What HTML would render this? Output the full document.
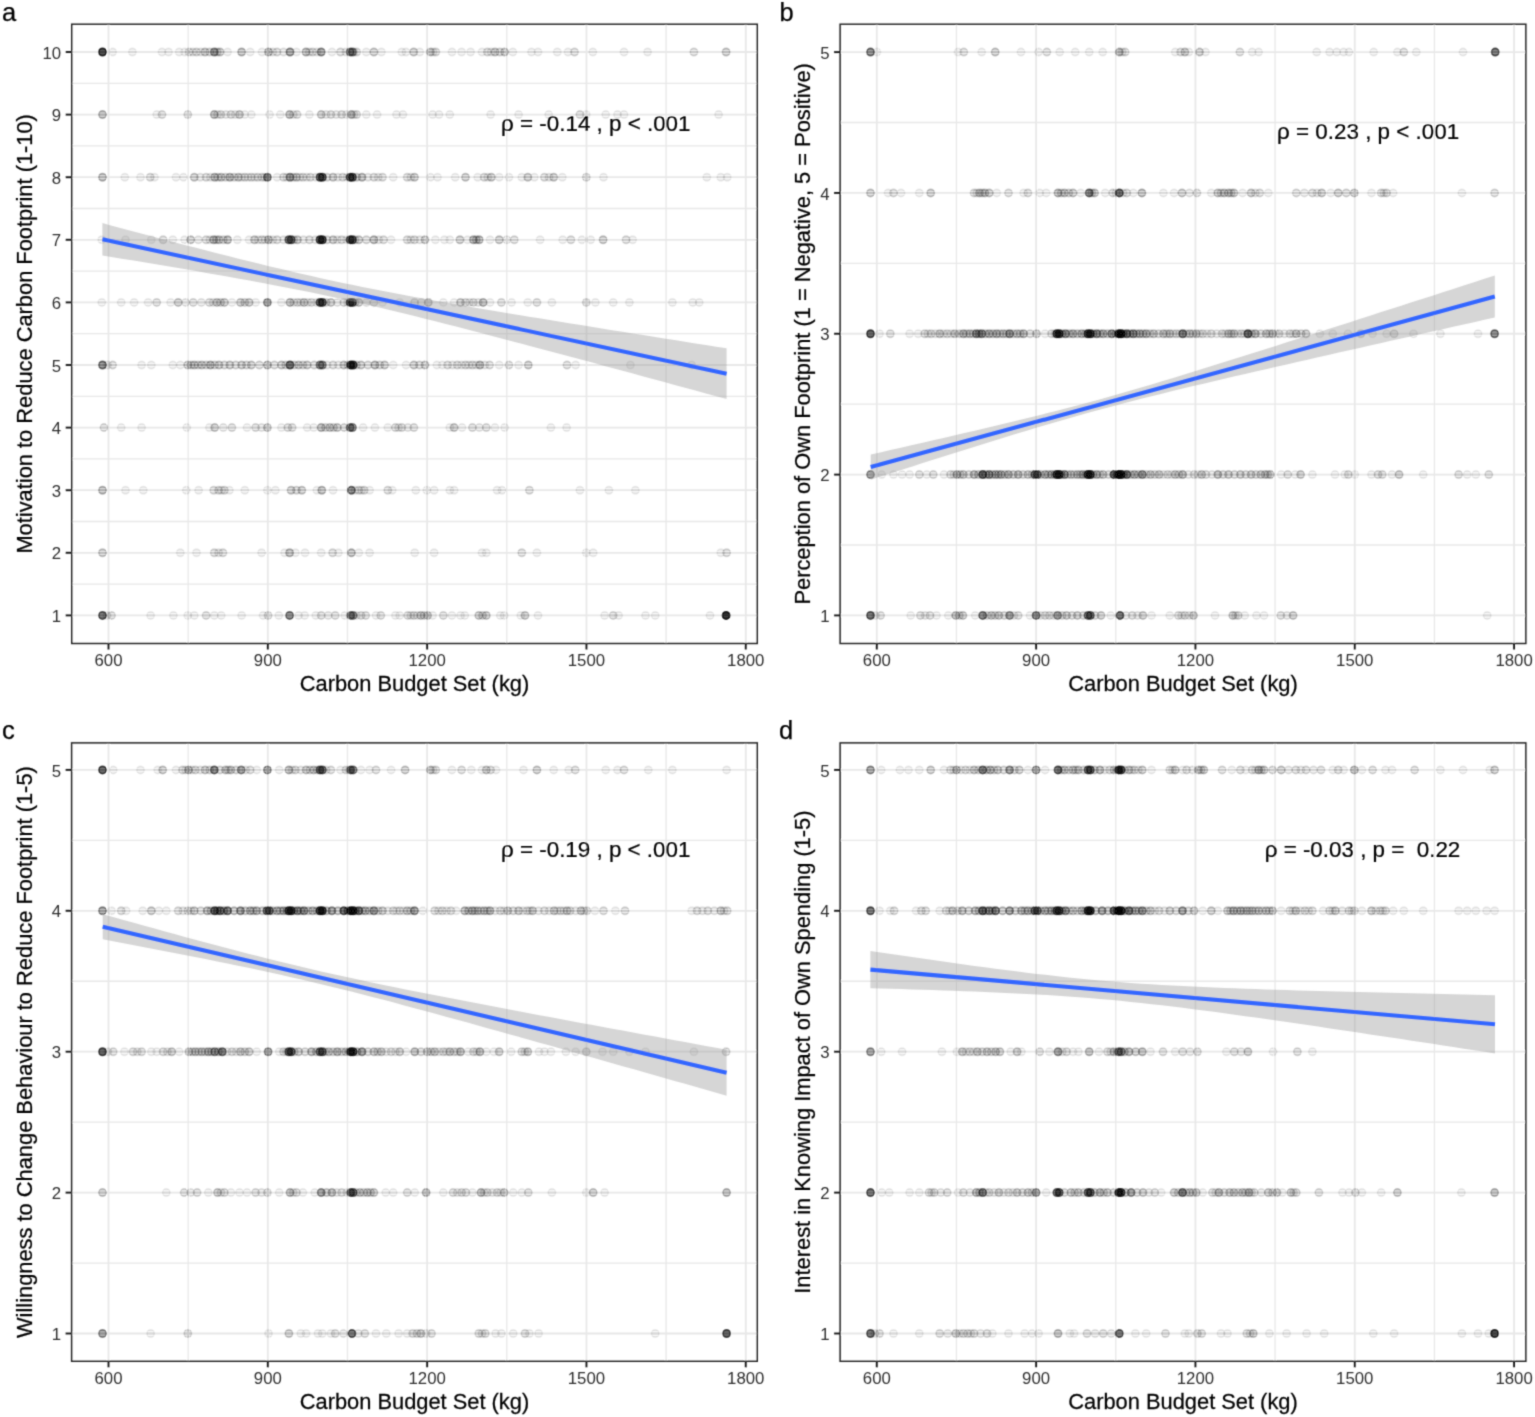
<!DOCTYPE html><html><head><meta charset="utf-8"><style>html,body{margin:0;padding:0;background:#fff;}svg{display:block;}</style></head><body>
<svg width="1535" height="1417" viewBox="0 0 1535 1417" font-family="'Liberation Sans', Arial, Helvetica, sans-serif">
<rect width="1535" height="1417" fill="#fff"/>
<defs><filter id="soft" x="0" y="0" width="100%" height="100%" filterUnits="userSpaceOnUse"><feConvolveMatrix order="3" kernelMatrix="1 4.0 1 4.0 16.0 4.0 1 4.0 1" divisor="36.0" edgeMode="duplicate"/></filter></defs>
<g filter="url(#soft)">
<clipPath id="clipa"><rect x="71.7" y="24.2" width="685.6" height="619.3"/></clipPath>
<g clip-path="url(#clipa)">
<line x1="71.7" x2="757.3" y1="584.1" y2="584.1" stroke="#E8E8E8" stroke-width="1.3"/>
<line x1="71.7" x2="757.3" y1="521.5" y2="521.5" stroke="#E8E8E8" stroke-width="1.3"/>
<line x1="71.7" x2="757.3" y1="458.9" y2="458.9" stroke="#E8E8E8" stroke-width="1.3"/>
<line x1="71.7" x2="757.3" y1="396.3" y2="396.3" stroke="#E8E8E8" stroke-width="1.3"/>
<line x1="71.7" x2="757.3" y1="333.7" y2="333.7" stroke="#E8E8E8" stroke-width="1.3"/>
<line x1="71.7" x2="757.3" y1="271.1" y2="271.1" stroke="#E8E8E8" stroke-width="1.3"/>
<line x1="71.7" x2="757.3" y1="208.5" y2="208.5" stroke="#E8E8E8" stroke-width="1.3"/>
<line x1="71.7" x2="757.3" y1="145.9" y2="145.9" stroke="#E8E8E8" stroke-width="1.3"/>
<line x1="71.7" x2="757.3" y1="83.3" y2="83.3" stroke="#E8E8E8" stroke-width="1.3"/>
<line x1="188.16" x2="188.16" y1="24.2" y2="643.5" stroke="#E8E8E8" stroke-width="1.3"/>
<line x1="347.48" x2="347.48" y1="24.2" y2="643.5" stroke="#E8E8E8" stroke-width="1.3"/>
<line x1="506.79" x2="506.79" y1="24.2" y2="643.5" stroke="#E8E8E8" stroke-width="1.3"/>
<line x1="666.11" x2="666.11" y1="24.2" y2="643.5" stroke="#E8E8E8" stroke-width="1.3"/>
<line x1="71.7" x2="757.3" y1="615.4" y2="615.4" stroke="#E8E8E8" stroke-width="1.8"/>
<line x1="71.7" x2="757.3" y1="552.8" y2="552.8" stroke="#E8E8E8" stroke-width="1.8"/>
<line x1="71.7" x2="757.3" y1="490.2" y2="490.2" stroke="#E8E8E8" stroke-width="1.8"/>
<line x1="71.7" x2="757.3" y1="427.6" y2="427.6" stroke="#E8E8E8" stroke-width="1.8"/>
<line x1="71.7" x2="757.3" y1="365" y2="365" stroke="#E8E8E8" stroke-width="1.8"/>
<line x1="71.7" x2="757.3" y1="302.4" y2="302.4" stroke="#E8E8E8" stroke-width="1.8"/>
<line x1="71.7" x2="757.3" y1="239.8" y2="239.8" stroke="#E8E8E8" stroke-width="1.8"/>
<line x1="71.7" x2="757.3" y1="177.2" y2="177.2" stroke="#E8E8E8" stroke-width="1.8"/>
<line x1="71.7" x2="757.3" y1="114.6" y2="114.6" stroke="#E8E8E8" stroke-width="1.8"/>
<line x1="71.7" x2="757.3" y1="52" y2="52" stroke="#E8E8E8" stroke-width="1.8"/>
<line x1="108.5" x2="108.5" y1="24.2" y2="643.5" stroke="#E8E8E8" stroke-width="1.8"/>
<line x1="267.82" x2="267.82" y1="24.2" y2="643.5" stroke="#E8E8E8" stroke-width="1.8"/>
<line x1="427.14" x2="427.14" y1="24.2" y2="643.5" stroke="#E8E8E8" stroke-width="1.8"/>
<line x1="586.45" x2="586.45" y1="24.2" y2="643.5" stroke="#E8E8E8" stroke-width="1.8"/>
<line x1="745.77" x2="745.77" y1="24.2" y2="643.5" stroke="#E8E8E8" stroke-width="1.8"/>
<g>
<circle cx="102.5" cy="52" r="3.75" fill="#000" fill-opacity="0.735" stroke="#000" stroke-opacity="0.773" stroke-width="1.5"/>
<circle cx="112.6" cy="52" r="3.75" fill="#000" fill-opacity="0.068" stroke="#000" stroke-opacity="0.075" stroke-width="1.5"/>
<circle cx="132.4" cy="52" r="3.75" fill="#000" fill-opacity="0.068" stroke="#000" stroke-opacity="0.075" stroke-width="1.5"/>
<circle cx="162" cy="52" r="3.75" fill="#000" fill-opacity="0.068" stroke="#000" stroke-opacity="0.075" stroke-width="1.5"/>
<circle cx="168.5" cy="52" r="3.75" fill="#000" fill-opacity="0.068" stroke="#000" stroke-opacity="0.075" stroke-width="1.5"/>
<circle cx="179.2" cy="52" r="3.75" fill="#000" fill-opacity="0.068" stroke="#000" stroke-opacity="0.075" stroke-width="1.5"/>
<circle cx="184.6" cy="52" r="3.75" fill="#000" fill-opacity="0.068" stroke="#000" stroke-opacity="0.075" stroke-width="1.5"/>
<circle cx="189" cy="52" r="3.75" fill="#000" fill-opacity="0.130" stroke="#000" stroke-opacity="0.144" stroke-width="1.5"/>
<circle cx="196.5" cy="52" r="3.75" fill="#000" fill-opacity="0.130" stroke="#000" stroke-opacity="0.144" stroke-width="1.5"/>
<circle cx="205" cy="52" r="3.75" fill="#000" fill-opacity="0.189" stroke="#000" stroke-opacity="0.209" stroke-width="1.5"/>
<circle cx="214.3" cy="52" r="3.75" fill="#000" fill-opacity="0.365" stroke="#000" stroke-opacity="0.398" stroke-width="1.5"/>
<circle cx="220" cy="52" r="3.75" fill="#000" fill-opacity="0.189" stroke="#000" stroke-opacity="0.209" stroke-width="1.5"/>
<circle cx="227.6" cy="52" r="3.75" fill="#000" fill-opacity="0.068" stroke="#000" stroke-opacity="0.075" stroke-width="1.5"/>
<circle cx="241.6" cy="52" r="3.75" fill="#000" fill-opacity="0.244" stroke="#000" stroke-opacity="0.268" stroke-width="1.5"/>
<circle cx="250.2" cy="52" r="3.75" fill="#000" fill-opacity="0.068" stroke="#000" stroke-opacity="0.075" stroke-width="1.5"/>
<circle cx="262" cy="52" r="3.75" fill="#000" fill-opacity="0.068" stroke="#000" stroke-opacity="0.075" stroke-width="1.5"/>
<circle cx="268.5" cy="52" r="3.75" fill="#000" fill-opacity="0.244" stroke="#000" stroke-opacity="0.268" stroke-width="1.5"/>
<circle cx="277" cy="52" r="3.75" fill="#000" fill-opacity="0.130" stroke="#000" stroke-opacity="0.144" stroke-width="1.5"/>
<circle cx="290" cy="52" r="3.75" fill="#000" fill-opacity="0.365" stroke="#000" stroke-opacity="0.398" stroke-width="1.5"/>
<circle cx="296.5" cy="52" r="3.75" fill="#000" fill-opacity="0.068" stroke="#000" stroke-opacity="0.075" stroke-width="1.5"/>
<circle cx="306" cy="52" r="3.75" fill="#000" fill-opacity="0.244" stroke="#000" stroke-opacity="0.268" stroke-width="1.5"/>
<circle cx="312.6" cy="52" r="3.75" fill="#000" fill-opacity="0.130" stroke="#000" stroke-opacity="0.144" stroke-width="1.5"/>
<circle cx="321.2" cy="52" r="3.75" fill="#000" fill-opacity="0.365" stroke="#000" stroke-opacity="0.398" stroke-width="1.5"/>
<circle cx="332" cy="52" r="3.75" fill="#000" fill-opacity="0.068" stroke="#000" stroke-opacity="0.075" stroke-width="1.5"/>
<circle cx="340.5" cy="52" r="3.75" fill="#000" fill-opacity="0.130" stroke="#000" stroke-opacity="0.144" stroke-width="1.5"/>
<circle cx="350.1" cy="52" r="3.75" fill="#000" fill-opacity="0.387" stroke="#000" stroke-opacity="0.421" stroke-width="1.5"/>
<circle cx="352.5" cy="52" r="3.75" fill="#000" fill-opacity="0.387" stroke="#000" stroke-opacity="0.421" stroke-width="1.5"/>
<circle cx="356.7" cy="52" r="3.75" fill="#000" fill-opacity="0.130" stroke="#000" stroke-opacity="0.144" stroke-width="1.5"/>
<circle cx="366.3" cy="52" r="3.75" fill="#000" fill-opacity="0.068" stroke="#000" stroke-opacity="0.075" stroke-width="1.5"/>
<circle cx="373.9" cy="52" r="3.75" fill="#000" fill-opacity="0.189" stroke="#000" stroke-opacity="0.209" stroke-width="1.5"/>
<circle cx="381.4" cy="52" r="3.75" fill="#000" fill-opacity="0.068" stroke="#000" stroke-opacity="0.075" stroke-width="1.5"/>
<circle cx="401.8" cy="52" r="3.75" fill="#000" fill-opacity="0.068" stroke="#000" stroke-opacity="0.075" stroke-width="1.5"/>
<circle cx="406" cy="52" r="3.75" fill="#000" fill-opacity="0.068" stroke="#000" stroke-opacity="0.075" stroke-width="1.5"/>
<circle cx="413.7" cy="52" r="3.75" fill="#000" fill-opacity="0.189" stroke="#000" stroke-opacity="0.209" stroke-width="1.5"/>
<circle cx="419.7" cy="52" r="3.75" fill="#000" fill-opacity="0.068" stroke="#000" stroke-opacity="0.075" stroke-width="1.5"/>
<circle cx="430.4" cy="52" r="3.75" fill="#000" fill-opacity="0.189" stroke="#000" stroke-opacity="0.209" stroke-width="1.5"/>
<circle cx="435.8" cy="52" r="3.75" fill="#000" fill-opacity="0.130" stroke="#000" stroke-opacity="0.144" stroke-width="1.5"/>
<circle cx="452" cy="52" r="3.75" fill="#000" fill-opacity="0.068" stroke="#000" stroke-opacity="0.075" stroke-width="1.5"/>
<circle cx="461.6" cy="52" r="3.75" fill="#000" fill-opacity="0.068" stroke="#000" stroke-opacity="0.075" stroke-width="1.5"/>
<circle cx="470.6" cy="52" r="3.75" fill="#000" fill-opacity="0.068" stroke="#000" stroke-opacity="0.075" stroke-width="1.5"/>
<circle cx="482" cy="52" r="3.75" fill="#000" fill-opacity="0.068" stroke="#000" stroke-opacity="0.075" stroke-width="1.5"/>
<circle cx="487.4" cy="52" r="3.75" fill="#000" fill-opacity="0.130" stroke="#000" stroke-opacity="0.144" stroke-width="1.5"/>
<circle cx="495" cy="52" r="3.75" fill="#000" fill-opacity="0.189" stroke="#000" stroke-opacity="0.209" stroke-width="1.5"/>
<circle cx="504.6" cy="52" r="3.75" fill="#000" fill-opacity="0.189" stroke="#000" stroke-opacity="0.209" stroke-width="1.5"/>
<circle cx="512.8" cy="52" r="3.75" fill="#000" fill-opacity="0.068" stroke="#000" stroke-opacity="0.075" stroke-width="1.5"/>
<circle cx="531.5" cy="52" r="3.75" fill="#000" fill-opacity="0.068" stroke="#000" stroke-opacity="0.075" stroke-width="1.5"/>
<circle cx="538" cy="52" r="3.75" fill="#000" fill-opacity="0.068" stroke="#000" stroke-opacity="0.075" stroke-width="1.5"/>
<circle cx="557.3" cy="52" r="3.75" fill="#000" fill-opacity="0.068" stroke="#000" stroke-opacity="0.075" stroke-width="1.5"/>
<circle cx="568" cy="52" r="3.75" fill="#000" fill-opacity="0.068" stroke="#000" stroke-opacity="0.075" stroke-width="1.5"/>
<circle cx="574.5" cy="52" r="3.75" fill="#000" fill-opacity="0.130" stroke="#000" stroke-opacity="0.144" stroke-width="1.5"/>
<circle cx="592.8" cy="52" r="3.75" fill="#000" fill-opacity="0.068" stroke="#000" stroke-opacity="0.075" stroke-width="1.5"/>
<circle cx="624" cy="52" r="3.75" fill="#000" fill-opacity="0.068" stroke="#000" stroke-opacity="0.075" stroke-width="1.5"/>
<circle cx="647.6" cy="52" r="3.75" fill="#000" fill-opacity="0.068" stroke="#000" stroke-opacity="0.075" stroke-width="1.5"/>
<circle cx="693.9" cy="52" r="3.75" fill="#000" fill-opacity="0.130" stroke="#000" stroke-opacity="0.144" stroke-width="1.5"/>
<circle cx="726.1" cy="52" r="3.75" fill="#000" fill-opacity="0.189" stroke="#000" stroke-opacity="0.209" stroke-width="1.5"/>
<circle cx="192.75" cy="52" r="3.75" fill="#000" fill-opacity="0.093" stroke="#000" stroke-opacity="0.103" stroke-width="1.5"/>
<circle cx="200.75" cy="52" r="3.75" fill="#000" fill-opacity="0.093" stroke="#000" stroke-opacity="0.103" stroke-width="1.5"/>
<circle cx="209.65" cy="52" r="3.75" fill="#000" fill-opacity="0.136" stroke="#000" stroke-opacity="0.151" stroke-width="1.5"/>
<circle cx="217.15" cy="52" r="3.75" fill="#000" fill-opacity="0.136" stroke="#000" stroke-opacity="0.151" stroke-width="1.5"/>
<circle cx="272.75" cy="52" r="3.75" fill="#000" fill-opacity="0.093" stroke="#000" stroke-opacity="0.103" stroke-width="1.5"/>
<circle cx="283.5" cy="52" r="3.75" fill="#000" fill-opacity="0.093" stroke="#000" stroke-opacity="0.103" stroke-width="1.5"/>
<circle cx="309.3" cy="52" r="3.75" fill="#000" fill-opacity="0.093" stroke="#000" stroke-opacity="0.103" stroke-width="1.5"/>
<circle cx="316.9" cy="52" r="3.75" fill="#000" fill-opacity="0.093" stroke="#000" stroke-opacity="0.103" stroke-width="1.5"/>
<circle cx="345.9" cy="52" r="3.75" fill="#000" fill-opacity="0.093" stroke="#000" stroke-opacity="0.103" stroke-width="1.5"/>
<circle cx="354" cy="52" r="3.75" fill="#000" fill-opacity="0.093" stroke="#000" stroke-opacity="0.103" stroke-width="1.5"/>
<circle cx="433.1" cy="52" r="3.75" fill="#000" fill-opacity="0.093" stroke="#000" stroke-opacity="0.103" stroke-width="1.5"/>
<circle cx="491.2" cy="52" r="3.75" fill="#000" fill-opacity="0.093" stroke="#000" stroke-opacity="0.103" stroke-width="1.5"/>
<circle cx="499.8" cy="52" r="3.75" fill="#000" fill-opacity="0.136" stroke="#000" stroke-opacity="0.151" stroke-width="1.5"/>
<circle cx="102.5" cy="114.6" r="3.75" fill="#000" fill-opacity="0.244" stroke="#000" stroke-opacity="0.268" stroke-width="1.5"/>
<circle cx="156.7" cy="114.6" r="3.75" fill="#000" fill-opacity="0.068" stroke="#000" stroke-opacity="0.075" stroke-width="1.5"/>
<circle cx="162" cy="114.6" r="3.75" fill="#000" fill-opacity="0.130" stroke="#000" stroke-opacity="0.144" stroke-width="1.5"/>
<circle cx="187.8" cy="114.6" r="3.75" fill="#000" fill-opacity="0.130" stroke="#000" stroke-opacity="0.144" stroke-width="1.5"/>
<circle cx="214.3" cy="114.6" r="3.75" fill="#000" fill-opacity="0.244" stroke="#000" stroke-opacity="0.268" stroke-width="1.5"/>
<circle cx="220.8" cy="114.6" r="3.75" fill="#000" fill-opacity="0.130" stroke="#000" stroke-opacity="0.144" stroke-width="1.5"/>
<circle cx="230.9" cy="114.6" r="3.75" fill="#000" fill-opacity="0.130" stroke="#000" stroke-opacity="0.144" stroke-width="1.5"/>
<circle cx="239.5" cy="114.6" r="3.75" fill="#000" fill-opacity="0.189" stroke="#000" stroke-opacity="0.209" stroke-width="1.5"/>
<circle cx="244.8" cy="114.6" r="3.75" fill="#000" fill-opacity="0.068" stroke="#000" stroke-opacity="0.075" stroke-width="1.5"/>
<circle cx="251.3" cy="114.6" r="3.75" fill="#000" fill-opacity="0.068" stroke="#000" stroke-opacity="0.075" stroke-width="1.5"/>
<circle cx="269.6" cy="114.6" r="3.75" fill="#000" fill-opacity="0.068" stroke="#000" stroke-opacity="0.075" stroke-width="1.5"/>
<circle cx="280.3" cy="114.6" r="3.75" fill="#000" fill-opacity="0.068" stroke="#000" stroke-opacity="0.075" stroke-width="1.5"/>
<circle cx="289.6" cy="114.6" r="3.75" fill="#000" fill-opacity="0.244" stroke="#000" stroke-opacity="0.268" stroke-width="1.5"/>
<circle cx="297.1" cy="114.6" r="3.75" fill="#000" fill-opacity="0.130" stroke="#000" stroke-opacity="0.144" stroke-width="1.5"/>
<circle cx="309.4" cy="114.6" r="3.75" fill="#000" fill-opacity="0.068" stroke="#000" stroke-opacity="0.075" stroke-width="1.5"/>
<circle cx="321.2" cy="114.6" r="3.75" fill="#000" fill-opacity="0.189" stroke="#000" stroke-opacity="0.209" stroke-width="1.5"/>
<circle cx="330.9" cy="114.6" r="3.75" fill="#000" fill-opacity="0.130" stroke="#000" stroke-opacity="0.144" stroke-width="1.5"/>
<circle cx="341.6" cy="114.6" r="3.75" fill="#000" fill-opacity="0.130" stroke="#000" stroke-opacity="0.144" stroke-width="1.5"/>
<circle cx="351.3" cy="114.6" r="3.75" fill="#000" fill-opacity="0.244" stroke="#000" stroke-opacity="0.268" stroke-width="1.5"/>
<circle cx="356.7" cy="114.6" r="3.75" fill="#000" fill-opacity="0.130" stroke="#000" stroke-opacity="0.144" stroke-width="1.5"/>
<circle cx="366.3" cy="114.6" r="3.75" fill="#000" fill-opacity="0.068" stroke="#000" stroke-opacity="0.075" stroke-width="1.5"/>
<circle cx="377.1" cy="114.6" r="3.75" fill="#000" fill-opacity="0.068" stroke="#000" stroke-opacity="0.075" stroke-width="1.5"/>
<circle cx="396.5" cy="114.6" r="3.75" fill="#000" fill-opacity="0.068" stroke="#000" stroke-opacity="0.075" stroke-width="1.5"/>
<circle cx="402.9" cy="114.6" r="3.75" fill="#000" fill-opacity="0.068" stroke="#000" stroke-opacity="0.075" stroke-width="1.5"/>
<circle cx="432.6" cy="114.6" r="3.75" fill="#000" fill-opacity="0.068" stroke="#000" stroke-opacity="0.075" stroke-width="1.5"/>
<circle cx="439" cy="114.6" r="3.75" fill="#000" fill-opacity="0.068" stroke="#000" stroke-opacity="0.075" stroke-width="1.5"/>
<circle cx="449.8" cy="114.6" r="3.75" fill="#000" fill-opacity="0.068" stroke="#000" stroke-opacity="0.075" stroke-width="1.5"/>
<circle cx="490.6" cy="114.6" r="3.75" fill="#000" fill-opacity="0.068" stroke="#000" stroke-opacity="0.075" stroke-width="1.5"/>
<circle cx="518.6" cy="114.6" r="3.75" fill="#000" fill-opacity="0.068" stroke="#000" stroke-opacity="0.075" stroke-width="1.5"/>
<circle cx="548.7" cy="114.6" r="3.75" fill="#000" fill-opacity="0.068" stroke="#000" stroke-opacity="0.075" stroke-width="1.5"/>
<circle cx="579.9" cy="114.6" r="3.75" fill="#000" fill-opacity="0.130" stroke="#000" stroke-opacity="0.144" stroke-width="1.5"/>
<circle cx="586.3" cy="114.6" r="3.75" fill="#000" fill-opacity="0.068" stroke="#000" stroke-opacity="0.075" stroke-width="1.5"/>
<circle cx="605.7" cy="114.6" r="3.75" fill="#000" fill-opacity="0.068" stroke="#000" stroke-opacity="0.075" stroke-width="1.5"/>
<circle cx="617.5" cy="114.6" r="3.75" fill="#000" fill-opacity="0.068" stroke="#000" stroke-opacity="0.075" stroke-width="1.5"/>
<circle cx="624" cy="114.6" r="3.75" fill="#000" fill-opacity="0.068" stroke="#000" stroke-opacity="0.075" stroke-width="1.5"/>
<circle cx="718.6" cy="114.6" r="3.75" fill="#000" fill-opacity="0.068" stroke="#000" stroke-opacity="0.075" stroke-width="1.5"/>
<circle cx="217.55" cy="114.6" r="3.75" fill="#000" fill-opacity="0.093" stroke="#000" stroke-opacity="0.103" stroke-width="1.5"/>
<circle cx="225.85" cy="114.6" r="3.75" fill="#000" fill-opacity="0.093" stroke="#000" stroke-opacity="0.103" stroke-width="1.5"/>
<circle cx="235.2" cy="114.6" r="3.75" fill="#000" fill-opacity="0.093" stroke="#000" stroke-opacity="0.103" stroke-width="1.5"/>
<circle cx="293.35" cy="114.6" r="3.75" fill="#000" fill-opacity="0.093" stroke="#000" stroke-opacity="0.103" stroke-width="1.5"/>
<circle cx="326.05" cy="114.6" r="3.75" fill="#000" fill-opacity="0.093" stroke="#000" stroke-opacity="0.103" stroke-width="1.5"/>
<circle cx="336.25" cy="114.6" r="3.75" fill="#000" fill-opacity="0.093" stroke="#000" stroke-opacity="0.103" stroke-width="1.5"/>
<circle cx="346.45" cy="114.6" r="3.75" fill="#000" fill-opacity="0.093" stroke="#000" stroke-opacity="0.103" stroke-width="1.5"/>
<circle cx="354" cy="114.6" r="3.75" fill="#000" fill-opacity="0.093" stroke="#000" stroke-opacity="0.103" stroke-width="1.5"/>
<circle cx="102.5" cy="177.2" r="3.75" fill="#000" fill-opacity="0.244" stroke="#000" stroke-opacity="0.268" stroke-width="1.5"/>
<circle cx="124.8" cy="177.2" r="3.75" fill="#000" fill-opacity="0.068" stroke="#000" stroke-opacity="0.075" stroke-width="1.5"/>
<circle cx="140.5" cy="177.2" r="3.75" fill="#000" fill-opacity="0.068" stroke="#000" stroke-opacity="0.075" stroke-width="1.5"/>
<circle cx="150.2" cy="177.2" r="3.75" fill="#000" fill-opacity="0.130" stroke="#000" stroke-opacity="0.144" stroke-width="1.5"/>
<circle cx="154.5" cy="177.2" r="3.75" fill="#000" fill-opacity="0.068" stroke="#000" stroke-opacity="0.075" stroke-width="1.5"/>
<circle cx="176" cy="177.2" r="3.75" fill="#000" fill-opacity="0.068" stroke="#000" stroke-opacity="0.075" stroke-width="1.5"/>
<circle cx="183.5" cy="177.2" r="3.75" fill="#000" fill-opacity="0.068" stroke="#000" stroke-opacity="0.075" stroke-width="1.5"/>
<circle cx="194.3" cy="177.2" r="3.75" fill="#000" fill-opacity="0.189" stroke="#000" stroke-opacity="0.209" stroke-width="1.5"/>
<circle cx="206.1" cy="177.2" r="3.75" fill="#000" fill-opacity="0.130" stroke="#000" stroke-opacity="0.144" stroke-width="1.5"/>
<circle cx="214.7" cy="177.2" r="3.75" fill="#000" fill-opacity="0.244" stroke="#000" stroke-opacity="0.268" stroke-width="1.5"/>
<circle cx="221.2" cy="177.2" r="3.75" fill="#000" fill-opacity="0.189" stroke="#000" stroke-opacity="0.209" stroke-width="1.5"/>
<circle cx="229.8" cy="177.2" r="3.75" fill="#000" fill-opacity="0.244" stroke="#000" stroke-opacity="0.268" stroke-width="1.5"/>
<circle cx="238.4" cy="177.2" r="3.75" fill="#000" fill-opacity="0.189" stroke="#000" stroke-opacity="0.209" stroke-width="1.5"/>
<circle cx="244.8" cy="177.2" r="3.75" fill="#000" fill-opacity="0.130" stroke="#000" stroke-opacity="0.144" stroke-width="1.5"/>
<circle cx="251.3" cy="177.2" r="3.75" fill="#000" fill-opacity="0.130" stroke="#000" stroke-opacity="0.144" stroke-width="1.5"/>
<circle cx="257.8" cy="177.2" r="3.75" fill="#000" fill-opacity="0.130" stroke="#000" stroke-opacity="0.144" stroke-width="1.5"/>
<circle cx="262" cy="177.2" r="3.75" fill="#000" fill-opacity="0.130" stroke="#000" stroke-opacity="0.144" stroke-width="1.5"/>
<circle cx="267.4" cy="177.2" r="3.75" fill="#000" fill-opacity="0.467" stroke="#000" stroke-opacity="0.504" stroke-width="1.5"/>
<circle cx="277.1" cy="177.2" r="3.75" fill="#000" fill-opacity="0.068" stroke="#000" stroke-opacity="0.075" stroke-width="1.5"/>
<circle cx="283.5" cy="177.2" r="3.75" fill="#000" fill-opacity="0.130" stroke="#000" stroke-opacity="0.144" stroke-width="1.5"/>
<circle cx="290" cy="177.2" r="3.75" fill="#000" fill-opacity="0.365" stroke="#000" stroke-opacity="0.398" stroke-width="1.5"/>
<circle cx="296.5" cy="177.2" r="3.75" fill="#000" fill-opacity="0.189" stroke="#000" stroke-opacity="0.209" stroke-width="1.5"/>
<circle cx="302.9" cy="177.2" r="3.75" fill="#000" fill-opacity="0.130" stroke="#000" stroke-opacity="0.144" stroke-width="1.5"/>
<circle cx="310.4" cy="177.2" r="3.75" fill="#000" fill-opacity="0.130" stroke="#000" stroke-opacity="0.144" stroke-width="1.5"/>
<circle cx="320" cy="177.2" r="3.75" fill="#000" fill-opacity="0.568" stroke="#000" stroke-opacity="0.608" stroke-width="1.5"/>
<circle cx="322.4" cy="177.2" r="3.75" fill="#000" fill-opacity="0.568" stroke="#000" stroke-opacity="0.608" stroke-width="1.5"/>
<circle cx="333" cy="177.2" r="3.75" fill="#000" fill-opacity="0.189" stroke="#000" stroke-opacity="0.209" stroke-width="1.5"/>
<circle cx="342.7" cy="177.2" r="3.75" fill="#000" fill-opacity="0.130" stroke="#000" stroke-opacity="0.144" stroke-width="1.5"/>
<circle cx="350.1" cy="177.2" r="3.75" fill="#000" fill-opacity="0.568" stroke="#000" stroke-opacity="0.608" stroke-width="1.5"/>
<circle cx="352.5" cy="177.2" r="3.75" fill="#000" fill-opacity="0.568" stroke="#000" stroke-opacity="0.608" stroke-width="1.5"/>
<circle cx="362" cy="177.2" r="3.75" fill="#000" fill-opacity="0.244" stroke="#000" stroke-opacity="0.268" stroke-width="1.5"/>
<circle cx="373.9" cy="177.2" r="3.75" fill="#000" fill-opacity="0.130" stroke="#000" stroke-opacity="0.144" stroke-width="1.5"/>
<circle cx="382.5" cy="177.2" r="3.75" fill="#000" fill-opacity="0.130" stroke="#000" stroke-opacity="0.144" stroke-width="1.5"/>
<circle cx="393.2" cy="177.2" r="3.75" fill="#000" fill-opacity="0.068" stroke="#000" stroke-opacity="0.075" stroke-width="1.5"/>
<circle cx="407.2" cy="177.2" r="3.75" fill="#000" fill-opacity="0.130" stroke="#000" stroke-opacity="0.144" stroke-width="1.5"/>
<circle cx="414.5" cy="177.2" r="3.75" fill="#000" fill-opacity="0.189" stroke="#000" stroke-opacity="0.209" stroke-width="1.5"/>
<circle cx="430.4" cy="177.2" r="3.75" fill="#000" fill-opacity="0.068" stroke="#000" stroke-opacity="0.075" stroke-width="1.5"/>
<circle cx="437.5" cy="177.2" r="3.75" fill="#000" fill-opacity="0.068" stroke="#000" stroke-opacity="0.075" stroke-width="1.5"/>
<circle cx="455.2" cy="177.2" r="3.75" fill="#000" fill-opacity="0.068" stroke="#000" stroke-opacity="0.075" stroke-width="1.5"/>
<circle cx="465.5" cy="177.2" r="3.75" fill="#000" fill-opacity="0.189" stroke="#000" stroke-opacity="0.209" stroke-width="1.5"/>
<circle cx="477.7" cy="177.2" r="3.75" fill="#000" fill-opacity="0.068" stroke="#000" stroke-opacity="0.075" stroke-width="1.5"/>
<circle cx="484.2" cy="177.2" r="3.75" fill="#000" fill-opacity="0.130" stroke="#000" stroke-opacity="0.144" stroke-width="1.5"/>
<circle cx="491.3" cy="177.2" r="3.75" fill="#000" fill-opacity="0.189" stroke="#000" stroke-opacity="0.209" stroke-width="1.5"/>
<circle cx="499.2" cy="177.2" r="3.75" fill="#000" fill-opacity="0.068" stroke="#000" stroke-opacity="0.075" stroke-width="1.5"/>
<circle cx="508.9" cy="177.2" r="3.75" fill="#000" fill-opacity="0.068" stroke="#000" stroke-opacity="0.075" stroke-width="1.5"/>
<circle cx="521.8" cy="177.2" r="3.75" fill="#000" fill-opacity="0.068" stroke="#000" stroke-opacity="0.075" stroke-width="1.5"/>
<circle cx="527.8" cy="177.2" r="3.75" fill="#000" fill-opacity="0.189" stroke="#000" stroke-opacity="0.209" stroke-width="1.5"/>
<circle cx="534.3" cy="177.2" r="3.75" fill="#000" fill-opacity="0.068" stroke="#000" stroke-opacity="0.075" stroke-width="1.5"/>
<circle cx="544.4" cy="177.2" r="3.75" fill="#000" fill-opacity="0.130" stroke="#000" stroke-opacity="0.144" stroke-width="1.5"/>
<circle cx="553.7" cy="177.2" r="3.75" fill="#000" fill-opacity="0.189" stroke="#000" stroke-opacity="0.209" stroke-width="1.5"/>
<circle cx="562.3" cy="177.2" r="3.75" fill="#000" fill-opacity="0.068" stroke="#000" stroke-opacity="0.075" stroke-width="1.5"/>
<circle cx="586.3" cy="177.2" r="3.75" fill="#000" fill-opacity="0.130" stroke="#000" stroke-opacity="0.144" stroke-width="1.5"/>
<circle cx="603.5" cy="177.2" r="3.75" fill="#000" fill-opacity="0.068" stroke="#000" stroke-opacity="0.075" stroke-width="1.5"/>
<circle cx="706.8" cy="177.2" r="3.75" fill="#000" fill-opacity="0.068" stroke="#000" stroke-opacity="0.075" stroke-width="1.5"/>
<circle cx="720.8" cy="177.2" r="3.75" fill="#000" fill-opacity="0.068" stroke="#000" stroke-opacity="0.075" stroke-width="1.5"/>
<circle cx="727.2" cy="177.2" r="3.75" fill="#000" fill-opacity="0.068" stroke="#000" stroke-opacity="0.075" stroke-width="1.5"/>
<circle cx="200.2" cy="177.2" r="3.75" fill="#000" fill-opacity="0.093" stroke="#000" stroke-opacity="0.103" stroke-width="1.5"/>
<circle cx="210.4" cy="177.2" r="3.75" fill="#000" fill-opacity="0.093" stroke="#000" stroke-opacity="0.103" stroke-width="1.5"/>
<circle cx="217.95" cy="177.2" r="3.75" fill="#000" fill-opacity="0.136" stroke="#000" stroke-opacity="0.151" stroke-width="1.5"/>
<circle cx="225.5" cy="177.2" r="3.75" fill="#000" fill-opacity="0.136" stroke="#000" stroke-opacity="0.151" stroke-width="1.5"/>
<circle cx="234.1" cy="177.2" r="3.75" fill="#000" fill-opacity="0.136" stroke="#000" stroke-opacity="0.151" stroke-width="1.5"/>
<circle cx="241.6" cy="177.2" r="3.75" fill="#000" fill-opacity="0.093" stroke="#000" stroke-opacity="0.103" stroke-width="1.5"/>
<circle cx="248.05" cy="177.2" r="3.75" fill="#000" fill-opacity="0.093" stroke="#000" stroke-opacity="0.103" stroke-width="1.5"/>
<circle cx="254.55" cy="177.2" r="3.75" fill="#000" fill-opacity="0.093" stroke="#000" stroke-opacity="0.103" stroke-width="1.5"/>
<circle cx="264.7" cy="177.2" r="3.75" fill="#000" fill-opacity="0.093" stroke="#000" stroke-opacity="0.103" stroke-width="1.5"/>
<circle cx="286.75" cy="177.2" r="3.75" fill="#000" fill-opacity="0.093" stroke="#000" stroke-opacity="0.103" stroke-width="1.5"/>
<circle cx="293.25" cy="177.2" r="3.75" fill="#000" fill-opacity="0.136" stroke="#000" stroke-opacity="0.151" stroke-width="1.5"/>
<circle cx="299.7" cy="177.2" r="3.75" fill="#000" fill-opacity="0.093" stroke="#000" stroke-opacity="0.103" stroke-width="1.5"/>
<circle cx="306.65" cy="177.2" r="3.75" fill="#000" fill-opacity="0.093" stroke="#000" stroke-opacity="0.103" stroke-width="1.5"/>
<circle cx="315.8" cy="177.2" r="3.75" fill="#000" fill-opacity="0.093" stroke="#000" stroke-opacity="0.103" stroke-width="1.5"/>
<circle cx="327.1" cy="177.2" r="3.75" fill="#000" fill-opacity="0.136" stroke="#000" stroke-opacity="0.151" stroke-width="1.5"/>
<circle cx="337.85" cy="177.2" r="3.75" fill="#000" fill-opacity="0.093" stroke="#000" stroke-opacity="0.103" stroke-width="1.5"/>
<circle cx="347" cy="177.2" r="3.75" fill="#000" fill-opacity="0.093" stroke="#000" stroke-opacity="0.103" stroke-width="1.5"/>
<circle cx="356.65" cy="177.2" r="3.75" fill="#000" fill-opacity="0.178" stroke="#000" stroke-opacity="0.196" stroke-width="1.5"/>
<circle cx="367.95" cy="177.2" r="3.75" fill="#000" fill-opacity="0.093" stroke="#000" stroke-opacity="0.103" stroke-width="1.5"/>
<circle cx="378.2" cy="177.2" r="3.75" fill="#000" fill-opacity="0.093" stroke="#000" stroke-opacity="0.103" stroke-width="1.5"/>
<circle cx="410.85" cy="177.2" r="3.75" fill="#000" fill-opacity="0.093" stroke="#000" stroke-opacity="0.103" stroke-width="1.5"/>
<circle cx="487.75" cy="177.2" r="3.75" fill="#000" fill-opacity="0.093" stroke="#000" stroke-opacity="0.103" stroke-width="1.5"/>
<circle cx="549.05" cy="177.2" r="3.75" fill="#000" fill-opacity="0.093" stroke="#000" stroke-opacity="0.103" stroke-width="1.5"/>
<circle cx="101.8" cy="239.8" r="3.75" fill="#000" fill-opacity="0.068" stroke="#000" stroke-opacity="0.075" stroke-width="1.5"/>
<circle cx="125.5" cy="239.8" r="3.75" fill="#000" fill-opacity="0.068" stroke="#000" stroke-opacity="0.075" stroke-width="1.5"/>
<circle cx="151.3" cy="239.8" r="3.75" fill="#000" fill-opacity="0.068" stroke="#000" stroke-opacity="0.075" stroke-width="1.5"/>
<circle cx="163.1" cy="239.8" r="3.75" fill="#000" fill-opacity="0.130" stroke="#000" stroke-opacity="0.144" stroke-width="1.5"/>
<circle cx="172.8" cy="239.8" r="3.75" fill="#000" fill-opacity="0.068" stroke="#000" stroke-opacity="0.075" stroke-width="1.5"/>
<circle cx="184.6" cy="239.8" r="3.75" fill="#000" fill-opacity="0.068" stroke="#000" stroke-opacity="0.075" stroke-width="1.5"/>
<circle cx="190.6" cy="239.8" r="3.75" fill="#000" fill-opacity="0.189" stroke="#000" stroke-opacity="0.209" stroke-width="1.5"/>
<circle cx="206.1" cy="239.8" r="3.75" fill="#000" fill-opacity="0.130" stroke="#000" stroke-opacity="0.144" stroke-width="1.5"/>
<circle cx="213.7" cy="239.8" r="3.75" fill="#000" fill-opacity="0.244" stroke="#000" stroke-opacity="0.268" stroke-width="1.5"/>
<circle cx="219" cy="239.8" r="3.75" fill="#000" fill-opacity="0.189" stroke="#000" stroke-opacity="0.209" stroke-width="1.5"/>
<circle cx="227.6" cy="239.8" r="3.75" fill="#000" fill-opacity="0.244" stroke="#000" stroke-opacity="0.268" stroke-width="1.5"/>
<circle cx="237.3" cy="239.8" r="3.75" fill="#000" fill-opacity="0.068" stroke="#000" stroke-opacity="0.075" stroke-width="1.5"/>
<circle cx="249.1" cy="239.8" r="3.75" fill="#000" fill-opacity="0.068" stroke="#000" stroke-opacity="0.075" stroke-width="1.5"/>
<circle cx="254.5" cy="239.8" r="3.75" fill="#000" fill-opacity="0.189" stroke="#000" stroke-opacity="0.209" stroke-width="1.5"/>
<circle cx="262" cy="239.8" r="3.75" fill="#000" fill-opacity="0.130" stroke="#000" stroke-opacity="0.144" stroke-width="1.5"/>
<circle cx="268.5" cy="239.8" r="3.75" fill="#000" fill-opacity="0.244" stroke="#000" stroke-opacity="0.268" stroke-width="1.5"/>
<circle cx="277.1" cy="239.8" r="3.75" fill="#000" fill-opacity="0.130" stroke="#000" stroke-opacity="0.144" stroke-width="1.5"/>
<circle cx="288.8" cy="239.8" r="3.75" fill="#000" fill-opacity="0.485" stroke="#000" stroke-opacity="0.523" stroke-width="1.5"/>
<circle cx="291.2" cy="239.8" r="3.75" fill="#000" fill-opacity="0.485" stroke="#000" stroke-opacity="0.523" stroke-width="1.5"/>
<circle cx="297.5" cy="239.8" r="3.75" fill="#000" fill-opacity="0.189" stroke="#000" stroke-opacity="0.209" stroke-width="1.5"/>
<circle cx="309.4" cy="239.8" r="3.75" fill="#000" fill-opacity="0.130" stroke="#000" stroke-opacity="0.144" stroke-width="1.5"/>
<circle cx="320" cy="239.8" r="3.75" fill="#000" fill-opacity="0.637" stroke="#000" stroke-opacity="0.677" stroke-width="1.5"/>
<circle cx="322.4" cy="239.8" r="3.75" fill="#000" fill-opacity="0.637" stroke="#000" stroke-opacity="0.677" stroke-width="1.5"/>
<circle cx="333" cy="239.8" r="3.75" fill="#000" fill-opacity="0.189" stroke="#000" stroke-opacity="0.209" stroke-width="1.5"/>
<circle cx="341.6" cy="239.8" r="3.75" fill="#000" fill-opacity="0.130" stroke="#000" stroke-opacity="0.144" stroke-width="1.5"/>
<circle cx="350.1" cy="239.8" r="3.75" fill="#000" fill-opacity="0.568" stroke="#000" stroke-opacity="0.608" stroke-width="1.5"/>
<circle cx="352.5" cy="239.8" r="3.75" fill="#000" fill-opacity="0.568" stroke="#000" stroke-opacity="0.608" stroke-width="1.5"/>
<circle cx="358.8" cy="239.8" r="3.75" fill="#000" fill-opacity="0.189" stroke="#000" stroke-opacity="0.209" stroke-width="1.5"/>
<circle cx="373.9" cy="239.8" r="3.75" fill="#000" fill-opacity="0.244" stroke="#000" stroke-opacity="0.268" stroke-width="1.5"/>
<circle cx="383.5" cy="239.8" r="3.75" fill="#000" fill-opacity="0.130" stroke="#000" stroke-opacity="0.144" stroke-width="1.5"/>
<circle cx="391" cy="239.8" r="3.75" fill="#000" fill-opacity="0.068" stroke="#000" stroke-opacity="0.075" stroke-width="1.5"/>
<circle cx="407.2" cy="239.8" r="3.75" fill="#000" fill-opacity="0.130" stroke="#000" stroke-opacity="0.144" stroke-width="1.5"/>
<circle cx="414.5" cy="239.8" r="3.75" fill="#000" fill-opacity="0.130" stroke="#000" stroke-opacity="0.144" stroke-width="1.5"/>
<circle cx="425" cy="239.8" r="3.75" fill="#000" fill-opacity="0.189" stroke="#000" stroke-opacity="0.209" stroke-width="1.5"/>
<circle cx="435.4" cy="239.8" r="3.75" fill="#000" fill-opacity="0.068" stroke="#000" stroke-opacity="0.075" stroke-width="1.5"/>
<circle cx="444.4" cy="239.8" r="3.75" fill="#000" fill-opacity="0.068" stroke="#000" stroke-opacity="0.075" stroke-width="1.5"/>
<circle cx="449.8" cy="239.8" r="3.75" fill="#000" fill-opacity="0.068" stroke="#000" stroke-opacity="0.075" stroke-width="1.5"/>
<circle cx="459.9" cy="239.8" r="3.75" fill="#000" fill-opacity="0.189" stroke="#000" stroke-opacity="0.209" stroke-width="1.5"/>
<circle cx="467.6" cy="239.8" r="3.75" fill="#000" fill-opacity="0.068" stroke="#000" stroke-opacity="0.075" stroke-width="1.5"/>
<circle cx="473.4" cy="239.8" r="3.75" fill="#000" fill-opacity="0.244" stroke="#000" stroke-opacity="0.268" stroke-width="1.5"/>
<circle cx="479.2" cy="239.8" r="3.75" fill="#000" fill-opacity="0.244" stroke="#000" stroke-opacity="0.268" stroke-width="1.5"/>
<circle cx="490" cy="239.8" r="3.75" fill="#000" fill-opacity="0.068" stroke="#000" stroke-opacity="0.075" stroke-width="1.5"/>
<circle cx="499.2" cy="239.8" r="3.75" fill="#000" fill-opacity="0.189" stroke="#000" stroke-opacity="0.209" stroke-width="1.5"/>
<circle cx="514.3" cy="239.8" r="3.75" fill="#000" fill-opacity="0.130" stroke="#000" stroke-opacity="0.144" stroke-width="1.5"/>
<circle cx="540.1" cy="239.8" r="3.75" fill="#000" fill-opacity="0.068" stroke="#000" stroke-opacity="0.075" stroke-width="1.5"/>
<circle cx="562.7" cy="239.8" r="3.75" fill="#000" fill-opacity="0.068" stroke="#000" stroke-opacity="0.075" stroke-width="1.5"/>
<circle cx="570.9" cy="239.8" r="3.75" fill="#000" fill-opacity="0.130" stroke="#000" stroke-opacity="0.144" stroke-width="1.5"/>
<circle cx="582" cy="239.8" r="3.75" fill="#000" fill-opacity="0.068" stroke="#000" stroke-opacity="0.075" stroke-width="1.5"/>
<circle cx="590.6" cy="239.8" r="3.75" fill="#000" fill-opacity="0.068" stroke="#000" stroke-opacity="0.075" stroke-width="1.5"/>
<circle cx="603.1" cy="239.8" r="3.75" fill="#000" fill-opacity="0.189" stroke="#000" stroke-opacity="0.209" stroke-width="1.5"/>
<circle cx="626.1" cy="239.8" r="3.75" fill="#000" fill-opacity="0.130" stroke="#000" stroke-opacity="0.144" stroke-width="1.5"/>
<circle cx="632.6" cy="239.8" r="3.75" fill="#000" fill-opacity="0.068" stroke="#000" stroke-opacity="0.075" stroke-width="1.5"/>
<circle cx="198.35" cy="239.8" r="3.75" fill="#000" fill-opacity="0.093" stroke="#000" stroke-opacity="0.103" stroke-width="1.5"/>
<circle cx="209.9" cy="239.8" r="3.75" fill="#000" fill-opacity="0.093" stroke="#000" stroke-opacity="0.103" stroke-width="1.5"/>
<circle cx="216.35" cy="239.8" r="3.75" fill="#000" fill-opacity="0.136" stroke="#000" stroke-opacity="0.151" stroke-width="1.5"/>
<circle cx="223.3" cy="239.8" r="3.75" fill="#000" fill-opacity="0.136" stroke="#000" stroke-opacity="0.151" stroke-width="1.5"/>
<circle cx="258.25" cy="239.8" r="3.75" fill="#000" fill-opacity="0.093" stroke="#000" stroke-opacity="0.103" stroke-width="1.5"/>
<circle cx="265.25" cy="239.8" r="3.75" fill="#000" fill-opacity="0.093" stroke="#000" stroke-opacity="0.103" stroke-width="1.5"/>
<circle cx="272.8" cy="239.8" r="3.75" fill="#000" fill-opacity="0.093" stroke="#000" stroke-opacity="0.103" stroke-width="1.5"/>
<circle cx="283.55" cy="239.8" r="3.75" fill="#000" fill-opacity="0.093" stroke="#000" stroke-opacity="0.103" stroke-width="1.5"/>
<circle cx="293.75" cy="239.8" r="3.75" fill="#000" fill-opacity="0.136" stroke="#000" stroke-opacity="0.151" stroke-width="1.5"/>
<circle cx="303.45" cy="239.8" r="3.75" fill="#000" fill-opacity="0.093" stroke="#000" stroke-opacity="0.103" stroke-width="1.5"/>
<circle cx="315.3" cy="239.8" r="3.75" fill="#000" fill-opacity="0.093" stroke="#000" stroke-opacity="0.103" stroke-width="1.5"/>
<circle cx="327.1" cy="239.8" r="3.75" fill="#000" fill-opacity="0.136" stroke="#000" stroke-opacity="0.151" stroke-width="1.5"/>
<circle cx="337.3" cy="239.8" r="3.75" fill="#000" fill-opacity="0.093" stroke="#000" stroke-opacity="0.103" stroke-width="1.5"/>
<circle cx="346.45" cy="239.8" r="3.75" fill="#000" fill-opacity="0.093" stroke="#000" stroke-opacity="0.103" stroke-width="1.5"/>
<circle cx="355.05" cy="239.8" r="3.75" fill="#000" fill-opacity="0.136" stroke="#000" stroke-opacity="0.151" stroke-width="1.5"/>
<circle cx="366.35" cy="239.8" r="3.75" fill="#000" fill-opacity="0.136" stroke="#000" stroke-opacity="0.151" stroke-width="1.5"/>
<circle cx="378.7" cy="239.8" r="3.75" fill="#000" fill-opacity="0.093" stroke="#000" stroke-opacity="0.103" stroke-width="1.5"/>
<circle cx="410.85" cy="239.8" r="3.75" fill="#000" fill-opacity="0.093" stroke="#000" stroke-opacity="0.103" stroke-width="1.5"/>
<circle cx="419.75" cy="239.8" r="3.75" fill="#000" fill-opacity="0.093" stroke="#000" stroke-opacity="0.103" stroke-width="1.5"/>
<circle cx="476.3" cy="239.8" r="3.75" fill="#000" fill-opacity="0.178" stroke="#000" stroke-opacity="0.196" stroke-width="1.5"/>
<circle cx="506.75" cy="239.8" r="3.75" fill="#000" fill-opacity="0.093" stroke="#000" stroke-opacity="0.103" stroke-width="1.5"/>
<circle cx="101.8" cy="302.4" r="3.75" fill="#000" fill-opacity="0.068" stroke="#000" stroke-opacity="0.075" stroke-width="1.5"/>
<circle cx="121.2" cy="302.4" r="3.75" fill="#000" fill-opacity="0.068" stroke="#000" stroke-opacity="0.075" stroke-width="1.5"/>
<circle cx="134.1" cy="302.4" r="3.75" fill="#000" fill-opacity="0.068" stroke="#000" stroke-opacity="0.075" stroke-width="1.5"/>
<circle cx="148.1" cy="302.4" r="3.75" fill="#000" fill-opacity="0.068" stroke="#000" stroke-opacity="0.075" stroke-width="1.5"/>
<circle cx="156.7" cy="302.4" r="3.75" fill="#000" fill-opacity="0.130" stroke="#000" stroke-opacity="0.144" stroke-width="1.5"/>
<circle cx="170.6" cy="302.4" r="3.75" fill="#000" fill-opacity="0.068" stroke="#000" stroke-opacity="0.075" stroke-width="1.5"/>
<circle cx="178.2" cy="302.4" r="3.75" fill="#000" fill-opacity="0.189" stroke="#000" stroke-opacity="0.209" stroke-width="1.5"/>
<circle cx="193.2" cy="302.4" r="3.75" fill="#000" fill-opacity="0.130" stroke="#000" stroke-opacity="0.144" stroke-width="1.5"/>
<circle cx="209.4" cy="302.4" r="3.75" fill="#000" fill-opacity="0.130" stroke="#000" stroke-opacity="0.144" stroke-width="1.5"/>
<circle cx="216.9" cy="302.4" r="3.75" fill="#000" fill-opacity="0.189" stroke="#000" stroke-opacity="0.209" stroke-width="1.5"/>
<circle cx="224.4" cy="302.4" r="3.75" fill="#000" fill-opacity="0.189" stroke="#000" stroke-opacity="0.209" stroke-width="1.5"/>
<circle cx="231.9" cy="302.4" r="3.75" fill="#000" fill-opacity="0.068" stroke="#000" stroke-opacity="0.075" stroke-width="1.5"/>
<circle cx="240.5" cy="302.4" r="3.75" fill="#000" fill-opacity="0.189" stroke="#000" stroke-opacity="0.209" stroke-width="1.5"/>
<circle cx="249.1" cy="302.4" r="3.75" fill="#000" fill-opacity="0.189" stroke="#000" stroke-opacity="0.209" stroke-width="1.5"/>
<circle cx="255.6" cy="302.4" r="3.75" fill="#000" fill-opacity="0.068" stroke="#000" stroke-opacity="0.075" stroke-width="1.5"/>
<circle cx="267.4" cy="302.4" r="3.75" fill="#000" fill-opacity="0.365" stroke="#000" stroke-opacity="0.398" stroke-width="1.5"/>
<circle cx="281.4" cy="302.4" r="3.75" fill="#000" fill-opacity="0.068" stroke="#000" stroke-opacity="0.075" stroke-width="1.5"/>
<circle cx="290" cy="302.4" r="3.75" fill="#000" fill-opacity="0.244" stroke="#000" stroke-opacity="0.268" stroke-width="1.5"/>
<circle cx="297.5" cy="302.4" r="3.75" fill="#000" fill-opacity="0.130" stroke="#000" stroke-opacity="0.144" stroke-width="1.5"/>
<circle cx="304" cy="302.4" r="3.75" fill="#000" fill-opacity="0.189" stroke="#000" stroke-opacity="0.209" stroke-width="1.5"/>
<circle cx="311.5" cy="302.4" r="3.75" fill="#000" fill-opacity="0.130" stroke="#000" stroke-opacity="0.144" stroke-width="1.5"/>
<circle cx="320" cy="302.4" r="3.75" fill="#000" fill-opacity="0.568" stroke="#000" stroke-opacity="0.608" stroke-width="1.5"/>
<circle cx="322.4" cy="302.4" r="3.75" fill="#000" fill-opacity="0.568" stroke="#000" stroke-opacity="0.608" stroke-width="1.5"/>
<circle cx="330.9" cy="302.4" r="3.75" fill="#000" fill-opacity="0.189" stroke="#000" stroke-opacity="0.209" stroke-width="1.5"/>
<circle cx="343.8" cy="302.4" r="3.75" fill="#000" fill-opacity="0.130" stroke="#000" stroke-opacity="0.144" stroke-width="1.5"/>
<circle cx="350.1" cy="302.4" r="3.75" fill="#000" fill-opacity="0.568" stroke="#000" stroke-opacity="0.608" stroke-width="1.5"/>
<circle cx="352.5" cy="302.4" r="3.75" fill="#000" fill-opacity="0.568" stroke="#000" stroke-opacity="0.608" stroke-width="1.5"/>
<circle cx="358.8" cy="302.4" r="3.75" fill="#000" fill-opacity="0.189" stroke="#000" stroke-opacity="0.209" stroke-width="1.5"/>
<circle cx="373.9" cy="302.4" r="3.75" fill="#000" fill-opacity="0.130" stroke="#000" stroke-opacity="0.144" stroke-width="1.5"/>
<circle cx="382.5" cy="302.4" r="3.75" fill="#000" fill-opacity="0.068" stroke="#000" stroke-opacity="0.075" stroke-width="1.5"/>
<circle cx="399.7" cy="302.4" r="3.75" fill="#000" fill-opacity="0.068" stroke="#000" stroke-opacity="0.075" stroke-width="1.5"/>
<circle cx="414.5" cy="302.4" r="3.75" fill="#000" fill-opacity="0.130" stroke="#000" stroke-opacity="0.144" stroke-width="1.5"/>
<circle cx="428.3" cy="302.4" r="3.75" fill="#000" fill-opacity="0.189" stroke="#000" stroke-opacity="0.209" stroke-width="1.5"/>
<circle cx="443.3" cy="302.4" r="3.75" fill="#000" fill-opacity="0.068" stroke="#000" stroke-opacity="0.075" stroke-width="1.5"/>
<circle cx="454.1" cy="302.4" r="3.75" fill="#000" fill-opacity="0.068" stroke="#000" stroke-opacity="0.075" stroke-width="1.5"/>
<circle cx="460.5" cy="302.4" r="3.75" fill="#000" fill-opacity="0.189" stroke="#000" stroke-opacity="0.209" stroke-width="1.5"/>
<circle cx="465.5" cy="302.4" r="3.75" fill="#000" fill-opacity="0.130" stroke="#000" stroke-opacity="0.144" stroke-width="1.5"/>
<circle cx="473.4" cy="302.4" r="3.75" fill="#000" fill-opacity="0.130" stroke="#000" stroke-opacity="0.144" stroke-width="1.5"/>
<circle cx="483.1" cy="302.4" r="3.75" fill="#000" fill-opacity="0.244" stroke="#000" stroke-opacity="0.268" stroke-width="1.5"/>
<circle cx="490" cy="302.4" r="3.75" fill="#000" fill-opacity="0.068" stroke="#000" stroke-opacity="0.075" stroke-width="1.5"/>
<circle cx="501.4" cy="302.4" r="3.75" fill="#000" fill-opacity="0.130" stroke="#000" stroke-opacity="0.144" stroke-width="1.5"/>
<circle cx="511.5" cy="302.4" r="3.75" fill="#000" fill-opacity="0.068" stroke="#000" stroke-opacity="0.075" stroke-width="1.5"/>
<circle cx="527.8" cy="302.4" r="3.75" fill="#000" fill-opacity="0.068" stroke="#000" stroke-opacity="0.075" stroke-width="1.5"/>
<circle cx="536.9" cy="302.4" r="3.75" fill="#000" fill-opacity="0.130" stroke="#000" stroke-opacity="0.144" stroke-width="1.5"/>
<circle cx="551.9" cy="302.4" r="3.75" fill="#000" fill-opacity="0.068" stroke="#000" stroke-opacity="0.075" stroke-width="1.5"/>
<circle cx="586.3" cy="302.4" r="3.75" fill="#000" fill-opacity="0.130" stroke="#000" stroke-opacity="0.144" stroke-width="1.5"/>
<circle cx="595.4" cy="302.4" r="3.75" fill="#000" fill-opacity="0.068" stroke="#000" stroke-opacity="0.075" stroke-width="1.5"/>
<circle cx="613.2" cy="302.4" r="3.75" fill="#000" fill-opacity="0.068" stroke="#000" stroke-opacity="0.075" stroke-width="1.5"/>
<circle cx="629.4" cy="302.4" r="3.75" fill="#000" fill-opacity="0.068" stroke="#000" stroke-opacity="0.075" stroke-width="1.5"/>
<circle cx="672.4" cy="302.4" r="3.75" fill="#000" fill-opacity="0.068" stroke="#000" stroke-opacity="0.075" stroke-width="1.5"/>
<circle cx="692.8" cy="302.4" r="3.75" fill="#000" fill-opacity="0.068" stroke="#000" stroke-opacity="0.075" stroke-width="1.5"/>
<circle cx="699.2" cy="302.4" r="3.75" fill="#000" fill-opacity="0.068" stroke="#000" stroke-opacity="0.075" stroke-width="1.5"/>
<circle cx="185.7" cy="302.4" r="3.75" fill="#000" fill-opacity="0.093" stroke="#000" stroke-opacity="0.103" stroke-width="1.5"/>
<circle cx="201.3" cy="302.4" r="3.75" fill="#000" fill-opacity="0.093" stroke="#000" stroke-opacity="0.103" stroke-width="1.5"/>
<circle cx="213.15" cy="302.4" r="3.75" fill="#000" fill-opacity="0.093" stroke="#000" stroke-opacity="0.103" stroke-width="1.5"/>
<circle cx="220.65" cy="302.4" r="3.75" fill="#000" fill-opacity="0.136" stroke="#000" stroke-opacity="0.151" stroke-width="1.5"/>
<circle cx="244.8" cy="302.4" r="3.75" fill="#000" fill-opacity="0.136" stroke="#000" stroke-opacity="0.151" stroke-width="1.5"/>
<circle cx="293.75" cy="302.4" r="3.75" fill="#000" fill-opacity="0.093" stroke="#000" stroke-opacity="0.103" stroke-width="1.5"/>
<circle cx="300.75" cy="302.4" r="3.75" fill="#000" fill-opacity="0.093" stroke="#000" stroke-opacity="0.103" stroke-width="1.5"/>
<circle cx="307.75" cy="302.4" r="3.75" fill="#000" fill-opacity="0.093" stroke="#000" stroke-opacity="0.103" stroke-width="1.5"/>
<circle cx="316.35" cy="302.4" r="3.75" fill="#000" fill-opacity="0.093" stroke="#000" stroke-opacity="0.103" stroke-width="1.5"/>
<circle cx="326.05" cy="302.4" r="3.75" fill="#000" fill-opacity="0.136" stroke="#000" stroke-opacity="0.151" stroke-width="1.5"/>
<circle cx="337.35" cy="302.4" r="3.75" fill="#000" fill-opacity="0.093" stroke="#000" stroke-opacity="0.103" stroke-width="1.5"/>
<circle cx="347.55" cy="302.4" r="3.75" fill="#000" fill-opacity="0.093" stroke="#000" stroke-opacity="0.103" stroke-width="1.5"/>
<circle cx="355.05" cy="302.4" r="3.75" fill="#000" fill-opacity="0.136" stroke="#000" stroke-opacity="0.151" stroke-width="1.5"/>
<circle cx="366.35" cy="302.4" r="3.75" fill="#000" fill-opacity="0.093" stroke="#000" stroke-opacity="0.103" stroke-width="1.5"/>
<circle cx="421.4" cy="302.4" r="3.75" fill="#000" fill-opacity="0.093" stroke="#000" stroke-opacity="0.103" stroke-width="1.5"/>
<circle cx="469.45" cy="302.4" r="3.75" fill="#000" fill-opacity="0.093" stroke="#000" stroke-opacity="0.103" stroke-width="1.5"/>
<circle cx="478.25" cy="302.4" r="3.75" fill="#000" fill-opacity="0.093" stroke="#000" stroke-opacity="0.103" stroke-width="1.5"/>
<circle cx="102.5" cy="365" r="3.75" fill="#000" fill-opacity="0.467" stroke="#000" stroke-opacity="0.504" stroke-width="1.5"/>
<circle cx="112.6" cy="365" r="3.75" fill="#000" fill-opacity="0.130" stroke="#000" stroke-opacity="0.144" stroke-width="1.5"/>
<circle cx="141.6" cy="365" r="3.75" fill="#000" fill-opacity="0.068" stroke="#000" stroke-opacity="0.075" stroke-width="1.5"/>
<circle cx="151.3" cy="365" r="3.75" fill="#000" fill-opacity="0.068" stroke="#000" stroke-opacity="0.075" stroke-width="1.5"/>
<circle cx="172.8" cy="365" r="3.75" fill="#000" fill-opacity="0.068" stroke="#000" stroke-opacity="0.075" stroke-width="1.5"/>
<circle cx="180.3" cy="365" r="3.75" fill="#000" fill-opacity="0.068" stroke="#000" stroke-opacity="0.075" stroke-width="1.5"/>
<circle cx="187.8" cy="365" r="3.75" fill="#000" fill-opacity="0.189" stroke="#000" stroke-opacity="0.209" stroke-width="1.5"/>
<circle cx="194.3" cy="365" r="3.75" fill="#000" fill-opacity="0.189" stroke="#000" stroke-opacity="0.209" stroke-width="1.5"/>
<circle cx="201.8" cy="365" r="3.75" fill="#000" fill-opacity="0.189" stroke="#000" stroke-opacity="0.209" stroke-width="1.5"/>
<circle cx="210.4" cy="365" r="3.75" fill="#000" fill-opacity="0.244" stroke="#000" stroke-opacity="0.268" stroke-width="1.5"/>
<circle cx="219" cy="365" r="3.75" fill="#000" fill-opacity="0.189" stroke="#000" stroke-opacity="0.209" stroke-width="1.5"/>
<circle cx="229.8" cy="365" r="3.75" fill="#000" fill-opacity="0.189" stroke="#000" stroke-opacity="0.209" stroke-width="1.5"/>
<circle cx="241.6" cy="365" r="3.75" fill="#000" fill-opacity="0.189" stroke="#000" stroke-opacity="0.209" stroke-width="1.5"/>
<circle cx="251.3" cy="365" r="3.75" fill="#000" fill-opacity="0.189" stroke="#000" stroke-opacity="0.209" stroke-width="1.5"/>
<circle cx="267.4" cy="365" r="3.75" fill="#000" fill-opacity="0.244" stroke="#000" stroke-opacity="0.268" stroke-width="1.5"/>
<circle cx="281.4" cy="365" r="3.75" fill="#000" fill-opacity="0.189" stroke="#000" stroke-opacity="0.209" stroke-width="1.5"/>
<circle cx="290" cy="365" r="3.75" fill="#000" fill-opacity="0.552" stroke="#000" stroke-opacity="0.592" stroke-width="1.5"/>
<circle cx="298.6" cy="365" r="3.75" fill="#000" fill-opacity="0.189" stroke="#000" stroke-opacity="0.209" stroke-width="1.5"/>
<circle cx="307.2" cy="365" r="3.75" fill="#000" fill-opacity="0.189" stroke="#000" stroke-opacity="0.209" stroke-width="1.5"/>
<circle cx="320" cy="365" r="3.75" fill="#000" fill-opacity="0.387" stroke="#000" stroke-opacity="0.421" stroke-width="1.5"/>
<circle cx="322.4" cy="365" r="3.75" fill="#000" fill-opacity="0.387" stroke="#000" stroke-opacity="0.421" stroke-width="1.5"/>
<circle cx="333" cy="365" r="3.75" fill="#000" fill-opacity="0.130" stroke="#000" stroke-opacity="0.144" stroke-width="1.5"/>
<circle cx="343.8" cy="365" r="3.75" fill="#000" fill-opacity="0.189" stroke="#000" stroke-opacity="0.209" stroke-width="1.5"/>
<circle cx="350.7" cy="365" r="3.75" fill="#000" fill-opacity="0.667" stroke="#000" stroke-opacity="0.707" stroke-width="1.5"/>
<circle cx="353.1" cy="365" r="3.75" fill="#000" fill-opacity="0.667" stroke="#000" stroke-opacity="0.707" stroke-width="1.5"/>
<circle cx="361" cy="365" r="3.75" fill="#000" fill-opacity="0.189" stroke="#000" stroke-opacity="0.209" stroke-width="1.5"/>
<circle cx="374.9" cy="365" r="3.75" fill="#000" fill-opacity="0.244" stroke="#000" stroke-opacity="0.268" stroke-width="1.5"/>
<circle cx="384.6" cy="365" r="3.75" fill="#000" fill-opacity="0.189" stroke="#000" stroke-opacity="0.209" stroke-width="1.5"/>
<circle cx="393.2" cy="365" r="3.75" fill="#000" fill-opacity="0.068" stroke="#000" stroke-opacity="0.075" stroke-width="1.5"/>
<circle cx="406.1" cy="365" r="3.75" fill="#000" fill-opacity="0.068" stroke="#000" stroke-opacity="0.075" stroke-width="1.5"/>
<circle cx="413.9" cy="365" r="3.75" fill="#000" fill-opacity="0.189" stroke="#000" stroke-opacity="0.209" stroke-width="1.5"/>
<circle cx="425" cy="365" r="3.75" fill="#000" fill-opacity="0.189" stroke="#000" stroke-opacity="0.209" stroke-width="1.5"/>
<circle cx="436.9" cy="365" r="3.75" fill="#000" fill-opacity="0.068" stroke="#000" stroke-opacity="0.075" stroke-width="1.5"/>
<circle cx="442.3" cy="365" r="3.75" fill="#000" fill-opacity="0.068" stroke="#000" stroke-opacity="0.075" stroke-width="1.5"/>
<circle cx="447.6" cy="365" r="3.75" fill="#000" fill-opacity="0.130" stroke="#000" stroke-opacity="0.144" stroke-width="1.5"/>
<circle cx="457.3" cy="365" r="3.75" fill="#000" fill-opacity="0.130" stroke="#000" stroke-opacity="0.144" stroke-width="1.5"/>
<circle cx="465.5" cy="365" r="3.75" fill="#000" fill-opacity="0.130" stroke="#000" stroke-opacity="0.144" stroke-width="1.5"/>
<circle cx="472.4" cy="365" r="3.75" fill="#000" fill-opacity="0.130" stroke="#000" stroke-opacity="0.144" stroke-width="1.5"/>
<circle cx="479.9" cy="365" r="3.75" fill="#000" fill-opacity="0.244" stroke="#000" stroke-opacity="0.268" stroke-width="1.5"/>
<circle cx="489.6" cy="365" r="3.75" fill="#000" fill-opacity="0.130" stroke="#000" stroke-opacity="0.144" stroke-width="1.5"/>
<circle cx="499.2" cy="365" r="3.75" fill="#000" fill-opacity="0.068" stroke="#000" stroke-opacity="0.075" stroke-width="1.5"/>
<circle cx="508.9" cy="365" r="3.75" fill="#000" fill-opacity="0.130" stroke="#000" stroke-opacity="0.144" stroke-width="1.5"/>
<circle cx="518.6" cy="365" r="3.75" fill="#000" fill-opacity="0.068" stroke="#000" stroke-opacity="0.075" stroke-width="1.5"/>
<circle cx="528.3" cy="365" r="3.75" fill="#000" fill-opacity="0.189" stroke="#000" stroke-opacity="0.209" stroke-width="1.5"/>
<circle cx="567" cy="365" r="3.75" fill="#000" fill-opacity="0.130" stroke="#000" stroke-opacity="0.144" stroke-width="1.5"/>
<circle cx="575.6" cy="365" r="3.75" fill="#000" fill-opacity="0.068" stroke="#000" stroke-opacity="0.075" stroke-width="1.5"/>
<circle cx="630.4" cy="365" r="3.75" fill="#000" fill-opacity="0.068" stroke="#000" stroke-opacity="0.075" stroke-width="1.5"/>
<circle cx="691.7" cy="365" r="3.75" fill="#000" fill-opacity="0.068" stroke="#000" stroke-opacity="0.075" stroke-width="1.5"/>
<circle cx="107.55" cy="365" r="3.75" fill="#000" fill-opacity="0.093" stroke="#000" stroke-opacity="0.103" stroke-width="1.5"/>
<circle cx="191.05" cy="365" r="3.75" fill="#000" fill-opacity="0.136" stroke="#000" stroke-opacity="0.151" stroke-width="1.5"/>
<circle cx="198.05" cy="365" r="3.75" fill="#000" fill-opacity="0.136" stroke="#000" stroke-opacity="0.151" stroke-width="1.5"/>
<circle cx="206.1" cy="365" r="3.75" fill="#000" fill-opacity="0.136" stroke="#000" stroke-opacity="0.151" stroke-width="1.5"/>
<circle cx="214.7" cy="365" r="3.75" fill="#000" fill-opacity="0.136" stroke="#000" stroke-opacity="0.151" stroke-width="1.5"/>
<circle cx="224.4" cy="365" r="3.75" fill="#000" fill-opacity="0.136" stroke="#000" stroke-opacity="0.151" stroke-width="1.5"/>
<circle cx="235.7" cy="365" r="3.75" fill="#000" fill-opacity="0.136" stroke="#000" stroke-opacity="0.151" stroke-width="1.5"/>
<circle cx="246.45" cy="365" r="3.75" fill="#000" fill-opacity="0.136" stroke="#000" stroke-opacity="0.151" stroke-width="1.5"/>
<circle cx="259.35" cy="365" r="3.75" fill="#000" fill-opacity="0.136" stroke="#000" stroke-opacity="0.151" stroke-width="1.5"/>
<circle cx="274.4" cy="365" r="3.75" fill="#000" fill-opacity="0.136" stroke="#000" stroke-opacity="0.151" stroke-width="1.5"/>
<circle cx="285.7" cy="365" r="3.75" fill="#000" fill-opacity="0.136" stroke="#000" stroke-opacity="0.151" stroke-width="1.5"/>
<circle cx="294.3" cy="365" r="3.75" fill="#000" fill-opacity="0.136" stroke="#000" stroke-opacity="0.151" stroke-width="1.5"/>
<circle cx="302.9" cy="365" r="3.75" fill="#000" fill-opacity="0.136" stroke="#000" stroke-opacity="0.151" stroke-width="1.5"/>
<circle cx="314.2" cy="365" r="3.75" fill="#000" fill-opacity="0.136" stroke="#000" stroke-opacity="0.151" stroke-width="1.5"/>
<circle cx="327.1" cy="365" r="3.75" fill="#000" fill-opacity="0.093" stroke="#000" stroke-opacity="0.103" stroke-width="1.5"/>
<circle cx="338.4" cy="365" r="3.75" fill="#000" fill-opacity="0.093" stroke="#000" stroke-opacity="0.103" stroke-width="1.5"/>
<circle cx="347.85" cy="365" r="3.75" fill="#000" fill-opacity="0.136" stroke="#000" stroke-opacity="0.151" stroke-width="1.5"/>
<circle cx="356.45" cy="365" r="3.75" fill="#000" fill-opacity="0.136" stroke="#000" stroke-opacity="0.151" stroke-width="1.5"/>
<circle cx="367.95" cy="365" r="3.75" fill="#000" fill-opacity="0.136" stroke="#000" stroke-opacity="0.151" stroke-width="1.5"/>
<circle cx="379.75" cy="365" r="3.75" fill="#000" fill-opacity="0.136" stroke="#000" stroke-opacity="0.151" stroke-width="1.5"/>
<circle cx="419.45" cy="365" r="3.75" fill="#000" fill-opacity="0.136" stroke="#000" stroke-opacity="0.151" stroke-width="1.5"/>
<circle cx="452.45" cy="365" r="3.75" fill="#000" fill-opacity="0.093" stroke="#000" stroke-opacity="0.103" stroke-width="1.5"/>
<circle cx="461.4" cy="365" r="3.75" fill="#000" fill-opacity="0.093" stroke="#000" stroke-opacity="0.103" stroke-width="1.5"/>
<circle cx="468.95" cy="365" r="3.75" fill="#000" fill-opacity="0.093" stroke="#000" stroke-opacity="0.103" stroke-width="1.5"/>
<circle cx="476.15" cy="365" r="3.75" fill="#000" fill-opacity="0.093" stroke="#000" stroke-opacity="0.103" stroke-width="1.5"/>
<circle cx="484.75" cy="365" r="3.75" fill="#000" fill-opacity="0.093" stroke="#000" stroke-opacity="0.103" stroke-width="1.5"/>
<circle cx="104" cy="427.6" r="3.75" fill="#000" fill-opacity="0.130" stroke="#000" stroke-opacity="0.144" stroke-width="1.5"/>
<circle cx="121.2" cy="427.6" r="3.75" fill="#000" fill-opacity="0.068" stroke="#000" stroke-opacity="0.075" stroke-width="1.5"/>
<circle cx="141.6" cy="427.6" r="3.75" fill="#000" fill-opacity="0.068" stroke="#000" stroke-opacity="0.075" stroke-width="1.5"/>
<circle cx="186.8" cy="427.6" r="3.75" fill="#000" fill-opacity="0.068" stroke="#000" stroke-opacity="0.075" stroke-width="1.5"/>
<circle cx="209.4" cy="427.6" r="3.75" fill="#000" fill-opacity="0.068" stroke="#000" stroke-opacity="0.075" stroke-width="1.5"/>
<circle cx="214.7" cy="427.6" r="3.75" fill="#000" fill-opacity="0.189" stroke="#000" stroke-opacity="0.209" stroke-width="1.5"/>
<circle cx="231.9" cy="427.6" r="3.75" fill="#000" fill-opacity="0.130" stroke="#000" stroke-opacity="0.144" stroke-width="1.5"/>
<circle cx="247" cy="427.6" r="3.75" fill="#000" fill-opacity="0.068" stroke="#000" stroke-opacity="0.075" stroke-width="1.5"/>
<circle cx="255.6" cy="427.6" r="3.75" fill="#000" fill-opacity="0.130" stroke="#000" stroke-opacity="0.144" stroke-width="1.5"/>
<circle cx="267.4" cy="427.6" r="3.75" fill="#000" fill-opacity="0.189" stroke="#000" stroke-opacity="0.209" stroke-width="1.5"/>
<circle cx="281.4" cy="427.6" r="3.75" fill="#000" fill-opacity="0.068" stroke="#000" stroke-opacity="0.075" stroke-width="1.5"/>
<circle cx="287.8" cy="427.6" r="3.75" fill="#000" fill-opacity="0.130" stroke="#000" stroke-opacity="0.144" stroke-width="1.5"/>
<circle cx="292.2" cy="427.6" r="3.75" fill="#000" fill-opacity="0.130" stroke="#000" stroke-opacity="0.144" stroke-width="1.5"/>
<circle cx="307.2" cy="427.6" r="3.75" fill="#000" fill-opacity="0.068" stroke="#000" stroke-opacity="0.075" stroke-width="1.5"/>
<circle cx="313.7" cy="427.6" r="3.75" fill="#000" fill-opacity="0.068" stroke="#000" stroke-opacity="0.075" stroke-width="1.5"/>
<circle cx="321.2" cy="427.6" r="3.75" fill="#000" fill-opacity="0.244" stroke="#000" stroke-opacity="0.268" stroke-width="1.5"/>
<circle cx="329.8" cy="427.6" r="3.75" fill="#000" fill-opacity="0.189" stroke="#000" stroke-opacity="0.209" stroke-width="1.5"/>
<circle cx="337.3" cy="427.6" r="3.75" fill="#000" fill-opacity="0.189" stroke="#000" stroke-opacity="0.209" stroke-width="1.5"/>
<circle cx="350.1" cy="427.6" r="3.75" fill="#000" fill-opacity="0.387" stroke="#000" stroke-opacity="0.421" stroke-width="1.5"/>
<circle cx="352.5" cy="427.6" r="3.75" fill="#000" fill-opacity="0.387" stroke="#000" stroke-opacity="0.421" stroke-width="1.5"/>
<circle cx="363.1" cy="427.6" r="3.75" fill="#000" fill-opacity="0.068" stroke="#000" stroke-opacity="0.075" stroke-width="1.5"/>
<circle cx="374.9" cy="427.6" r="3.75" fill="#000" fill-opacity="0.068" stroke="#000" stroke-opacity="0.075" stroke-width="1.5"/>
<circle cx="387.8" cy="427.6" r="3.75" fill="#000" fill-opacity="0.068" stroke="#000" stroke-opacity="0.075" stroke-width="1.5"/>
<circle cx="395.4" cy="427.6" r="3.75" fill="#000" fill-opacity="0.130" stroke="#000" stroke-opacity="0.144" stroke-width="1.5"/>
<circle cx="401.8" cy="427.6" r="3.75" fill="#000" fill-opacity="0.130" stroke="#000" stroke-opacity="0.144" stroke-width="1.5"/>
<circle cx="413.9" cy="427.6" r="3.75" fill="#000" fill-opacity="0.130" stroke="#000" stroke-opacity="0.144" stroke-width="1.5"/>
<circle cx="449.8" cy="427.6" r="3.75" fill="#000" fill-opacity="0.068" stroke="#000" stroke-opacity="0.075" stroke-width="1.5"/>
<circle cx="454.1" cy="427.6" r="3.75" fill="#000" fill-opacity="0.189" stroke="#000" stroke-opacity="0.209" stroke-width="1.5"/>
<circle cx="462" cy="427.6" r="3.75" fill="#000" fill-opacity="0.068" stroke="#000" stroke-opacity="0.075" stroke-width="1.5"/>
<circle cx="472.4" cy="427.6" r="3.75" fill="#000" fill-opacity="0.130" stroke="#000" stroke-opacity="0.144" stroke-width="1.5"/>
<circle cx="486.3" cy="427.6" r="3.75" fill="#000" fill-opacity="0.130" stroke="#000" stroke-opacity="0.144" stroke-width="1.5"/>
<circle cx="494.9" cy="427.6" r="3.75" fill="#000" fill-opacity="0.068" stroke="#000" stroke-opacity="0.075" stroke-width="1.5"/>
<circle cx="504.6" cy="427.6" r="3.75" fill="#000" fill-opacity="0.068" stroke="#000" stroke-opacity="0.075" stroke-width="1.5"/>
<circle cx="550.9" cy="427.6" r="3.75" fill="#000" fill-opacity="0.068" stroke="#000" stroke-opacity="0.075" stroke-width="1.5"/>
<circle cx="566.6" cy="427.6" r="3.75" fill="#000" fill-opacity="0.068" stroke="#000" stroke-opacity="0.075" stroke-width="1.5"/>
<circle cx="223.3" cy="427.6" r="3.75" fill="#000" fill-opacity="0.093" stroke="#000" stroke-opacity="0.103" stroke-width="1.5"/>
<circle cx="261.5" cy="427.6" r="3.75" fill="#000" fill-opacity="0.093" stroke="#000" stroke-opacity="0.103" stroke-width="1.5"/>
<circle cx="325.5" cy="427.6" r="3.75" fill="#000" fill-opacity="0.136" stroke="#000" stroke-opacity="0.151" stroke-width="1.5"/>
<circle cx="333.55" cy="427.6" r="3.75" fill="#000" fill-opacity="0.136" stroke="#000" stroke-opacity="0.151" stroke-width="1.5"/>
<circle cx="344.3" cy="427.6" r="3.75" fill="#000" fill-opacity="0.136" stroke="#000" stroke-opacity="0.151" stroke-width="1.5"/>
<circle cx="398.6" cy="427.6" r="3.75" fill="#000" fill-opacity="0.093" stroke="#000" stroke-opacity="0.103" stroke-width="1.5"/>
<circle cx="407.85" cy="427.6" r="3.75" fill="#000" fill-opacity="0.093" stroke="#000" stroke-opacity="0.103" stroke-width="1.5"/>
<circle cx="479.35" cy="427.6" r="3.75" fill="#000" fill-opacity="0.093" stroke="#000" stroke-opacity="0.103" stroke-width="1.5"/>
<circle cx="102.5" cy="490.2" r="3.75" fill="#000" fill-opacity="0.244" stroke="#000" stroke-opacity="0.268" stroke-width="1.5"/>
<circle cx="125.5" cy="490.2" r="3.75" fill="#000" fill-opacity="0.068" stroke="#000" stroke-opacity="0.075" stroke-width="1.5"/>
<circle cx="143.3" cy="490.2" r="3.75" fill="#000" fill-opacity="0.068" stroke="#000" stroke-opacity="0.075" stroke-width="1.5"/>
<circle cx="186.3" cy="490.2" r="3.75" fill="#000" fill-opacity="0.068" stroke="#000" stroke-opacity="0.075" stroke-width="1.5"/>
<circle cx="198.6" cy="490.2" r="3.75" fill="#000" fill-opacity="0.068" stroke="#000" stroke-opacity="0.075" stroke-width="1.5"/>
<circle cx="213.7" cy="490.2" r="3.75" fill="#000" fill-opacity="0.130" stroke="#000" stroke-opacity="0.144" stroke-width="1.5"/>
<circle cx="218.6" cy="490.2" r="3.75" fill="#000" fill-opacity="0.130" stroke="#000" stroke-opacity="0.144" stroke-width="1.5"/>
<circle cx="224.4" cy="490.2" r="3.75" fill="#000" fill-opacity="0.130" stroke="#000" stroke-opacity="0.144" stroke-width="1.5"/>
<circle cx="229.4" cy="490.2" r="3.75" fill="#000" fill-opacity="0.068" stroke="#000" stroke-opacity="0.075" stroke-width="1.5"/>
<circle cx="244.8" cy="490.2" r="3.75" fill="#000" fill-opacity="0.068" stroke="#000" stroke-opacity="0.075" stroke-width="1.5"/>
<circle cx="267.4" cy="490.2" r="3.75" fill="#000" fill-opacity="0.068" stroke="#000" stroke-opacity="0.075" stroke-width="1.5"/>
<circle cx="275.4" cy="490.2" r="3.75" fill="#000" fill-opacity="0.068" stroke="#000" stroke-opacity="0.075" stroke-width="1.5"/>
<circle cx="291.1" cy="490.2" r="3.75" fill="#000" fill-opacity="0.189" stroke="#000" stroke-opacity="0.209" stroke-width="1.5"/>
<circle cx="301.8" cy="490.2" r="3.75" fill="#000" fill-opacity="0.189" stroke="#000" stroke-opacity="0.209" stroke-width="1.5"/>
<circle cx="316.9" cy="490.2" r="3.75" fill="#000" fill-opacity="0.068" stroke="#000" stroke-opacity="0.075" stroke-width="1.5"/>
<circle cx="321.8" cy="490.2" r="3.75" fill="#000" fill-opacity="0.244" stroke="#000" stroke-opacity="0.268" stroke-width="1.5"/>
<circle cx="333" cy="490.2" r="3.75" fill="#000" fill-opacity="0.068" stroke="#000" stroke-opacity="0.075" stroke-width="1.5"/>
<circle cx="351.3" cy="490.2" r="3.75" fill="#000" fill-opacity="0.467" stroke="#000" stroke-opacity="0.504" stroke-width="1.5"/>
<circle cx="358.8" cy="490.2" r="3.75" fill="#000" fill-opacity="0.130" stroke="#000" stroke-opacity="0.144" stroke-width="1.5"/>
<circle cx="364.2" cy="490.2" r="3.75" fill="#000" fill-opacity="0.130" stroke="#000" stroke-opacity="0.144" stroke-width="1.5"/>
<circle cx="369.6" cy="490.2" r="3.75" fill="#000" fill-opacity="0.068" stroke="#000" stroke-opacity="0.075" stroke-width="1.5"/>
<circle cx="387.8" cy="490.2" r="3.75" fill="#000" fill-opacity="0.130" stroke="#000" stroke-opacity="0.144" stroke-width="1.5"/>
<circle cx="392.2" cy="490.2" r="3.75" fill="#000" fill-opacity="0.068" stroke="#000" stroke-opacity="0.075" stroke-width="1.5"/>
<circle cx="415.8" cy="490.2" r="3.75" fill="#000" fill-opacity="0.068" stroke="#000" stroke-opacity="0.075" stroke-width="1.5"/>
<circle cx="426.8" cy="490.2" r="3.75" fill="#000" fill-opacity="0.068" stroke="#000" stroke-opacity="0.075" stroke-width="1.5"/>
<circle cx="434.1" cy="490.2" r="3.75" fill="#000" fill-opacity="0.068" stroke="#000" stroke-opacity="0.075" stroke-width="1.5"/>
<circle cx="449.8" cy="490.2" r="3.75" fill="#000" fill-opacity="0.068" stroke="#000" stroke-opacity="0.075" stroke-width="1.5"/>
<circle cx="454.1" cy="490.2" r="3.75" fill="#000" fill-opacity="0.068" stroke="#000" stroke-opacity="0.075" stroke-width="1.5"/>
<circle cx="497.1" cy="490.2" r="3.75" fill="#000" fill-opacity="0.068" stroke="#000" stroke-opacity="0.075" stroke-width="1.5"/>
<circle cx="502" cy="490.2" r="3.75" fill="#000" fill-opacity="0.068" stroke="#000" stroke-opacity="0.075" stroke-width="1.5"/>
<circle cx="529.4" cy="490.2" r="3.75" fill="#000" fill-opacity="0.130" stroke="#000" stroke-opacity="0.144" stroke-width="1.5"/>
<circle cx="579.9" cy="490.2" r="3.75" fill="#000" fill-opacity="0.068" stroke="#000" stroke-opacity="0.075" stroke-width="1.5"/>
<circle cx="608.9" cy="490.2" r="3.75" fill="#000" fill-opacity="0.068" stroke="#000" stroke-opacity="0.075" stroke-width="1.5"/>
<circle cx="635.4" cy="490.2" r="3.75" fill="#000" fill-opacity="0.068" stroke="#000" stroke-opacity="0.075" stroke-width="1.5"/>
<circle cx="221.5" cy="490.2" r="3.75" fill="#000" fill-opacity="0.093" stroke="#000" stroke-opacity="0.103" stroke-width="1.5"/>
<circle cx="296.45" cy="490.2" r="3.75" fill="#000" fill-opacity="0.136" stroke="#000" stroke-opacity="0.151" stroke-width="1.5"/>
<circle cx="355.05" cy="490.2" r="3.75" fill="#000" fill-opacity="0.093" stroke="#000" stroke-opacity="0.103" stroke-width="1.5"/>
<circle cx="361.5" cy="490.2" r="3.75" fill="#000" fill-opacity="0.093" stroke="#000" stroke-opacity="0.103" stroke-width="1.5"/>
<circle cx="102.5" cy="552.8" r="3.75" fill="#000" fill-opacity="0.189" stroke="#000" stroke-opacity="0.209" stroke-width="1.5"/>
<circle cx="180.3" cy="552.8" r="3.75" fill="#000" fill-opacity="0.068" stroke="#000" stroke-opacity="0.075" stroke-width="1.5"/>
<circle cx="196.5" cy="552.8" r="3.75" fill="#000" fill-opacity="0.068" stroke="#000" stroke-opacity="0.075" stroke-width="1.5"/>
<circle cx="214.3" cy="552.8" r="3.75" fill="#000" fill-opacity="0.130" stroke="#000" stroke-opacity="0.144" stroke-width="1.5"/>
<circle cx="222.9" cy="552.8" r="3.75" fill="#000" fill-opacity="0.130" stroke="#000" stroke-opacity="0.144" stroke-width="1.5"/>
<circle cx="261.6" cy="552.8" r="3.75" fill="#000" fill-opacity="0.068" stroke="#000" stroke-opacity="0.075" stroke-width="1.5"/>
<circle cx="284.6" cy="552.8" r="3.75" fill="#000" fill-opacity="0.068" stroke="#000" stroke-opacity="0.075" stroke-width="1.5"/>
<circle cx="289.6" cy="552.8" r="3.75" fill="#000" fill-opacity="0.244" stroke="#000" stroke-opacity="0.268" stroke-width="1.5"/>
<circle cx="295.4" cy="552.8" r="3.75" fill="#000" fill-opacity="0.068" stroke="#000" stroke-opacity="0.075" stroke-width="1.5"/>
<circle cx="305" cy="552.8" r="3.75" fill="#000" fill-opacity="0.068" stroke="#000" stroke-opacity="0.075" stroke-width="1.5"/>
<circle cx="321.2" cy="552.8" r="3.75" fill="#000" fill-opacity="0.068" stroke="#000" stroke-opacity="0.075" stroke-width="1.5"/>
<circle cx="332.6" cy="552.8" r="3.75" fill="#000" fill-opacity="0.130" stroke="#000" stroke-opacity="0.144" stroke-width="1.5"/>
<circle cx="338.4" cy="552.8" r="3.75" fill="#000" fill-opacity="0.068" stroke="#000" stroke-opacity="0.075" stroke-width="1.5"/>
<circle cx="351.3" cy="552.8" r="3.75" fill="#000" fill-opacity="0.244" stroke="#000" stroke-opacity="0.268" stroke-width="1.5"/>
<circle cx="358.8" cy="552.8" r="3.75" fill="#000" fill-opacity="0.068" stroke="#000" stroke-opacity="0.075" stroke-width="1.5"/>
<circle cx="369.6" cy="552.8" r="3.75" fill="#000" fill-opacity="0.068" stroke="#000" stroke-opacity="0.075" stroke-width="1.5"/>
<circle cx="414.7" cy="552.8" r="3.75" fill="#000" fill-opacity="0.068" stroke="#000" stroke-opacity="0.075" stroke-width="1.5"/>
<circle cx="434.1" cy="552.8" r="3.75" fill="#000" fill-opacity="0.068" stroke="#000" stroke-opacity="0.075" stroke-width="1.5"/>
<circle cx="482" cy="552.8" r="3.75" fill="#000" fill-opacity="0.068" stroke="#000" stroke-opacity="0.075" stroke-width="1.5"/>
<circle cx="486.3" cy="552.8" r="3.75" fill="#000" fill-opacity="0.068" stroke="#000" stroke-opacity="0.075" stroke-width="1.5"/>
<circle cx="521.8" cy="552.8" r="3.75" fill="#000" fill-opacity="0.130" stroke="#000" stroke-opacity="0.144" stroke-width="1.5"/>
<circle cx="536.9" cy="552.8" r="3.75" fill="#000" fill-opacity="0.068" stroke="#000" stroke-opacity="0.075" stroke-width="1.5"/>
<circle cx="586.3" cy="552.8" r="3.75" fill="#000" fill-opacity="0.068" stroke="#000" stroke-opacity="0.075" stroke-width="1.5"/>
<circle cx="593.2" cy="552.8" r="3.75" fill="#000" fill-opacity="0.068" stroke="#000" stroke-opacity="0.075" stroke-width="1.5"/>
<circle cx="720.8" cy="552.8" r="3.75" fill="#000" fill-opacity="0.068" stroke="#000" stroke-opacity="0.075" stroke-width="1.5"/>
<circle cx="726.6" cy="552.8" r="3.75" fill="#000" fill-opacity="0.130" stroke="#000" stroke-opacity="0.144" stroke-width="1.5"/>
<circle cx="218.6" cy="552.8" r="3.75" fill="#000" fill-opacity="0.093" stroke="#000" stroke-opacity="0.103" stroke-width="1.5"/>
<circle cx="102.5" cy="615.4" r="3.75" fill="#000" fill-opacity="0.552" stroke="#000" stroke-opacity="0.592" stroke-width="1.5"/>
<circle cx="111.5" cy="615.4" r="3.75" fill="#000" fill-opacity="0.130" stroke="#000" stroke-opacity="0.144" stroke-width="1.5"/>
<circle cx="150.6" cy="615.4" r="3.75" fill="#000" fill-opacity="0.068" stroke="#000" stroke-opacity="0.075" stroke-width="1.5"/>
<circle cx="173.4" cy="615.4" r="3.75" fill="#000" fill-opacity="0.068" stroke="#000" stroke-opacity="0.075" stroke-width="1.5"/>
<circle cx="187.8" cy="615.4" r="3.75" fill="#000" fill-opacity="0.068" stroke="#000" stroke-opacity="0.075" stroke-width="1.5"/>
<circle cx="194.3" cy="615.4" r="3.75" fill="#000" fill-opacity="0.068" stroke="#000" stroke-opacity="0.075" stroke-width="1.5"/>
<circle cx="206.1" cy="615.4" r="3.75" fill="#000" fill-opacity="0.130" stroke="#000" stroke-opacity="0.144" stroke-width="1.5"/>
<circle cx="214.3" cy="615.4" r="3.75" fill="#000" fill-opacity="0.068" stroke="#000" stroke-opacity="0.075" stroke-width="1.5"/>
<circle cx="221.2" cy="615.4" r="3.75" fill="#000" fill-opacity="0.068" stroke="#000" stroke-opacity="0.075" stroke-width="1.5"/>
<circle cx="241.6" cy="615.4" r="3.75" fill="#000" fill-opacity="0.068" stroke="#000" stroke-opacity="0.075" stroke-width="1.5"/>
<circle cx="263.1" cy="615.4" r="3.75" fill="#000" fill-opacity="0.068" stroke="#000" stroke-opacity="0.075" stroke-width="1.5"/>
<circle cx="268.1" cy="615.4" r="3.75" fill="#000" fill-opacity="0.130" stroke="#000" stroke-opacity="0.144" stroke-width="1.5"/>
<circle cx="278.8" cy="615.4" r="3.75" fill="#000" fill-opacity="0.068" stroke="#000" stroke-opacity="0.075" stroke-width="1.5"/>
<circle cx="289.6" cy="615.4" r="3.75" fill="#000" fill-opacity="0.467" stroke="#000" stroke-opacity="0.504" stroke-width="1.5"/>
<circle cx="298.6" cy="615.4" r="3.75" fill="#000" fill-opacity="0.068" stroke="#000" stroke-opacity="0.075" stroke-width="1.5"/>
<circle cx="304.6" cy="615.4" r="3.75" fill="#000" fill-opacity="0.068" stroke="#000" stroke-opacity="0.075" stroke-width="1.5"/>
<circle cx="315.8" cy="615.4" r="3.75" fill="#000" fill-opacity="0.068" stroke="#000" stroke-opacity="0.075" stroke-width="1.5"/>
<circle cx="321.2" cy="615.4" r="3.75" fill="#000" fill-opacity="0.130" stroke="#000" stroke-opacity="0.144" stroke-width="1.5"/>
<circle cx="335.2" cy="615.4" r="3.75" fill="#000" fill-opacity="0.130" stroke="#000" stroke-opacity="0.144" stroke-width="1.5"/>
<circle cx="344.8" cy="615.4" r="3.75" fill="#000" fill-opacity="0.068" stroke="#000" stroke-opacity="0.075" stroke-width="1.5"/>
<circle cx="350.7" cy="615.4" r="3.75" fill="#000" fill-opacity="0.387" stroke="#000" stroke-opacity="0.421" stroke-width="1.5"/>
<circle cx="353.1" cy="615.4" r="3.75" fill="#000" fill-opacity="0.387" stroke="#000" stroke-opacity="0.421" stroke-width="1.5"/>
<circle cx="361" cy="615.4" r="3.75" fill="#000" fill-opacity="0.130" stroke="#000" stroke-opacity="0.144" stroke-width="1.5"/>
<circle cx="365.7" cy="615.4" r="3.75" fill="#000" fill-opacity="0.130" stroke="#000" stroke-opacity="0.144" stroke-width="1.5"/>
<circle cx="376" cy="615.4" r="3.75" fill="#000" fill-opacity="0.068" stroke="#000" stroke-opacity="0.075" stroke-width="1.5"/>
<circle cx="380.8" cy="615.4" r="3.75" fill="#000" fill-opacity="0.130" stroke="#000" stroke-opacity="0.144" stroke-width="1.5"/>
<circle cx="395.4" cy="615.4" r="3.75" fill="#000" fill-opacity="0.068" stroke="#000" stroke-opacity="0.075" stroke-width="1.5"/>
<circle cx="399.7" cy="615.4" r="3.75" fill="#000" fill-opacity="0.068" stroke="#000" stroke-opacity="0.075" stroke-width="1.5"/>
<circle cx="407.8" cy="615.4" r="3.75" fill="#000" fill-opacity="0.130" stroke="#000" stroke-opacity="0.144" stroke-width="1.5"/>
<circle cx="413.8" cy="615.4" r="3.75" fill="#000" fill-opacity="0.130" stroke="#000" stroke-opacity="0.144" stroke-width="1.5"/>
<circle cx="420.8" cy="615.4" r="3.75" fill="#000" fill-opacity="0.189" stroke="#000" stroke-opacity="0.209" stroke-width="1.5"/>
<circle cx="427.6" cy="615.4" r="3.75" fill="#000" fill-opacity="0.189" stroke="#000" stroke-opacity="0.209" stroke-width="1.5"/>
<circle cx="432.6" cy="615.4" r="3.75" fill="#000" fill-opacity="0.068" stroke="#000" stroke-opacity="0.075" stroke-width="1.5"/>
<circle cx="443.3" cy="615.4" r="3.75" fill="#000" fill-opacity="0.130" stroke="#000" stroke-opacity="0.144" stroke-width="1.5"/>
<circle cx="451.9" cy="615.4" r="3.75" fill="#000" fill-opacity="0.068" stroke="#000" stroke-opacity="0.075" stroke-width="1.5"/>
<circle cx="460.5" cy="615.4" r="3.75" fill="#000" fill-opacity="0.068" stroke="#000" stroke-opacity="0.075" stroke-width="1.5"/>
<circle cx="464.8" cy="615.4" r="3.75" fill="#000" fill-opacity="0.068" stroke="#000" stroke-opacity="0.075" stroke-width="1.5"/>
<circle cx="478.8" cy="615.4" r="3.75" fill="#000" fill-opacity="0.189" stroke="#000" stroke-opacity="0.209" stroke-width="1.5"/>
<circle cx="486.3" cy="615.4" r="3.75" fill="#000" fill-opacity="0.189" stroke="#000" stroke-opacity="0.209" stroke-width="1.5"/>
<circle cx="500.3" cy="615.4" r="3.75" fill="#000" fill-opacity="0.068" stroke="#000" stroke-opacity="0.075" stroke-width="1.5"/>
<circle cx="504.2" cy="615.4" r="3.75" fill="#000" fill-opacity="0.068" stroke="#000" stroke-opacity="0.075" stroke-width="1.5"/>
<circle cx="520.8" cy="615.4" r="3.75" fill="#000" fill-opacity="0.068" stroke="#000" stroke-opacity="0.075" stroke-width="1.5"/>
<circle cx="525" cy="615.4" r="3.75" fill="#000" fill-opacity="0.189" stroke="#000" stroke-opacity="0.209" stroke-width="1.5"/>
<circle cx="538" cy="615.4" r="3.75" fill="#000" fill-opacity="0.068" stroke="#000" stroke-opacity="0.075" stroke-width="1.5"/>
<circle cx="604.6" cy="615.4" r="3.75" fill="#000" fill-opacity="0.068" stroke="#000" stroke-opacity="0.075" stroke-width="1.5"/>
<circle cx="613.2" cy="615.4" r="3.75" fill="#000" fill-opacity="0.130" stroke="#000" stroke-opacity="0.144" stroke-width="1.5"/>
<circle cx="618.6" cy="615.4" r="3.75" fill="#000" fill-opacity="0.068" stroke="#000" stroke-opacity="0.075" stroke-width="1.5"/>
<circle cx="645.5" cy="615.4" r="3.75" fill="#000" fill-opacity="0.068" stroke="#000" stroke-opacity="0.075" stroke-width="1.5"/>
<circle cx="655.2" cy="615.4" r="3.75" fill="#000" fill-opacity="0.068" stroke="#000" stroke-opacity="0.075" stroke-width="1.5"/>
<circle cx="710" cy="615.4" r="3.75" fill="#000" fill-opacity="0.068" stroke="#000" stroke-opacity="0.075" stroke-width="1.5"/>
<circle cx="726.1" cy="615.4" r="3.75" fill="#000" fill-opacity="0.813" stroke="#000" stroke-opacity="0.846" stroke-width="1.5"/>
<circle cx="107" cy="615.4" r="3.75" fill="#000" fill-opacity="0.093" stroke="#000" stroke-opacity="0.103" stroke-width="1.5"/>
<circle cx="328.2" cy="615.4" r="3.75" fill="#000" fill-opacity="0.093" stroke="#000" stroke-opacity="0.103" stroke-width="1.5"/>
<circle cx="356.45" cy="615.4" r="3.75" fill="#000" fill-opacity="0.093" stroke="#000" stroke-opacity="0.103" stroke-width="1.5"/>
<circle cx="410.8" cy="615.4" r="3.75" fill="#000" fill-opacity="0.093" stroke="#000" stroke-opacity="0.103" stroke-width="1.5"/>
<circle cx="417.3" cy="615.4" r="3.75" fill="#000" fill-opacity="0.093" stroke="#000" stroke-opacity="0.103" stroke-width="1.5"/>
<circle cx="424.2" cy="615.4" r="3.75" fill="#000" fill-opacity="0.136" stroke="#000" stroke-opacity="0.151" stroke-width="1.5"/>
<circle cx="482.55" cy="615.4" r="3.75" fill="#000" fill-opacity="0.136" stroke="#000" stroke-opacity="0.151" stroke-width="1.5"/>
</g>
<path d="M102.4,223.1 L112.8,225.89 L123.21,228.66 L133.61,231.43 L144.01,234.2 L154.42,236.95 L164.82,239.69 L175.22,242.42 L185.63,245.14 L196.03,247.84 L206.43,250.52 L216.84,253.18 L227.24,255.83 L237.64,258.45 L248.05,261.04 L258.45,263.6 L268.85,266.13 L279.26,268.62 L289.66,271.08 L300.06,273.49 L310.47,275.85 L320.87,278.17 L331.27,280.44 L341.68,282.65 L352.08,284.82 L362.48,286.95 L372.89,289.02 L383.29,291.06 L393.69,293.05 L404.1,295.01 L414.5,296.93 L424.9,298.82 L435.31,300.69 L445.71,302.53 L456.11,304.34 L466.52,306.14 L476.92,307.92 L487.32,309.69 L497.73,311.44 L508.13,313.18 L518.53,314.91 L528.94,316.63 L539.34,318.34 L549.74,320.05 L560.15,321.74 L570.55,323.43 L580.95,325.12 L591.36,326.79 L601.76,328.47 L612.16,330.14 L622.57,331.8 L632.97,333.47 L643.37,335.12 L653.78,336.78 L664.18,338.43 L674.58,340.08 L684.99,341.73 L695.39,343.38 L705.79,345.02 L716.2,346.66 L726.6,348.3 L726.6,399.1 L716.2,396.26 L705.79,393.42 L695.39,390.58 L684.99,387.75 L674.58,384.92 L664.18,382.09 L653.78,379.26 L643.37,376.44 L632.97,373.61 L622.57,370.8 L612.16,367.98 L601.76,365.17 L591.36,362.37 L580.95,359.56 L570.55,356.77 L560.15,353.98 L549.74,351.19 L539.34,348.42 L528.94,345.65 L518.53,342.89 L508.13,340.14 L497.73,337.4 L487.32,334.67 L476.92,331.96 L466.52,329.26 L456.11,326.58 L445.71,323.91 L435.31,321.27 L424.9,318.66 L414.5,316.07 L404.1,313.51 L393.69,310.99 L383.29,308.5 L372.89,306.06 L362.48,303.65 L352.08,301.3 L341.68,298.99 L331.27,296.72 L320.87,294.51 L310.47,292.35 L300.06,290.23 L289.66,288.16 L279.26,286.14 L268.85,284.15 L258.45,282.2 L248.05,280.28 L237.64,278.39 L227.24,276.53 L216.84,274.7 L206.43,272.88 L196.03,271.08 L185.63,269.3 L175.22,267.54 L164.82,265.79 L154.42,264.05 L144.01,262.32 L133.61,260.61 L123.21,258.9 L112.8,257.19 L102.4,255.5Z" fill="#999999" fill-opacity="0.4"/>
<line x1="102.4" y1="239.3" x2="726.6" y2="373.7" stroke="#3366FF" stroke-width="4.1"/>
<text transform="translate(595.8,130.7) scale(1,0.97)" font-size="22.4" text-anchor="middle" fill="#000" stroke="#000" stroke-width="0.25">ρ = -0.14 , p &lt; .001</text>
</g>
<rect x="71.7" y="24.2" width="685.6" height="619.3" fill="none" stroke="#222222" stroke-width="1.45"/>
<line x1="65.7" x2="71.7" y1="615.4" y2="615.4" stroke="#1a1a1a" stroke-width="1.9"/>
<text transform="translate(61.1,622)" font-size="16.8" text-anchor="end" fill="#2e2e2e">1</text>
<line x1="65.7" x2="71.7" y1="552.8" y2="552.8" stroke="#1a1a1a" stroke-width="1.9"/>
<text transform="translate(61.1,559.4)" font-size="16.8" text-anchor="end" fill="#2e2e2e">2</text>
<line x1="65.7" x2="71.7" y1="490.2" y2="490.2" stroke="#1a1a1a" stroke-width="1.9"/>
<text transform="translate(61.1,496.8)" font-size="16.8" text-anchor="end" fill="#2e2e2e">3</text>
<line x1="65.7" x2="71.7" y1="427.6" y2="427.6" stroke="#1a1a1a" stroke-width="1.9"/>
<text transform="translate(61.1,434.2)" font-size="16.8" text-anchor="end" fill="#2e2e2e">4</text>
<line x1="65.7" x2="71.7" y1="365" y2="365" stroke="#1a1a1a" stroke-width="1.9"/>
<text transform="translate(61.1,371.6)" font-size="16.8" text-anchor="end" fill="#2e2e2e">5</text>
<line x1="65.7" x2="71.7" y1="302.4" y2="302.4" stroke="#1a1a1a" stroke-width="1.9"/>
<text transform="translate(61.1,309)" font-size="16.8" text-anchor="end" fill="#2e2e2e">6</text>
<line x1="65.7" x2="71.7" y1="239.8" y2="239.8" stroke="#1a1a1a" stroke-width="1.9"/>
<text transform="translate(61.1,246.4)" font-size="16.8" text-anchor="end" fill="#2e2e2e">7</text>
<line x1="65.7" x2="71.7" y1="177.2" y2="177.2" stroke="#1a1a1a" stroke-width="1.9"/>
<text transform="translate(61.1,183.8)" font-size="16.8" text-anchor="end" fill="#2e2e2e">8</text>
<line x1="65.7" x2="71.7" y1="114.6" y2="114.6" stroke="#1a1a1a" stroke-width="1.9"/>
<text transform="translate(61.1,121.2)" font-size="16.8" text-anchor="end" fill="#2e2e2e">9</text>
<line x1="65.7" x2="71.7" y1="52" y2="52" stroke="#1a1a1a" stroke-width="1.9"/>
<text transform="translate(61.1,58.6)" font-size="16.8" text-anchor="end" fill="#2e2e2e">10</text>
<line x1="108.5" x2="108.5" y1="643.5" y2="649.5" stroke="#1a1a1a" stroke-width="1.9"/>
<text transform="translate(108.5,666.1)" font-size="16.8" text-anchor="middle" fill="#2e2e2e">600</text>
<line x1="267.82" x2="267.82" y1="643.5" y2="649.5" stroke="#1a1a1a" stroke-width="1.9"/>
<text transform="translate(267.82,666.1)" font-size="16.8" text-anchor="middle" fill="#2e2e2e">900</text>
<line x1="427.14" x2="427.14" y1="643.5" y2="649.5" stroke="#1a1a1a" stroke-width="1.9"/>
<text transform="translate(427.14,666.1)" font-size="16.8" text-anchor="middle" fill="#2e2e2e">1200</text>
<line x1="586.45" x2="586.45" y1="643.5" y2="649.5" stroke="#1a1a1a" stroke-width="1.9"/>
<text transform="translate(586.45,666.1)" font-size="16.8" text-anchor="middle" fill="#2e2e2e">1500</text>
<line x1="745.77" x2="745.77" y1="643.5" y2="649.5" stroke="#1a1a1a" stroke-width="1.9"/>
<text transform="translate(745.77,666.1)" font-size="16.8" text-anchor="middle" fill="#2e2e2e">1800</text>
<text transform="translate(414.5,691.1) scale(1,1.03)" font-size="21.85" text-anchor="middle" fill="#000" stroke="#000" stroke-width="0.25">Carbon Budget Set (kg)</text>
<text transform="translate(31.8,333.85) rotate(-90) scale(1,1.03)" font-size="21.85" text-anchor="middle" fill="#000" stroke="#000" stroke-width="0.25">Motivation to Reduce Carbon Footprint (1-10)</text>
<text transform="translate(2,21.2)" font-size="25.5" fill="#000" stroke="#000" stroke-width="0.25">a</text>
<clipPath id="clipb"><rect x="840.1" y="24.2" width="685.8" height="619.3"/></clipPath>
<g clip-path="url(#clipb)">
<line x1="840.1" x2="1525.9" y1="545" y2="545" stroke="#E8E8E8" stroke-width="1.3"/>
<line x1="840.1" x2="1525.9" y1="404.18" y2="404.18" stroke="#E8E8E8" stroke-width="1.3"/>
<line x1="840.1" x2="1525.9" y1="263.35" y2="263.35" stroke="#E8E8E8" stroke-width="1.3"/>
<line x1="840.1" x2="1525.9" y1="122.52" y2="122.52" stroke="#E8E8E8" stroke-width="1.3"/>
<line x1="956.46" x2="956.46" y1="24.2" y2="643.5" stroke="#E8E8E8" stroke-width="1.3"/>
<line x1="1115.78" x2="1115.78" y1="24.2" y2="643.5" stroke="#E8E8E8" stroke-width="1.3"/>
<line x1="1275.09" x2="1275.09" y1="24.2" y2="643.5" stroke="#E8E8E8" stroke-width="1.3"/>
<line x1="1434.41" x2="1434.41" y1="24.2" y2="643.5" stroke="#E8E8E8" stroke-width="1.3"/>
<line x1="840.1" x2="1525.9" y1="615.42" y2="615.42" stroke="#E8E8E8" stroke-width="1.8"/>
<line x1="840.1" x2="1525.9" y1="474.59" y2="474.59" stroke="#E8E8E8" stroke-width="1.8"/>
<line x1="840.1" x2="1525.9" y1="333.76" y2="333.76" stroke="#E8E8E8" stroke-width="1.8"/>
<line x1="840.1" x2="1525.9" y1="192.93" y2="192.93" stroke="#E8E8E8" stroke-width="1.8"/>
<line x1="840.1" x2="1525.9" y1="52.1" y2="52.1" stroke="#E8E8E8" stroke-width="1.8"/>
<line x1="876.8" x2="876.8" y1="24.2" y2="643.5" stroke="#E8E8E8" stroke-width="1.8"/>
<line x1="1036.12" x2="1036.12" y1="24.2" y2="643.5" stroke="#E8E8E8" stroke-width="1.8"/>
<line x1="1195.44" x2="1195.44" y1="24.2" y2="643.5" stroke="#E8E8E8" stroke-width="1.8"/>
<line x1="1354.75" x2="1354.75" y1="24.2" y2="643.5" stroke="#E8E8E8" stroke-width="1.8"/>
<line x1="1514.07" x2="1514.07" y1="24.2" y2="643.5" stroke="#E8E8E8" stroke-width="1.8"/>
<g>
<circle cx="870.5" cy="52.1" r="3.75" fill="#000" fill-opacity="0.467" stroke="#000" stroke-opacity="0.504" stroke-width="1.5"/>
<circle cx="876.9" cy="52.1" r="3.75" fill="#000" fill-opacity="0.068" stroke="#000" stroke-opacity="0.075" stroke-width="1.5"/>
<circle cx="958" cy="52.1" r="3.75" fill="#000" fill-opacity="0.068" stroke="#000" stroke-opacity="0.075" stroke-width="1.5"/>
<circle cx="963.8" cy="52.1" r="3.75" fill="#000" fill-opacity="0.130" stroke="#000" stroke-opacity="0.144" stroke-width="1.5"/>
<circle cx="981.7" cy="52.1" r="3.75" fill="#000" fill-opacity="0.068" stroke="#000" stroke-opacity="0.075" stroke-width="1.5"/>
<circle cx="995.2" cy="52.1" r="3.75" fill="#000" fill-opacity="0.189" stroke="#000" stroke-opacity="0.209" stroke-width="1.5"/>
<circle cx="1021" cy="52.1" r="3.75" fill="#000" fill-opacity="0.068" stroke="#000" stroke-opacity="0.075" stroke-width="1.5"/>
<circle cx="1038.6" cy="52.1" r="3.75" fill="#000" fill-opacity="0.068" stroke="#000" stroke-opacity="0.075" stroke-width="1.5"/>
<circle cx="1046.8" cy="52.1" r="3.75" fill="#000" fill-opacity="0.130" stroke="#000" stroke-opacity="0.144" stroke-width="1.5"/>
<circle cx="1059.7" cy="52.1" r="3.75" fill="#000" fill-opacity="0.068" stroke="#000" stroke-opacity="0.075" stroke-width="1.5"/>
<circle cx="1075.2" cy="52.1" r="3.75" fill="#000" fill-opacity="0.068" stroke="#000" stroke-opacity="0.075" stroke-width="1.5"/>
<circle cx="1089.2" cy="52.1" r="3.75" fill="#000" fill-opacity="0.068" stroke="#000" stroke-opacity="0.075" stroke-width="1.5"/>
<circle cx="1102.7" cy="52.1" r="3.75" fill="#000" fill-opacity="0.068" stroke="#000" stroke-opacity="0.075" stroke-width="1.5"/>
<circle cx="1119.3" cy="52.1" r="3.75" fill="#000" fill-opacity="0.244" stroke="#000" stroke-opacity="0.268" stroke-width="1.5"/>
<circle cx="1125.1" cy="52.1" r="3.75" fill="#000" fill-opacity="0.130" stroke="#000" stroke-opacity="0.144" stroke-width="1.5"/>
<circle cx="1175.2" cy="52.1" r="3.75" fill="#000" fill-opacity="0.068" stroke="#000" stroke-opacity="0.075" stroke-width="1.5"/>
<circle cx="1180.6" cy="52.1" r="3.75" fill="#000" fill-opacity="0.130" stroke="#000" stroke-opacity="0.144" stroke-width="1.5"/>
<circle cx="1184.9" cy="52.1" r="3.75" fill="#000" fill-opacity="0.189" stroke="#000" stroke-opacity="0.209" stroke-width="1.5"/>
<circle cx="1188.8" cy="52.1" r="3.75" fill="#000" fill-opacity="0.068" stroke="#000" stroke-opacity="0.075" stroke-width="1.5"/>
<circle cx="1199.5" cy="52.1" r="3.75" fill="#000" fill-opacity="0.189" stroke="#000" stroke-opacity="0.209" stroke-width="1.5"/>
<circle cx="1205.5" cy="52.1" r="3.75" fill="#000" fill-opacity="0.068" stroke="#000" stroke-opacity="0.075" stroke-width="1.5"/>
<circle cx="1239.9" cy="52.1" r="3.75" fill="#000" fill-opacity="0.130" stroke="#000" stroke-opacity="0.144" stroke-width="1.5"/>
<circle cx="1252.2" cy="52.1" r="3.75" fill="#000" fill-opacity="0.068" stroke="#000" stroke-opacity="0.075" stroke-width="1.5"/>
<circle cx="1258.6" cy="52.1" r="3.75" fill="#000" fill-opacity="0.068" stroke="#000" stroke-opacity="0.075" stroke-width="1.5"/>
<circle cx="1316.7" cy="52.1" r="3.75" fill="#000" fill-opacity="0.068" stroke="#000" stroke-opacity="0.075" stroke-width="1.5"/>
<circle cx="1329.6" cy="52.1" r="3.75" fill="#000" fill-opacity="0.068" stroke="#000" stroke-opacity="0.075" stroke-width="1.5"/>
<circle cx="1336.7" cy="52.1" r="3.75" fill="#000" fill-opacity="0.068" stroke="#000" stroke-opacity="0.075" stroke-width="1.5"/>
<circle cx="1343.6" cy="52.1" r="3.75" fill="#000" fill-opacity="0.068" stroke="#000" stroke-opacity="0.075" stroke-width="1.5"/>
<circle cx="1349" cy="52.1" r="3.75" fill="#000" fill-opacity="0.068" stroke="#000" stroke-opacity="0.075" stroke-width="1.5"/>
<circle cx="1373.7" cy="52.1" r="3.75" fill="#000" fill-opacity="0.068" stroke="#000" stroke-opacity="0.075" stroke-width="1.5"/>
<circle cx="1397.4" cy="52.1" r="3.75" fill="#000" fill-opacity="0.068" stroke="#000" stroke-opacity="0.075" stroke-width="1.5"/>
<circle cx="1403.8" cy="52.1" r="3.75" fill="#000" fill-opacity="0.130" stroke="#000" stroke-opacity="0.144" stroke-width="1.5"/>
<circle cx="1416.3" cy="52.1" r="3.75" fill="#000" fill-opacity="0.068" stroke="#000" stroke-opacity="0.075" stroke-width="1.5"/>
<circle cx="1463" cy="52.1" r="3.75" fill="#000" fill-opacity="0.068" stroke="#000" stroke-opacity="0.075" stroke-width="1.5"/>
<circle cx="1495.2" cy="52.1" r="3.75" fill="#000" fill-opacity="0.552" stroke="#000" stroke-opacity="0.592" stroke-width="1.5"/>
<circle cx="1122.2" cy="52.1" r="3.75" fill="#000" fill-opacity="0.093" stroke="#000" stroke-opacity="0.103" stroke-width="1.5"/>
<circle cx="870.5" cy="192.93" r="3.75" fill="#000" fill-opacity="0.189" stroke="#000" stroke-opacity="0.209" stroke-width="1.5"/>
<circle cx="888.1" cy="192.93" r="3.75" fill="#000" fill-opacity="0.068" stroke="#000" stroke-opacity="0.075" stroke-width="1.5"/>
<circle cx="893.5" cy="192.93" r="3.75" fill="#000" fill-opacity="0.130" stroke="#000" stroke-opacity="0.144" stroke-width="1.5"/>
<circle cx="901" cy="192.93" r="3.75" fill="#000" fill-opacity="0.068" stroke="#000" stroke-opacity="0.075" stroke-width="1.5"/>
<circle cx="919.3" cy="192.93" r="3.75" fill="#000" fill-opacity="0.068" stroke="#000" stroke-opacity="0.075" stroke-width="1.5"/>
<circle cx="930.7" cy="192.93" r="3.75" fill="#000" fill-opacity="0.189" stroke="#000" stroke-opacity="0.209" stroke-width="1.5"/>
<circle cx="974.1" cy="192.93" r="3.75" fill="#000" fill-opacity="0.130" stroke="#000" stroke-opacity="0.144" stroke-width="1.5"/>
<circle cx="979.5" cy="192.93" r="3.75" fill="#000" fill-opacity="0.189" stroke="#000" stroke-opacity="0.209" stroke-width="1.5"/>
<circle cx="984.9" cy="192.93" r="3.75" fill="#000" fill-opacity="0.189" stroke="#000" stroke-opacity="0.209" stroke-width="1.5"/>
<circle cx="989.2" cy="192.93" r="3.75" fill="#000" fill-opacity="0.189" stroke="#000" stroke-opacity="0.209" stroke-width="1.5"/>
<circle cx="996.7" cy="192.93" r="3.75" fill="#000" fill-opacity="0.068" stroke="#000" stroke-opacity="0.075" stroke-width="1.5"/>
<circle cx="1008.5" cy="192.93" r="3.75" fill="#000" fill-opacity="0.130" stroke="#000" stroke-opacity="0.144" stroke-width="1.5"/>
<circle cx="1023.6" cy="192.93" r="3.75" fill="#000" fill-opacity="0.068" stroke="#000" stroke-opacity="0.075" stroke-width="1.5"/>
<circle cx="1027.9" cy="192.93" r="3.75" fill="#000" fill-opacity="0.130" stroke="#000" stroke-opacity="0.144" stroke-width="1.5"/>
<circle cx="1039.7" cy="192.93" r="3.75" fill="#000" fill-opacity="0.068" stroke="#000" stroke-opacity="0.075" stroke-width="1.5"/>
<circle cx="1046.2" cy="192.93" r="3.75" fill="#000" fill-opacity="0.068" stroke="#000" stroke-opacity="0.075" stroke-width="1.5"/>
<circle cx="1058" cy="192.93" r="3.75" fill="#000" fill-opacity="0.244" stroke="#000" stroke-opacity="0.268" stroke-width="1.5"/>
<circle cx="1064.5" cy="192.93" r="3.75" fill="#000" fill-opacity="0.189" stroke="#000" stroke-opacity="0.209" stroke-width="1.5"/>
<circle cx="1073" cy="192.93" r="3.75" fill="#000" fill-opacity="0.189" stroke="#000" stroke-opacity="0.209" stroke-width="1.5"/>
<circle cx="1080.6" cy="192.93" r="3.75" fill="#000" fill-opacity="0.068" stroke="#000" stroke-opacity="0.075" stroke-width="1.5"/>
<circle cx="1089.2" cy="192.93" r="3.75" fill="#000" fill-opacity="0.467" stroke="#000" stroke-opacity="0.504" stroke-width="1.5"/>
<circle cx="1094.6" cy="192.93" r="3.75" fill="#000" fill-opacity="0.189" stroke="#000" stroke-opacity="0.209" stroke-width="1.5"/>
<circle cx="1105.3" cy="192.93" r="3.75" fill="#000" fill-opacity="0.068" stroke="#000" stroke-opacity="0.075" stroke-width="1.5"/>
<circle cx="1112.8" cy="192.93" r="3.75" fill="#000" fill-opacity="0.130" stroke="#000" stroke-opacity="0.144" stroke-width="1.5"/>
<circle cx="1119.3" cy="192.93" r="3.75" fill="#000" fill-opacity="0.552" stroke="#000" stroke-opacity="0.592" stroke-width="1.5"/>
<circle cx="1126.8" cy="192.93" r="3.75" fill="#000" fill-opacity="0.130" stroke="#000" stroke-opacity="0.144" stroke-width="1.5"/>
<circle cx="1133.3" cy="192.93" r="3.75" fill="#000" fill-opacity="0.068" stroke="#000" stroke-opacity="0.075" stroke-width="1.5"/>
<circle cx="1141.9" cy="192.93" r="3.75" fill="#000" fill-opacity="0.244" stroke="#000" stroke-opacity="0.268" stroke-width="1.5"/>
<circle cx="1163.4" cy="192.93" r="3.75" fill="#000" fill-opacity="0.068" stroke="#000" stroke-opacity="0.075" stroke-width="1.5"/>
<circle cx="1174.1" cy="192.93" r="3.75" fill="#000" fill-opacity="0.068" stroke="#000" stroke-opacity="0.075" stroke-width="1.5"/>
<circle cx="1182" cy="192.93" r="3.75" fill="#000" fill-opacity="0.189" stroke="#000" stroke-opacity="0.209" stroke-width="1.5"/>
<circle cx="1196.9" cy="192.93" r="3.75" fill="#000" fill-opacity="0.130" stroke="#000" stroke-opacity="0.144" stroke-width="1.5"/>
<circle cx="1211.3" cy="192.93" r="3.75" fill="#000" fill-opacity="0.068" stroke="#000" stroke-opacity="0.075" stroke-width="1.5"/>
<circle cx="1217.8" cy="192.93" r="3.75" fill="#000" fill-opacity="0.189" stroke="#000" stroke-opacity="0.209" stroke-width="1.5"/>
<circle cx="1224.2" cy="192.93" r="3.75" fill="#000" fill-opacity="0.189" stroke="#000" stroke-opacity="0.209" stroke-width="1.5"/>
<circle cx="1228.5" cy="192.93" r="3.75" fill="#000" fill-opacity="0.189" stroke="#000" stroke-opacity="0.209" stroke-width="1.5"/>
<circle cx="1233.9" cy="192.93" r="3.75" fill="#000" fill-opacity="0.189" stroke="#000" stroke-opacity="0.209" stroke-width="1.5"/>
<circle cx="1242.5" cy="192.93" r="3.75" fill="#000" fill-opacity="0.068" stroke="#000" stroke-opacity="0.075" stroke-width="1.5"/>
<circle cx="1251.1" cy="192.93" r="3.75" fill="#000" fill-opacity="0.189" stroke="#000" stroke-opacity="0.209" stroke-width="1.5"/>
<circle cx="1259.7" cy="192.93" r="3.75" fill="#000" fill-opacity="0.130" stroke="#000" stroke-opacity="0.144" stroke-width="1.5"/>
<circle cx="1268.3" cy="192.93" r="3.75" fill="#000" fill-opacity="0.068" stroke="#000" stroke-opacity="0.075" stroke-width="1.5"/>
<circle cx="1296.3" cy="192.93" r="3.75" fill="#000" fill-opacity="0.130" stroke="#000" stroke-opacity="0.144" stroke-width="1.5"/>
<circle cx="1312.4" cy="192.93" r="3.75" fill="#000" fill-opacity="0.130" stroke="#000" stroke-opacity="0.144" stroke-width="1.5"/>
<circle cx="1321.7" cy="192.93" r="3.75" fill="#000" fill-opacity="0.189" stroke="#000" stroke-opacity="0.209" stroke-width="1.5"/>
<circle cx="1330.7" cy="192.93" r="3.75" fill="#000" fill-opacity="0.068" stroke="#000" stroke-opacity="0.075" stroke-width="1.5"/>
<circle cx="1338.2" cy="192.93" r="3.75" fill="#000" fill-opacity="0.189" stroke="#000" stroke-opacity="0.209" stroke-width="1.5"/>
<circle cx="1354.3" cy="192.93" r="3.75" fill="#000" fill-opacity="0.189" stroke="#000" stroke-opacity="0.209" stroke-width="1.5"/>
<circle cx="1371.5" cy="192.93" r="3.75" fill="#000" fill-opacity="0.068" stroke="#000" stroke-opacity="0.075" stroke-width="1.5"/>
<circle cx="1381.2" cy="192.93" r="3.75" fill="#000" fill-opacity="0.130" stroke="#000" stroke-opacity="0.144" stroke-width="1.5"/>
<circle cx="1386.6" cy="192.93" r="3.75" fill="#000" fill-opacity="0.130" stroke="#000" stroke-opacity="0.144" stroke-width="1.5"/>
<circle cx="1393.1" cy="192.93" r="3.75" fill="#000" fill-opacity="0.068" stroke="#000" stroke-opacity="0.075" stroke-width="1.5"/>
<circle cx="1461.9" cy="192.93" r="3.75" fill="#000" fill-opacity="0.068" stroke="#000" stroke-opacity="0.075" stroke-width="1.5"/>
<circle cx="1494.6" cy="192.93" r="3.75" fill="#000" fill-opacity="0.130" stroke="#000" stroke-opacity="0.144" stroke-width="1.5"/>
<circle cx="976.8" cy="192.93" r="3.75" fill="#000" fill-opacity="0.093" stroke="#000" stroke-opacity="0.103" stroke-width="1.5"/>
<circle cx="982.2" cy="192.93" r="3.75" fill="#000" fill-opacity="0.136" stroke="#000" stroke-opacity="0.151" stroke-width="1.5"/>
<circle cx="1061.25" cy="192.93" r="3.75" fill="#000" fill-opacity="0.136" stroke="#000" stroke-opacity="0.151" stroke-width="1.5"/>
<circle cx="1068.75" cy="192.93" r="3.75" fill="#000" fill-opacity="0.136" stroke="#000" stroke-opacity="0.151" stroke-width="1.5"/>
<circle cx="1091.9" cy="192.93" r="3.75" fill="#000" fill-opacity="0.136" stroke="#000" stroke-opacity="0.151" stroke-width="1.5"/>
<circle cx="1116.05" cy="192.93" r="3.75" fill="#000" fill-opacity="0.093" stroke="#000" stroke-opacity="0.103" stroke-width="1.5"/>
<circle cx="1123.05" cy="192.93" r="3.75" fill="#000" fill-opacity="0.093" stroke="#000" stroke-opacity="0.103" stroke-width="1.5"/>
<circle cx="1189.45" cy="192.93" r="3.75" fill="#000" fill-opacity="0.093" stroke="#000" stroke-opacity="0.103" stroke-width="1.5"/>
<circle cx="1221" cy="192.93" r="3.75" fill="#000" fill-opacity="0.136" stroke="#000" stroke-opacity="0.151" stroke-width="1.5"/>
<circle cx="1231.2" cy="192.93" r="3.75" fill="#000" fill-opacity="0.136" stroke="#000" stroke-opacity="0.151" stroke-width="1.5"/>
<circle cx="1255.4" cy="192.93" r="3.75" fill="#000" fill-opacity="0.093" stroke="#000" stroke-opacity="0.103" stroke-width="1.5"/>
<circle cx="1304.35" cy="192.93" r="3.75" fill="#000" fill-opacity="0.093" stroke="#000" stroke-opacity="0.103" stroke-width="1.5"/>
<circle cx="1317.05" cy="192.93" r="3.75" fill="#000" fill-opacity="0.093" stroke="#000" stroke-opacity="0.103" stroke-width="1.5"/>
<circle cx="1346.25" cy="192.93" r="3.75" fill="#000" fill-opacity="0.136" stroke="#000" stroke-opacity="0.151" stroke-width="1.5"/>
<circle cx="1383.9" cy="192.93" r="3.75" fill="#000" fill-opacity="0.093" stroke="#000" stroke-opacity="0.103" stroke-width="1.5"/>
<circle cx="870.5" cy="333.76" r="3.75" fill="#000" fill-opacity="0.624" stroke="#000" stroke-opacity="0.664" stroke-width="1.5"/>
<circle cx="879.5" cy="333.76" r="3.75" fill="#000" fill-opacity="0.068" stroke="#000" stroke-opacity="0.075" stroke-width="1.5"/>
<circle cx="890.3" cy="333.76" r="3.75" fill="#000" fill-opacity="0.130" stroke="#000" stroke-opacity="0.144" stroke-width="1.5"/>
<circle cx="909.6" cy="333.76" r="3.75" fill="#000" fill-opacity="0.068" stroke="#000" stroke-opacity="0.075" stroke-width="1.5"/>
<circle cx="918.2" cy="333.76" r="3.75" fill="#000" fill-opacity="0.068" stroke="#000" stroke-opacity="0.075" stroke-width="1.5"/>
<circle cx="924.7" cy="333.76" r="3.75" fill="#000" fill-opacity="0.130" stroke="#000" stroke-opacity="0.144" stroke-width="1.5"/>
<circle cx="931.1" cy="333.76" r="3.75" fill="#000" fill-opacity="0.130" stroke="#000" stroke-opacity="0.144" stroke-width="1.5"/>
<circle cx="939.7" cy="333.76" r="3.75" fill="#000" fill-opacity="0.189" stroke="#000" stroke-opacity="0.209" stroke-width="1.5"/>
<circle cx="947.2" cy="333.76" r="3.75" fill="#000" fill-opacity="0.130" stroke="#000" stroke-opacity="0.144" stroke-width="1.5"/>
<circle cx="954.8" cy="333.76" r="3.75" fill="#000" fill-opacity="0.189" stroke="#000" stroke-opacity="0.209" stroke-width="1.5"/>
<circle cx="963.4" cy="333.76" r="3.75" fill="#000" fill-opacity="0.244" stroke="#000" stroke-opacity="0.268" stroke-width="1.5"/>
<circle cx="969.8" cy="333.76" r="3.75" fill="#000" fill-opacity="0.189" stroke="#000" stroke-opacity="0.209" stroke-width="1.5"/>
<circle cx="976.3" cy="333.76" r="3.75" fill="#000" fill-opacity="0.365" stroke="#000" stroke-opacity="0.398" stroke-width="1.5"/>
<circle cx="981.7" cy="333.76" r="3.75" fill="#000" fill-opacity="0.365" stroke="#000" stroke-opacity="0.398" stroke-width="1.5"/>
<circle cx="989.2" cy="333.76" r="3.75" fill="#000" fill-opacity="0.244" stroke="#000" stroke-opacity="0.268" stroke-width="1.5"/>
<circle cx="996.7" cy="333.76" r="3.75" fill="#000" fill-opacity="0.244" stroke="#000" stroke-opacity="0.268" stroke-width="1.5"/>
<circle cx="1003.2" cy="333.76" r="3.75" fill="#000" fill-opacity="0.189" stroke="#000" stroke-opacity="0.209" stroke-width="1.5"/>
<circle cx="1009.6" cy="333.76" r="3.75" fill="#000" fill-opacity="0.365" stroke="#000" stroke-opacity="0.398" stroke-width="1.5"/>
<circle cx="1017.1" cy="333.76" r="3.75" fill="#000" fill-opacity="0.189" stroke="#000" stroke-opacity="0.209" stroke-width="1.5"/>
<circle cx="1023.6" cy="333.76" r="3.75" fill="#000" fill-opacity="0.244" stroke="#000" stroke-opacity="0.268" stroke-width="1.5"/>
<circle cx="1036.5" cy="333.76" r="3.75" fill="#000" fill-opacity="0.189" stroke="#000" stroke-opacity="0.209" stroke-width="1.5"/>
<circle cx="1045.1" cy="333.76" r="3.75" fill="#000" fill-opacity="0.068" stroke="#000" stroke-opacity="0.075" stroke-width="1.5"/>
<circle cx="1051.5" cy="333.76" r="3.75" fill="#000" fill-opacity="0.130" stroke="#000" stroke-opacity="0.144" stroke-width="1.5"/>
<circle cx="1056.8" cy="333.76" r="3.75" fill="#000" fill-opacity="0.637" stroke="#000" stroke-opacity="0.677" stroke-width="1.5"/>
<circle cx="1059.2" cy="333.76" r="3.75" fill="#000" fill-opacity="0.637" stroke="#000" stroke-opacity="0.677" stroke-width="1.5"/>
<circle cx="1065.5" cy="333.76" r="3.75" fill="#000" fill-opacity="0.365" stroke="#000" stroke-opacity="0.398" stroke-width="1.5"/>
<circle cx="1073" cy="333.76" r="3.75" fill="#000" fill-opacity="0.244" stroke="#000" stroke-opacity="0.268" stroke-width="1.5"/>
<circle cx="1081.7" cy="333.76" r="3.75" fill="#000" fill-opacity="0.244" stroke="#000" stroke-opacity="0.268" stroke-width="1.5"/>
<circle cx="1088" cy="333.76" r="3.75" fill="#000" fill-opacity="0.637" stroke="#000" stroke-opacity="0.677" stroke-width="1.5"/>
<circle cx="1090.4" cy="333.76" r="3.75" fill="#000" fill-opacity="0.637" stroke="#000" stroke-opacity="0.677" stroke-width="1.5"/>
<circle cx="1096.7" cy="333.76" r="3.75" fill="#000" fill-opacity="0.365" stroke="#000" stroke-opacity="0.398" stroke-width="1.5"/>
<circle cx="1103.2" cy="333.76" r="3.75" fill="#000" fill-opacity="0.244" stroke="#000" stroke-opacity="0.268" stroke-width="1.5"/>
<circle cx="1111.8" cy="333.76" r="3.75" fill="#000" fill-opacity="0.365" stroke="#000" stroke-opacity="0.398" stroke-width="1.5"/>
<circle cx="1118.7" cy="333.76" r="3.75" fill="#000" fill-opacity="0.744" stroke="#000" stroke-opacity="0.781" stroke-width="1.5"/>
<circle cx="1121.1" cy="333.76" r="3.75" fill="#000" fill-opacity="0.744" stroke="#000" stroke-opacity="0.781" stroke-width="1.5"/>
<circle cx="1126.8" cy="333.76" r="3.75" fill="#000" fill-opacity="0.467" stroke="#000" stroke-opacity="0.504" stroke-width="1.5"/>
<circle cx="1133.3" cy="333.76" r="3.75" fill="#000" fill-opacity="0.365" stroke="#000" stroke-opacity="0.398" stroke-width="1.5"/>
<circle cx="1139.7" cy="333.76" r="3.75" fill="#000" fill-opacity="0.244" stroke="#000" stroke-opacity="0.268" stroke-width="1.5"/>
<circle cx="1146.2" cy="333.76" r="3.75" fill="#000" fill-opacity="0.244" stroke="#000" stroke-opacity="0.268" stroke-width="1.5"/>
<circle cx="1153.7" cy="333.76" r="3.75" fill="#000" fill-opacity="0.189" stroke="#000" stroke-opacity="0.209" stroke-width="1.5"/>
<circle cx="1163.4" cy="333.76" r="3.75" fill="#000" fill-opacity="0.189" stroke="#000" stroke-opacity="0.209" stroke-width="1.5"/>
<circle cx="1169.8" cy="333.76" r="3.75" fill="#000" fill-opacity="0.189" stroke="#000" stroke-opacity="0.209" stroke-width="1.5"/>
<circle cx="1176.3" cy="333.76" r="3.75" fill="#000" fill-opacity="0.130" stroke="#000" stroke-opacity="0.144" stroke-width="1.5"/>
<circle cx="1182.7" cy="333.76" r="3.75" fill="#000" fill-opacity="0.467" stroke="#000" stroke-opacity="0.504" stroke-width="1.5"/>
<circle cx="1189.8" cy="333.76" r="3.75" fill="#000" fill-opacity="0.189" stroke="#000" stroke-opacity="0.209" stroke-width="1.5"/>
<circle cx="1196.3" cy="333.76" r="3.75" fill="#000" fill-opacity="0.189" stroke="#000" stroke-opacity="0.209" stroke-width="1.5"/>
<circle cx="1202.7" cy="333.76" r="3.75" fill="#000" fill-opacity="0.130" stroke="#000" stroke-opacity="0.144" stroke-width="1.5"/>
<circle cx="1211.3" cy="333.76" r="3.75" fill="#000" fill-opacity="0.130" stroke="#000" stroke-opacity="0.144" stroke-width="1.5"/>
<circle cx="1222.1" cy="333.76" r="3.75" fill="#000" fill-opacity="0.130" stroke="#000" stroke-opacity="0.144" stroke-width="1.5"/>
<circle cx="1228.5" cy="333.76" r="3.75" fill="#000" fill-opacity="0.189" stroke="#000" stroke-opacity="0.209" stroke-width="1.5"/>
<circle cx="1233.9" cy="333.76" r="3.75" fill="#000" fill-opacity="0.189" stroke="#000" stroke-opacity="0.209" stroke-width="1.5"/>
<circle cx="1241.4" cy="333.76" r="3.75" fill="#000" fill-opacity="0.130" stroke="#000" stroke-opacity="0.144" stroke-width="1.5"/>
<circle cx="1247.9" cy="333.76" r="3.75" fill="#000" fill-opacity="0.552" stroke="#000" stroke-opacity="0.592" stroke-width="1.5"/>
<circle cx="1255.4" cy="333.76" r="3.75" fill="#000" fill-opacity="0.244" stroke="#000" stroke-opacity="0.268" stroke-width="1.5"/>
<circle cx="1266.2" cy="333.76" r="3.75" fill="#000" fill-opacity="0.189" stroke="#000" stroke-opacity="0.209" stroke-width="1.5"/>
<circle cx="1272.6" cy="333.76" r="3.75" fill="#000" fill-opacity="0.189" stroke="#000" stroke-opacity="0.209" stroke-width="1.5"/>
<circle cx="1279.1" cy="333.76" r="3.75" fill="#000" fill-opacity="0.130" stroke="#000" stroke-opacity="0.144" stroke-width="1.5"/>
<circle cx="1289.8" cy="333.76" r="3.75" fill="#000" fill-opacity="0.130" stroke="#000" stroke-opacity="0.144" stroke-width="1.5"/>
<circle cx="1296.3" cy="333.76" r="3.75" fill="#000" fill-opacity="0.189" stroke="#000" stroke-opacity="0.209" stroke-width="1.5"/>
<circle cx="1306" cy="333.76" r="3.75" fill="#000" fill-opacity="0.189" stroke="#000" stroke-opacity="0.209" stroke-width="1.5"/>
<circle cx="1319.9" cy="333.76" r="3.75" fill="#000" fill-opacity="0.068" stroke="#000" stroke-opacity="0.075" stroke-width="1.5"/>
<circle cx="1332.8" cy="333.76" r="3.75" fill="#000" fill-opacity="0.068" stroke="#000" stroke-opacity="0.075" stroke-width="1.5"/>
<circle cx="1347.9" cy="333.76" r="3.75" fill="#000" fill-opacity="0.068" stroke="#000" stroke-opacity="0.075" stroke-width="1.5"/>
<circle cx="1360.8" cy="333.76" r="3.75" fill="#000" fill-opacity="0.130" stroke="#000" stroke-opacity="0.144" stroke-width="1.5"/>
<circle cx="1372.6" cy="333.76" r="3.75" fill="#000" fill-opacity="0.068" stroke="#000" stroke-opacity="0.075" stroke-width="1.5"/>
<circle cx="1386.6" cy="333.76" r="3.75" fill="#000" fill-opacity="0.068" stroke="#000" stroke-opacity="0.075" stroke-width="1.5"/>
<circle cx="1394.1" cy="333.76" r="3.75" fill="#000" fill-opacity="0.130" stroke="#000" stroke-opacity="0.144" stroke-width="1.5"/>
<circle cx="1413.5" cy="333.76" r="3.75" fill="#000" fill-opacity="0.068" stroke="#000" stroke-opacity="0.075" stroke-width="1.5"/>
<circle cx="1440.4" cy="333.76" r="3.75" fill="#000" fill-opacity="0.068" stroke="#000" stroke-opacity="0.075" stroke-width="1.5"/>
<circle cx="1478" cy="333.76" r="3.75" fill="#000" fill-opacity="0.068" stroke="#000" stroke-opacity="0.075" stroke-width="1.5"/>
<circle cx="1494.6" cy="333.76" r="3.75" fill="#000" fill-opacity="0.467" stroke="#000" stroke-opacity="0.504" stroke-width="1.5"/>
<circle cx="927.9" cy="333.76" r="3.75" fill="#000" fill-opacity="0.093" stroke="#000" stroke-opacity="0.103" stroke-width="1.5"/>
<circle cx="935.4" cy="333.76" r="3.75" fill="#000" fill-opacity="0.093" stroke="#000" stroke-opacity="0.103" stroke-width="1.5"/>
<circle cx="943.45" cy="333.76" r="3.75" fill="#000" fill-opacity="0.093" stroke="#000" stroke-opacity="0.103" stroke-width="1.5"/>
<circle cx="951" cy="333.76" r="3.75" fill="#000" fill-opacity="0.093" stroke="#000" stroke-opacity="0.103" stroke-width="1.5"/>
<circle cx="959.1" cy="333.76" r="3.75" fill="#000" fill-opacity="0.136" stroke="#000" stroke-opacity="0.151" stroke-width="1.5"/>
<circle cx="966.6" cy="333.76" r="3.75" fill="#000" fill-opacity="0.136" stroke="#000" stroke-opacity="0.151" stroke-width="1.5"/>
<circle cx="973.05" cy="333.76" r="3.75" fill="#000" fill-opacity="0.136" stroke="#000" stroke-opacity="0.151" stroke-width="1.5"/>
<circle cx="979" cy="333.76" r="3.75" fill="#000" fill-opacity="0.217" stroke="#000" stroke-opacity="0.239" stroke-width="1.5"/>
<circle cx="985.45" cy="333.76" r="3.75" fill="#000" fill-opacity="0.178" stroke="#000" stroke-opacity="0.196" stroke-width="1.5"/>
<circle cx="992.95" cy="333.76" r="3.75" fill="#000" fill-opacity="0.178" stroke="#000" stroke-opacity="0.196" stroke-width="1.5"/>
<circle cx="999.95" cy="333.76" r="3.75" fill="#000" fill-opacity="0.136" stroke="#000" stroke-opacity="0.151" stroke-width="1.5"/>
<circle cx="1006.4" cy="333.76" r="3.75" fill="#000" fill-opacity="0.136" stroke="#000" stroke-opacity="0.151" stroke-width="1.5"/>
<circle cx="1013.35" cy="333.76" r="3.75" fill="#000" fill-opacity="0.136" stroke="#000" stroke-opacity="0.151" stroke-width="1.5"/>
<circle cx="1020.35" cy="333.76" r="3.75" fill="#000" fill-opacity="0.136" stroke="#000" stroke-opacity="0.151" stroke-width="1.5"/>
<circle cx="1030.05" cy="333.76" r="3.75" fill="#000" fill-opacity="0.136" stroke="#000" stroke-opacity="0.151" stroke-width="1.5"/>
<circle cx="1054.75" cy="333.76" r="3.75" fill="#000" fill-opacity="0.093" stroke="#000" stroke-opacity="0.103" stroke-width="1.5"/>
<circle cx="1061.75" cy="333.76" r="3.75" fill="#000" fill-opacity="0.217" stroke="#000" stroke-opacity="0.239" stroke-width="1.5"/>
<circle cx="1069.25" cy="333.76" r="3.75" fill="#000" fill-opacity="0.178" stroke="#000" stroke-opacity="0.196" stroke-width="1.5"/>
<circle cx="1077.35" cy="333.76" r="3.75" fill="#000" fill-opacity="0.178" stroke="#000" stroke-opacity="0.196" stroke-width="1.5"/>
<circle cx="1085.45" cy="333.76" r="3.75" fill="#000" fill-opacity="0.178" stroke="#000" stroke-opacity="0.196" stroke-width="1.5"/>
<circle cx="1092.95" cy="333.76" r="3.75" fill="#000" fill-opacity="0.217" stroke="#000" stroke-opacity="0.239" stroke-width="1.5"/>
<circle cx="1099.95" cy="333.76" r="3.75" fill="#000" fill-opacity="0.178" stroke="#000" stroke-opacity="0.196" stroke-width="1.5"/>
<circle cx="1107.5" cy="333.76" r="3.75" fill="#000" fill-opacity="0.178" stroke="#000" stroke-opacity="0.196" stroke-width="1.5"/>
<circle cx="1115.85" cy="333.76" r="3.75" fill="#000" fill-opacity="0.217" stroke="#000" stroke-opacity="0.239" stroke-width="1.5"/>
<circle cx="1123.35" cy="333.76" r="3.75" fill="#000" fill-opacity="0.270" stroke="#000" stroke-opacity="0.296" stroke-width="1.5"/>
<circle cx="1130.05" cy="333.76" r="3.75" fill="#000" fill-opacity="0.217" stroke="#000" stroke-opacity="0.239" stroke-width="1.5"/>
<circle cx="1136.5" cy="333.76" r="3.75" fill="#000" fill-opacity="0.178" stroke="#000" stroke-opacity="0.196" stroke-width="1.5"/>
<circle cx="1142.95" cy="333.76" r="3.75" fill="#000" fill-opacity="0.178" stroke="#000" stroke-opacity="0.196" stroke-width="1.5"/>
<circle cx="1149.95" cy="333.76" r="3.75" fill="#000" fill-opacity="0.136" stroke="#000" stroke-opacity="0.151" stroke-width="1.5"/>
<circle cx="1158.55" cy="333.76" r="3.75" fill="#000" fill-opacity="0.136" stroke="#000" stroke-opacity="0.151" stroke-width="1.5"/>
<circle cx="1166.6" cy="333.76" r="3.75" fill="#000" fill-opacity="0.136" stroke="#000" stroke-opacity="0.151" stroke-width="1.5"/>
<circle cx="1173.05" cy="333.76" r="3.75" fill="#000" fill-opacity="0.093" stroke="#000" stroke-opacity="0.103" stroke-width="1.5"/>
<circle cx="1179.5" cy="333.76" r="3.75" fill="#000" fill-opacity="0.093" stroke="#000" stroke-opacity="0.103" stroke-width="1.5"/>
<circle cx="1186.25" cy="333.76" r="3.75" fill="#000" fill-opacity="0.136" stroke="#000" stroke-opacity="0.151" stroke-width="1.5"/>
<circle cx="1193.05" cy="333.76" r="3.75" fill="#000" fill-opacity="0.136" stroke="#000" stroke-opacity="0.151" stroke-width="1.5"/>
<circle cx="1199.5" cy="333.76" r="3.75" fill="#000" fill-opacity="0.093" stroke="#000" stroke-opacity="0.103" stroke-width="1.5"/>
<circle cx="1207" cy="333.76" r="3.75" fill="#000" fill-opacity="0.093" stroke="#000" stroke-opacity="0.103" stroke-width="1.5"/>
<circle cx="1216.7" cy="333.76" r="3.75" fill="#000" fill-opacity="0.093" stroke="#000" stroke-opacity="0.103" stroke-width="1.5"/>
<circle cx="1225.3" cy="333.76" r="3.75" fill="#000" fill-opacity="0.093" stroke="#000" stroke-opacity="0.103" stroke-width="1.5"/>
<circle cx="1231.2" cy="333.76" r="3.75" fill="#000" fill-opacity="0.136" stroke="#000" stroke-opacity="0.151" stroke-width="1.5"/>
<circle cx="1237.65" cy="333.76" r="3.75" fill="#000" fill-opacity="0.093" stroke="#000" stroke-opacity="0.103" stroke-width="1.5"/>
<circle cx="1244.65" cy="333.76" r="3.75" fill="#000" fill-opacity="0.093" stroke="#000" stroke-opacity="0.103" stroke-width="1.5"/>
<circle cx="1251.65" cy="333.76" r="3.75" fill="#000" fill-opacity="0.178" stroke="#000" stroke-opacity="0.196" stroke-width="1.5"/>
<circle cx="1260.8" cy="333.76" r="3.75" fill="#000" fill-opacity="0.136" stroke="#000" stroke-opacity="0.151" stroke-width="1.5"/>
<circle cx="1269.4" cy="333.76" r="3.75" fill="#000" fill-opacity="0.136" stroke="#000" stroke-opacity="0.151" stroke-width="1.5"/>
<circle cx="1275.85" cy="333.76" r="3.75" fill="#000" fill-opacity="0.093" stroke="#000" stroke-opacity="0.103" stroke-width="1.5"/>
<circle cx="1284.45" cy="333.76" r="3.75" fill="#000" fill-opacity="0.093" stroke="#000" stroke-opacity="0.103" stroke-width="1.5"/>
<circle cx="1293.05" cy="333.76" r="3.75" fill="#000" fill-opacity="0.093" stroke="#000" stroke-opacity="0.103" stroke-width="1.5"/>
<circle cx="1301.15" cy="333.76" r="3.75" fill="#000" fill-opacity="0.136" stroke="#000" stroke-opacity="0.151" stroke-width="1.5"/>
<circle cx="870.5" cy="474.59" r="3.75" fill="#000" fill-opacity="0.365" stroke="#000" stroke-opacity="0.398" stroke-width="1.5"/>
<circle cx="881.7" cy="474.59" r="3.75" fill="#000" fill-opacity="0.068" stroke="#000" stroke-opacity="0.075" stroke-width="1.5"/>
<circle cx="893.5" cy="474.59" r="3.75" fill="#000" fill-opacity="0.068" stroke="#000" stroke-opacity="0.075" stroke-width="1.5"/>
<circle cx="902.1" cy="474.59" r="3.75" fill="#000" fill-opacity="0.068" stroke="#000" stroke-opacity="0.075" stroke-width="1.5"/>
<circle cx="909.6" cy="474.59" r="3.75" fill="#000" fill-opacity="0.068" stroke="#000" stroke-opacity="0.075" stroke-width="1.5"/>
<circle cx="919.3" cy="474.59" r="3.75" fill="#000" fill-opacity="0.130" stroke="#000" stroke-opacity="0.144" stroke-width="1.5"/>
<circle cx="926.8" cy="474.59" r="3.75" fill="#000" fill-opacity="0.068" stroke="#000" stroke-opacity="0.075" stroke-width="1.5"/>
<circle cx="933.3" cy="474.59" r="3.75" fill="#000" fill-opacity="0.130" stroke="#000" stroke-opacity="0.144" stroke-width="1.5"/>
<circle cx="944" cy="474.59" r="3.75" fill="#000" fill-opacity="0.068" stroke="#000" stroke-opacity="0.075" stroke-width="1.5"/>
<circle cx="950.5" cy="474.59" r="3.75" fill="#000" fill-opacity="0.130" stroke="#000" stroke-opacity="0.144" stroke-width="1.5"/>
<circle cx="956.9" cy="474.59" r="3.75" fill="#000" fill-opacity="0.244" stroke="#000" stroke-opacity="0.268" stroke-width="1.5"/>
<circle cx="963.4" cy="474.59" r="3.75" fill="#000" fill-opacity="0.189" stroke="#000" stroke-opacity="0.209" stroke-width="1.5"/>
<circle cx="974.1" cy="474.59" r="3.75" fill="#000" fill-opacity="0.244" stroke="#000" stroke-opacity="0.268" stroke-width="1.5"/>
<circle cx="982.7" cy="474.59" r="3.75" fill="#000" fill-opacity="0.552" stroke="#000" stroke-opacity="0.592" stroke-width="1.5"/>
<circle cx="989.2" cy="474.59" r="3.75" fill="#000" fill-opacity="0.365" stroke="#000" stroke-opacity="0.398" stroke-width="1.5"/>
<circle cx="995.6" cy="474.59" r="3.75" fill="#000" fill-opacity="0.244" stroke="#000" stroke-opacity="0.268" stroke-width="1.5"/>
<circle cx="1001" cy="474.59" r="3.75" fill="#000" fill-opacity="0.244" stroke="#000" stroke-opacity="0.268" stroke-width="1.5"/>
<circle cx="1008.5" cy="474.59" r="3.75" fill="#000" fill-opacity="0.244" stroke="#000" stroke-opacity="0.268" stroke-width="1.5"/>
<circle cx="1018.2" cy="474.59" r="3.75" fill="#000" fill-opacity="0.244" stroke="#000" stroke-opacity="0.268" stroke-width="1.5"/>
<circle cx="1027.9" cy="474.59" r="3.75" fill="#000" fill-opacity="0.189" stroke="#000" stroke-opacity="0.209" stroke-width="1.5"/>
<circle cx="1034.9" cy="474.59" r="3.75" fill="#000" fill-opacity="0.485" stroke="#000" stroke-opacity="0.523" stroke-width="1.5"/>
<circle cx="1037.3" cy="474.59" r="3.75" fill="#000" fill-opacity="0.485" stroke="#000" stroke-opacity="0.523" stroke-width="1.5"/>
<circle cx="1045.1" cy="474.59" r="3.75" fill="#000" fill-opacity="0.244" stroke="#000" stroke-opacity="0.268" stroke-width="1.5"/>
<circle cx="1051.5" cy="474.59" r="3.75" fill="#000" fill-opacity="0.244" stroke="#000" stroke-opacity="0.268" stroke-width="1.5"/>
<circle cx="1056.8" cy="474.59" r="3.75" fill="#000" fill-opacity="0.637" stroke="#000" stroke-opacity="0.677" stroke-width="1.5"/>
<circle cx="1059.2" cy="474.59" r="3.75" fill="#000" fill-opacity="0.637" stroke="#000" stroke-opacity="0.677" stroke-width="1.5"/>
<circle cx="1064.5" cy="474.59" r="3.75" fill="#000" fill-opacity="0.365" stroke="#000" stroke-opacity="0.398" stroke-width="1.5"/>
<circle cx="1070.9" cy="474.59" r="3.75" fill="#000" fill-opacity="0.189" stroke="#000" stroke-opacity="0.209" stroke-width="1.5"/>
<circle cx="1077.4" cy="474.59" r="3.75" fill="#000" fill-opacity="0.189" stroke="#000" stroke-opacity="0.209" stroke-width="1.5"/>
<circle cx="1082.7" cy="474.59" r="3.75" fill="#000" fill-opacity="0.244" stroke="#000" stroke-opacity="0.268" stroke-width="1.5"/>
<circle cx="1088" cy="474.59" r="3.75" fill="#000" fill-opacity="0.667" stroke="#000" stroke-opacity="0.707" stroke-width="1.5"/>
<circle cx="1090.4" cy="474.59" r="3.75" fill="#000" fill-opacity="0.667" stroke="#000" stroke-opacity="0.707" stroke-width="1.5"/>
<circle cx="1096.7" cy="474.59" r="3.75" fill="#000" fill-opacity="0.244" stroke="#000" stroke-opacity="0.268" stroke-width="1.5"/>
<circle cx="1103.2" cy="474.59" r="3.75" fill="#000" fill-opacity="0.189" stroke="#000" stroke-opacity="0.209" stroke-width="1.5"/>
<circle cx="1113.9" cy="474.59" r="3.75" fill="#000" fill-opacity="0.552" stroke="#000" stroke-opacity="0.592" stroke-width="1.5"/>
<circle cx="1118.7" cy="474.59" r="3.75" fill="#000" fill-opacity="0.695" stroke="#000" stroke-opacity="0.734" stroke-width="1.5"/>
<circle cx="1121.1" cy="474.59" r="3.75" fill="#000" fill-opacity="0.695" stroke="#000" stroke-opacity="0.734" stroke-width="1.5"/>
<circle cx="1126.8" cy="474.59" r="3.75" fill="#000" fill-opacity="0.467" stroke="#000" stroke-opacity="0.504" stroke-width="1.5"/>
<circle cx="1134.4" cy="474.59" r="3.75" fill="#000" fill-opacity="0.244" stroke="#000" stroke-opacity="0.268" stroke-width="1.5"/>
<circle cx="1142.3" cy="474.59" r="3.75" fill="#000" fill-opacity="0.365" stroke="#000" stroke-opacity="0.398" stroke-width="1.5"/>
<circle cx="1150.5" cy="474.59" r="3.75" fill="#000" fill-opacity="0.189" stroke="#000" stroke-opacity="0.209" stroke-width="1.5"/>
<circle cx="1159.1" cy="474.59" r="3.75" fill="#000" fill-opacity="0.189" stroke="#000" stroke-opacity="0.209" stroke-width="1.5"/>
<circle cx="1167.7" cy="474.59" r="3.75" fill="#000" fill-opacity="0.130" stroke="#000" stroke-opacity="0.144" stroke-width="1.5"/>
<circle cx="1175.2" cy="474.59" r="3.75" fill="#000" fill-opacity="0.189" stroke="#000" stroke-opacity="0.209" stroke-width="1.5"/>
<circle cx="1182.7" cy="474.59" r="3.75" fill="#000" fill-opacity="0.244" stroke="#000" stroke-opacity="0.268" stroke-width="1.5"/>
<circle cx="1194.1" cy="474.59" r="3.75" fill="#000" fill-opacity="0.130" stroke="#000" stroke-opacity="0.144" stroke-width="1.5"/>
<circle cx="1201.7" cy="474.59" r="3.75" fill="#000" fill-opacity="0.189" stroke="#000" stroke-opacity="0.209" stroke-width="1.5"/>
<circle cx="1206" cy="474.59" r="3.75" fill="#000" fill-opacity="0.130" stroke="#000" stroke-opacity="0.144" stroke-width="1.5"/>
<circle cx="1217.8" cy="474.59" r="3.75" fill="#000" fill-opacity="0.244" stroke="#000" stroke-opacity="0.268" stroke-width="1.5"/>
<circle cx="1228.5" cy="474.59" r="3.75" fill="#000" fill-opacity="0.189" stroke="#000" stroke-opacity="0.209" stroke-width="1.5"/>
<circle cx="1240.4" cy="474.59" r="3.75" fill="#000" fill-opacity="0.189" stroke="#000" stroke-opacity="0.209" stroke-width="1.5"/>
<circle cx="1251.1" cy="474.59" r="3.75" fill="#000" fill-opacity="0.189" stroke="#000" stroke-opacity="0.209" stroke-width="1.5"/>
<circle cx="1260.8" cy="474.59" r="3.75" fill="#000" fill-opacity="0.189" stroke="#000" stroke-opacity="0.209" stroke-width="1.5"/>
<circle cx="1265.1" cy="474.59" r="3.75" fill="#000" fill-opacity="0.189" stroke="#000" stroke-opacity="0.209" stroke-width="1.5"/>
<circle cx="1270.5" cy="474.59" r="3.75" fill="#000" fill-opacity="0.189" stroke="#000" stroke-opacity="0.209" stroke-width="1.5"/>
<circle cx="1281.2" cy="474.59" r="3.75" fill="#000" fill-opacity="0.068" stroke="#000" stroke-opacity="0.075" stroke-width="1.5"/>
<circle cx="1287.7" cy="474.59" r="3.75" fill="#000" fill-opacity="0.130" stroke="#000" stroke-opacity="0.144" stroke-width="1.5"/>
<circle cx="1295.2" cy="474.59" r="3.75" fill="#000" fill-opacity="0.068" stroke="#000" stroke-opacity="0.075" stroke-width="1.5"/>
<circle cx="1300.6" cy="474.59" r="3.75" fill="#000" fill-opacity="0.189" stroke="#000" stroke-opacity="0.209" stroke-width="1.5"/>
<circle cx="1312.4" cy="474.59" r="3.75" fill="#000" fill-opacity="0.068" stroke="#000" stroke-opacity="0.075" stroke-width="1.5"/>
<circle cx="1335" cy="474.59" r="3.75" fill="#000" fill-opacity="0.068" stroke="#000" stroke-opacity="0.075" stroke-width="1.5"/>
<circle cx="1344.7" cy="474.59" r="3.75" fill="#000" fill-opacity="0.068" stroke="#000" stroke-opacity="0.075" stroke-width="1.5"/>
<circle cx="1348.3" cy="474.59" r="3.75" fill="#000" fill-opacity="0.130" stroke="#000" stroke-opacity="0.144" stroke-width="1.5"/>
<circle cx="1354.8" cy="474.59" r="3.75" fill="#000" fill-opacity="0.068" stroke="#000" stroke-opacity="0.075" stroke-width="1.5"/>
<circle cx="1371.5" cy="474.59" r="3.75" fill="#000" fill-opacity="0.068" stroke="#000" stroke-opacity="0.075" stroke-width="1.5"/>
<circle cx="1378" cy="474.59" r="3.75" fill="#000" fill-opacity="0.130" stroke="#000" stroke-opacity="0.144" stroke-width="1.5"/>
<circle cx="1382.3" cy="474.59" r="3.75" fill="#000" fill-opacity="0.130" stroke="#000" stroke-opacity="0.144" stroke-width="1.5"/>
<circle cx="1392" cy="474.59" r="3.75" fill="#000" fill-opacity="0.068" stroke="#000" stroke-opacity="0.075" stroke-width="1.5"/>
<circle cx="1399.1" cy="474.59" r="3.75" fill="#000" fill-opacity="0.189" stroke="#000" stroke-opacity="0.209" stroke-width="1.5"/>
<circle cx="1423.2" cy="474.59" r="3.75" fill="#000" fill-opacity="0.068" stroke="#000" stroke-opacity="0.075" stroke-width="1.5"/>
<circle cx="1458.6" cy="474.59" r="3.75" fill="#000" fill-opacity="0.130" stroke="#000" stroke-opacity="0.144" stroke-width="1.5"/>
<circle cx="1467.2" cy="474.59" r="3.75" fill="#000" fill-opacity="0.068" stroke="#000" stroke-opacity="0.075" stroke-width="1.5"/>
<circle cx="1475.8" cy="474.59" r="3.75" fill="#000" fill-opacity="0.068" stroke="#000" stroke-opacity="0.075" stroke-width="1.5"/>
<circle cx="1488.8" cy="474.59" r="3.75" fill="#000" fill-opacity="0.130" stroke="#000" stroke-opacity="0.144" stroke-width="1.5"/>
<circle cx="953.7" cy="474.59" r="3.75" fill="#000" fill-opacity="0.093" stroke="#000" stroke-opacity="0.103" stroke-width="1.5"/>
<circle cx="960.15" cy="474.59" r="3.75" fill="#000" fill-opacity="0.136" stroke="#000" stroke-opacity="0.151" stroke-width="1.5"/>
<circle cx="968.75" cy="474.59" r="3.75" fill="#000" fill-opacity="0.136" stroke="#000" stroke-opacity="0.151" stroke-width="1.5"/>
<circle cx="978.4" cy="474.59" r="3.75" fill="#000" fill-opacity="0.178" stroke="#000" stroke-opacity="0.196" stroke-width="1.5"/>
<circle cx="985.95" cy="474.59" r="3.75" fill="#000" fill-opacity="0.217" stroke="#000" stroke-opacity="0.239" stroke-width="1.5"/>
<circle cx="992.4" cy="474.59" r="3.75" fill="#000" fill-opacity="0.178" stroke="#000" stroke-opacity="0.196" stroke-width="1.5"/>
<circle cx="998.3" cy="474.59" r="3.75" fill="#000" fill-opacity="0.178" stroke="#000" stroke-opacity="0.196" stroke-width="1.5"/>
<circle cx="1004.75" cy="474.59" r="3.75" fill="#000" fill-opacity="0.178" stroke="#000" stroke-opacity="0.196" stroke-width="1.5"/>
<circle cx="1013.35" cy="474.59" r="3.75" fill="#000" fill-opacity="0.178" stroke="#000" stroke-opacity="0.196" stroke-width="1.5"/>
<circle cx="1023.05" cy="474.59" r="3.75" fill="#000" fill-opacity="0.136" stroke="#000" stroke-opacity="0.151" stroke-width="1.5"/>
<circle cx="1032" cy="474.59" r="3.75" fill="#000" fill-opacity="0.136" stroke="#000" stroke-opacity="0.151" stroke-width="1.5"/>
<circle cx="1040.6" cy="474.59" r="3.75" fill="#000" fill-opacity="0.178" stroke="#000" stroke-opacity="0.196" stroke-width="1.5"/>
<circle cx="1048.3" cy="474.59" r="3.75" fill="#000" fill-opacity="0.178" stroke="#000" stroke-opacity="0.196" stroke-width="1.5"/>
<circle cx="1054.75" cy="474.59" r="3.75" fill="#000" fill-opacity="0.178" stroke="#000" stroke-opacity="0.196" stroke-width="1.5"/>
<circle cx="1061.25" cy="474.59" r="3.75" fill="#000" fill-opacity="0.217" stroke="#000" stroke-opacity="0.239" stroke-width="1.5"/>
<circle cx="1067.7" cy="474.59" r="3.75" fill="#000" fill-opacity="0.136" stroke="#000" stroke-opacity="0.151" stroke-width="1.5"/>
<circle cx="1074.15" cy="474.59" r="3.75" fill="#000" fill-opacity="0.136" stroke="#000" stroke-opacity="0.151" stroke-width="1.5"/>
<circle cx="1080.05" cy="474.59" r="3.75" fill="#000" fill-opacity="0.136" stroke="#000" stroke-opacity="0.151" stroke-width="1.5"/>
<circle cx="1085.95" cy="474.59" r="3.75" fill="#000" fill-opacity="0.178" stroke="#000" stroke-opacity="0.196" stroke-width="1.5"/>
<circle cx="1092.95" cy="474.59" r="3.75" fill="#000" fill-opacity="0.178" stroke="#000" stroke-opacity="0.196" stroke-width="1.5"/>
<circle cx="1099.95" cy="474.59" r="3.75" fill="#000" fill-opacity="0.136" stroke="#000" stroke-opacity="0.151" stroke-width="1.5"/>
<circle cx="1108.55" cy="474.59" r="3.75" fill="#000" fill-opacity="0.136" stroke="#000" stroke-opacity="0.151" stroke-width="1.5"/>
<circle cx="1116.9" cy="474.59" r="3.75" fill="#000" fill-opacity="0.354" stroke="#000" stroke-opacity="0.386" stroke-width="1.5"/>
<circle cx="1123.35" cy="474.59" r="3.75" fill="#000" fill-opacity="0.270" stroke="#000" stroke-opacity="0.296" stroke-width="1.5"/>
<circle cx="1130.6" cy="474.59" r="3.75" fill="#000" fill-opacity="0.178" stroke="#000" stroke-opacity="0.196" stroke-width="1.5"/>
<circle cx="1138.35" cy="474.59" r="3.75" fill="#000" fill-opacity="0.178" stroke="#000" stroke-opacity="0.196" stroke-width="1.5"/>
<circle cx="1146.4" cy="474.59" r="3.75" fill="#000" fill-opacity="0.136" stroke="#000" stroke-opacity="0.151" stroke-width="1.5"/>
<circle cx="1154.8" cy="474.59" r="3.75" fill="#000" fill-opacity="0.136" stroke="#000" stroke-opacity="0.151" stroke-width="1.5"/>
<circle cx="1163.4" cy="474.59" r="3.75" fill="#000" fill-opacity="0.093" stroke="#000" stroke-opacity="0.103" stroke-width="1.5"/>
<circle cx="1171.45" cy="474.59" r="3.75" fill="#000" fill-opacity="0.093" stroke="#000" stroke-opacity="0.103" stroke-width="1.5"/>
<circle cx="1178.95" cy="474.59" r="3.75" fill="#000" fill-opacity="0.136" stroke="#000" stroke-opacity="0.151" stroke-width="1.5"/>
<circle cx="1188.4" cy="474.59" r="3.75" fill="#000" fill-opacity="0.093" stroke="#000" stroke-opacity="0.103" stroke-width="1.5"/>
<circle cx="1197.9" cy="474.59" r="3.75" fill="#000" fill-opacity="0.093" stroke="#000" stroke-opacity="0.103" stroke-width="1.5"/>
<circle cx="1211.9" cy="474.59" r="3.75" fill="#000" fill-opacity="0.093" stroke="#000" stroke-opacity="0.103" stroke-width="1.5"/>
<circle cx="1223.15" cy="474.59" r="3.75" fill="#000" fill-opacity="0.136" stroke="#000" stroke-opacity="0.151" stroke-width="1.5"/>
<circle cx="1234.45" cy="474.59" r="3.75" fill="#000" fill-opacity="0.136" stroke="#000" stroke-opacity="0.151" stroke-width="1.5"/>
<circle cx="1245.75" cy="474.59" r="3.75" fill="#000" fill-opacity="0.136" stroke="#000" stroke-opacity="0.151" stroke-width="1.5"/>
<circle cx="1255.95" cy="474.59" r="3.75" fill="#000" fill-opacity="0.136" stroke="#000" stroke-opacity="0.151" stroke-width="1.5"/>
<circle cx="1267.8" cy="474.59" r="3.75" fill="#000" fill-opacity="0.136" stroke="#000" stroke-opacity="0.151" stroke-width="1.5"/>
<circle cx="870.5" cy="615.42" r="3.75" fill="#000" fill-opacity="0.552" stroke="#000" stroke-opacity="0.592" stroke-width="1.5"/>
<circle cx="880.6" cy="615.42" r="3.75" fill="#000" fill-opacity="0.130" stroke="#000" stroke-opacity="0.144" stroke-width="1.5"/>
<circle cx="910.7" cy="615.42" r="3.75" fill="#000" fill-opacity="0.068" stroke="#000" stroke-opacity="0.075" stroke-width="1.5"/>
<circle cx="920.4" cy="615.42" r="3.75" fill="#000" fill-opacity="0.130" stroke="#000" stroke-opacity="0.144" stroke-width="1.5"/>
<circle cx="930" cy="615.42" r="3.75" fill="#000" fill-opacity="0.130" stroke="#000" stroke-opacity="0.144" stroke-width="1.5"/>
<circle cx="936.5" cy="615.42" r="3.75" fill="#000" fill-opacity="0.068" stroke="#000" stroke-opacity="0.075" stroke-width="1.5"/>
<circle cx="948.3" cy="615.42" r="3.75" fill="#000" fill-opacity="0.068" stroke="#000" stroke-opacity="0.075" stroke-width="1.5"/>
<circle cx="955.8" cy="615.42" r="3.75" fill="#000" fill-opacity="0.244" stroke="#000" stroke-opacity="0.268" stroke-width="1.5"/>
<circle cx="962.9" cy="615.42" r="3.75" fill="#000" fill-opacity="0.189" stroke="#000" stroke-opacity="0.209" stroke-width="1.5"/>
<circle cx="975.2" cy="615.42" r="3.75" fill="#000" fill-opacity="0.068" stroke="#000" stroke-opacity="0.075" stroke-width="1.5"/>
<circle cx="982.7" cy="615.42" r="3.75" fill="#000" fill-opacity="0.467" stroke="#000" stroke-opacity="0.504" stroke-width="1.5"/>
<circle cx="991.3" cy="615.42" r="3.75" fill="#000" fill-opacity="0.189" stroke="#000" stroke-opacity="0.209" stroke-width="1.5"/>
<circle cx="998.9" cy="615.42" r="3.75" fill="#000" fill-opacity="0.189" stroke="#000" stroke-opacity="0.209" stroke-width="1.5"/>
<circle cx="1009.6" cy="615.42" r="3.75" fill="#000" fill-opacity="0.365" stroke="#000" stroke-opacity="0.398" stroke-width="1.5"/>
<circle cx="1018.2" cy="615.42" r="3.75" fill="#000" fill-opacity="0.130" stroke="#000" stroke-opacity="0.144" stroke-width="1.5"/>
<circle cx="1030" cy="615.42" r="3.75" fill="#000" fill-opacity="0.068" stroke="#000" stroke-opacity="0.075" stroke-width="1.5"/>
<circle cx="1036.1" cy="615.42" r="3.75" fill="#000" fill-opacity="0.467" stroke="#000" stroke-opacity="0.504" stroke-width="1.5"/>
<circle cx="1045.1" cy="615.42" r="3.75" fill="#000" fill-opacity="0.130" stroke="#000" stroke-opacity="0.144" stroke-width="1.5"/>
<circle cx="1049.4" cy="615.42" r="3.75" fill="#000" fill-opacity="0.130" stroke="#000" stroke-opacity="0.144" stroke-width="1.5"/>
<circle cx="1057.6" cy="615.42" r="3.75" fill="#000" fill-opacity="0.365" stroke="#000" stroke-opacity="0.398" stroke-width="1.5"/>
<circle cx="1066.6" cy="615.42" r="3.75" fill="#000" fill-opacity="0.189" stroke="#000" stroke-opacity="0.209" stroke-width="1.5"/>
<circle cx="1077.4" cy="615.42" r="3.75" fill="#000" fill-opacity="0.189" stroke="#000" stroke-opacity="0.209" stroke-width="1.5"/>
<circle cx="1088" cy="615.42" r="3.75" fill="#000" fill-opacity="0.485" stroke="#000" stroke-opacity="0.523" stroke-width="1.5"/>
<circle cx="1090.4" cy="615.42" r="3.75" fill="#000" fill-opacity="0.485" stroke="#000" stroke-opacity="0.523" stroke-width="1.5"/>
<circle cx="1101" cy="615.42" r="3.75" fill="#000" fill-opacity="0.189" stroke="#000" stroke-opacity="0.209" stroke-width="1.5"/>
<circle cx="1110.7" cy="615.42" r="3.75" fill="#000" fill-opacity="0.068" stroke="#000" stroke-opacity="0.075" stroke-width="1.5"/>
<circle cx="1119.9" cy="615.42" r="3.75" fill="#000" fill-opacity="0.552" stroke="#000" stroke-opacity="0.592" stroke-width="1.5"/>
<circle cx="1132.2" cy="615.42" r="3.75" fill="#000" fill-opacity="0.130" stroke="#000" stroke-opacity="0.144" stroke-width="1.5"/>
<circle cx="1142.9" cy="615.42" r="3.75" fill="#000" fill-opacity="0.189" stroke="#000" stroke-opacity="0.209" stroke-width="1.5"/>
<circle cx="1151.5" cy="615.42" r="3.75" fill="#000" fill-opacity="0.068" stroke="#000" stroke-opacity="0.075" stroke-width="1.5"/>
<circle cx="1169.8" cy="615.42" r="3.75" fill="#000" fill-opacity="0.068" stroke="#000" stroke-opacity="0.075" stroke-width="1.5"/>
<circle cx="1178.4" cy="615.42" r="3.75" fill="#000" fill-opacity="0.130" stroke="#000" stroke-opacity="0.144" stroke-width="1.5"/>
<circle cx="1184.9" cy="615.42" r="3.75" fill="#000" fill-opacity="0.130" stroke="#000" stroke-opacity="0.144" stroke-width="1.5"/>
<circle cx="1193.5" cy="615.42" r="3.75" fill="#000" fill-opacity="0.189" stroke="#000" stroke-opacity="0.209" stroke-width="1.5"/>
<circle cx="1215" cy="615.42" r="3.75" fill="#000" fill-opacity="0.068" stroke="#000" stroke-opacity="0.075" stroke-width="1.5"/>
<circle cx="1232.8" cy="615.42" r="3.75" fill="#000" fill-opacity="0.189" stroke="#000" stroke-opacity="0.209" stroke-width="1.5"/>
<circle cx="1238.2" cy="615.42" r="3.75" fill="#000" fill-opacity="0.130" stroke="#000" stroke-opacity="0.144" stroke-width="1.5"/>
<circle cx="1244.7" cy="615.42" r="3.75" fill="#000" fill-opacity="0.068" stroke="#000" stroke-opacity="0.075" stroke-width="1.5"/>
<circle cx="1256.5" cy="615.42" r="3.75" fill="#000" fill-opacity="0.068" stroke="#000" stroke-opacity="0.075" stroke-width="1.5"/>
<circle cx="1264" cy="615.42" r="3.75" fill="#000" fill-opacity="0.068" stroke="#000" stroke-opacity="0.075" stroke-width="1.5"/>
<circle cx="1280.8" cy="615.42" r="3.75" fill="#000" fill-opacity="0.130" stroke="#000" stroke-opacity="0.144" stroke-width="1.5"/>
<circle cx="1293.1" cy="615.42" r="3.75" fill="#000" fill-opacity="0.189" stroke="#000" stroke-opacity="0.209" stroke-width="1.5"/>
<circle cx="1487.2" cy="615.42" r="3.75" fill="#000" fill-opacity="0.068" stroke="#000" stroke-opacity="0.075" stroke-width="1.5"/>
<circle cx="875.55" cy="615.42" r="3.75" fill="#000" fill-opacity="0.093" stroke="#000" stroke-opacity="0.103" stroke-width="1.5"/>
<circle cx="925.2" cy="615.42" r="3.75" fill="#000" fill-opacity="0.093" stroke="#000" stroke-opacity="0.103" stroke-width="1.5"/>
<circle cx="959.35" cy="615.42" r="3.75" fill="#000" fill-opacity="0.136" stroke="#000" stroke-opacity="0.151" stroke-width="1.5"/>
<circle cx="987" cy="615.42" r="3.75" fill="#000" fill-opacity="0.136" stroke="#000" stroke-opacity="0.151" stroke-width="1.5"/>
<circle cx="995.1" cy="615.42" r="3.75" fill="#000" fill-opacity="0.136" stroke="#000" stroke-opacity="0.151" stroke-width="1.5"/>
<circle cx="1004.25" cy="615.42" r="3.75" fill="#000" fill-opacity="0.136" stroke="#000" stroke-opacity="0.151" stroke-width="1.5"/>
<circle cx="1013.9" cy="615.42" r="3.75" fill="#000" fill-opacity="0.093" stroke="#000" stroke-opacity="0.103" stroke-width="1.5"/>
<circle cx="1040.6" cy="615.42" r="3.75" fill="#000" fill-opacity="0.093" stroke="#000" stroke-opacity="0.103" stroke-width="1.5"/>
<circle cx="1053.5" cy="615.42" r="3.75" fill="#000" fill-opacity="0.093" stroke="#000" stroke-opacity="0.103" stroke-width="1.5"/>
<circle cx="1062.1" cy="615.42" r="3.75" fill="#000" fill-opacity="0.136" stroke="#000" stroke-opacity="0.151" stroke-width="1.5"/>
<circle cx="1072" cy="615.42" r="3.75" fill="#000" fill-opacity="0.136" stroke="#000" stroke-opacity="0.151" stroke-width="1.5"/>
<circle cx="1083.3" cy="615.42" r="3.75" fill="#000" fill-opacity="0.136" stroke="#000" stroke-opacity="0.151" stroke-width="1.5"/>
<circle cx="1095.1" cy="615.42" r="3.75" fill="#000" fill-opacity="0.136" stroke="#000" stroke-opacity="0.151" stroke-width="1.5"/>
<circle cx="1126.05" cy="615.42" r="3.75" fill="#000" fill-opacity="0.093" stroke="#000" stroke-opacity="0.103" stroke-width="1.5"/>
<circle cx="1137.55" cy="615.42" r="3.75" fill="#000" fill-opacity="0.093" stroke="#000" stroke-opacity="0.103" stroke-width="1.5"/>
<circle cx="1181.65" cy="615.42" r="3.75" fill="#000" fill-opacity="0.093" stroke="#000" stroke-opacity="0.103" stroke-width="1.5"/>
<circle cx="1189.2" cy="615.42" r="3.75" fill="#000" fill-opacity="0.093" stroke="#000" stroke-opacity="0.103" stroke-width="1.5"/>
<circle cx="1235.5" cy="615.42" r="3.75" fill="#000" fill-opacity="0.093" stroke="#000" stroke-opacity="0.103" stroke-width="1.5"/>
<circle cx="1286.95" cy="615.42" r="3.75" fill="#000" fill-opacity="0.093" stroke="#000" stroke-opacity="0.103" stroke-width="1.5"/>
</g>
<path d="M870.7,454.55 L881.1,452.19 L891.5,449.82 L901.91,447.45 L912.31,445.08 L922.71,442.69 L933.11,440.3 L943.51,437.91 L953.91,435.5 L964.32,433.08 L974.72,430.65 L985.12,428.21 L995.52,425.75 L1005.92,423.27 L1016.32,420.76 L1026.72,418.23 L1037.13,415.67 L1047.53,413.08 L1057.93,410.44 L1068.33,407.76 L1078.73,405.03 L1089.13,402.24 L1099.54,399.4 L1109.94,396.51 L1120.34,393.57 L1130.74,390.57 L1141.14,387.53 L1151.55,384.45 L1161.95,381.33 L1172.35,378.18 L1182.75,375 L1193.15,371.8 L1203.55,368.57 L1213.95,365.33 L1224.36,362.08 L1234.76,358.81 L1245.16,355.53 L1255.56,352.25 L1265.96,348.95 L1276.37,345.65 L1286.77,342.34 L1297.17,339.02 L1307.57,335.7 L1317.97,332.38 L1328.37,329.05 L1338.78,325.72 L1349.18,322.38 L1359.58,319.05 L1369.98,315.71 L1380.38,312.37 L1390.78,309.02 L1401.18,305.68 L1411.59,302.33 L1421.99,298.98 L1432.39,295.63 L1442.79,292.28 L1453.19,288.92 L1463.6,285.57 L1474,282.21 L1484.4,278.86 L1494.8,275.5 L1494.8,317.5 L1484.4,319.83 L1474,322.16 L1463.6,324.49 L1453.19,326.82 L1442.79,329.16 L1432.39,331.49 L1421.99,333.83 L1411.59,336.17 L1401.18,338.5 L1390.78,340.85 L1380.38,343.19 L1369.98,345.53 L1359.58,347.88 L1349.18,350.23 L1338.78,352.58 L1328.37,354.94 L1317.97,357.29 L1307.57,359.66 L1297.17,362.02 L1286.77,364.39 L1276.37,366.77 L1265.96,369.16 L1255.56,371.55 L1245.16,373.95 L1234.76,376.35 L1224.36,378.77 L1213.95,381.21 L1203.55,383.65 L1193.15,386.12 L1182.75,388.6 L1172.35,391.11 L1161.95,393.65 L1151.55,396.21 L1141.14,398.82 L1130.74,401.46 L1120.34,404.15 L1109.94,406.9 L1099.54,409.69 L1089.13,412.54 L1078.73,415.44 L1068.33,418.4 L1057.93,421.4 L1047.53,424.45 L1037.13,427.54 L1026.72,430.67 L1016.32,433.82 L1005.92,437.01 L995.52,440.21 L985.12,443.44 L974.72,446.68 L964.32,449.94 L953.91,453.21 L943.51,456.49 L933.11,459.78 L922.71,463.07 L912.31,466.38 L901.91,469.69 L891.5,473 L881.1,476.32 L870.7,479.65Z" fill="#999999" fill-opacity="0.4"/>
<line x1="870.7" y1="467.1" x2="1494.8" y2="296.5" stroke="#3366FF" stroke-width="4.1"/>
<text transform="translate(1368.1,138.6) scale(1,0.97)" font-size="22.4" text-anchor="middle" fill="#000" stroke="#000" stroke-width="0.25">ρ = 0.23 , p &lt; .001</text>
</g>
<rect x="840.1" y="24.2" width="685.8" height="619.3" fill="none" stroke="#222222" stroke-width="1.45"/>
<line x1="834.1" x2="840.1" y1="615.42" y2="615.42" stroke="#1a1a1a" stroke-width="1.9"/>
<text transform="translate(829.5,622.02)" font-size="16.8" text-anchor="end" fill="#2e2e2e">1</text>
<line x1="834.1" x2="840.1" y1="474.59" y2="474.59" stroke="#1a1a1a" stroke-width="1.9"/>
<text transform="translate(829.5,481.19)" font-size="16.8" text-anchor="end" fill="#2e2e2e">2</text>
<line x1="834.1" x2="840.1" y1="333.76" y2="333.76" stroke="#1a1a1a" stroke-width="1.9"/>
<text transform="translate(829.5,340.36)" font-size="16.8" text-anchor="end" fill="#2e2e2e">3</text>
<line x1="834.1" x2="840.1" y1="192.93" y2="192.93" stroke="#1a1a1a" stroke-width="1.9"/>
<text transform="translate(829.5,199.53)" font-size="16.8" text-anchor="end" fill="#2e2e2e">4</text>
<line x1="834.1" x2="840.1" y1="52.1" y2="52.1" stroke="#1a1a1a" stroke-width="1.9"/>
<text transform="translate(829.5,58.7)" font-size="16.8" text-anchor="end" fill="#2e2e2e">5</text>
<line x1="876.8" x2="876.8" y1="643.5" y2="649.5" stroke="#1a1a1a" stroke-width="1.9"/>
<text transform="translate(876.8,666.1)" font-size="16.8" text-anchor="middle" fill="#2e2e2e">600</text>
<line x1="1036.12" x2="1036.12" y1="643.5" y2="649.5" stroke="#1a1a1a" stroke-width="1.9"/>
<text transform="translate(1036.12,666.1)" font-size="16.8" text-anchor="middle" fill="#2e2e2e">900</text>
<line x1="1195.44" x2="1195.44" y1="643.5" y2="649.5" stroke="#1a1a1a" stroke-width="1.9"/>
<text transform="translate(1195.44,666.1)" font-size="16.8" text-anchor="middle" fill="#2e2e2e">1200</text>
<line x1="1354.75" x2="1354.75" y1="643.5" y2="649.5" stroke="#1a1a1a" stroke-width="1.9"/>
<text transform="translate(1354.75,666.1)" font-size="16.8" text-anchor="middle" fill="#2e2e2e">1500</text>
<line x1="1514.07" x2="1514.07" y1="643.5" y2="649.5" stroke="#1a1a1a" stroke-width="1.9"/>
<text transform="translate(1514.07,666.1)" font-size="16.8" text-anchor="middle" fill="#2e2e2e">1800</text>
<text transform="translate(1183,691.1) scale(1,1.03)" font-size="21.85" text-anchor="middle" fill="#000" stroke="#000" stroke-width="0.25">Carbon Budget Set (kg)</text>
<text transform="translate(810.3,333.85) rotate(-90) scale(1,1.03)" font-size="21.85" text-anchor="middle" fill="#000" stroke="#000" stroke-width="0.25">Perception of Own Footprint (1 = Negative, 5 = Positive)</text>
<text transform="translate(779.6,20.9)" font-size="25.5" fill="#000" stroke="#000" stroke-width="0.25">b</text>
<clipPath id="clipc"><rect x="71.6" y="742.9" width="685.7" height="618.4"/></clipPath>
<g clip-path="url(#clipc)">
<line x1="71.6" x2="757.3" y1="1263.05" y2="1263.05" stroke="#E8E8E8" stroke-width="1.3"/>
<line x1="71.6" x2="757.3" y1="1122.15" y2="1122.15" stroke="#E8E8E8" stroke-width="1.3"/>
<line x1="71.6" x2="757.3" y1="981.25" y2="981.25" stroke="#E8E8E8" stroke-width="1.3"/>
<line x1="71.6" x2="757.3" y1="840.35" y2="840.35" stroke="#E8E8E8" stroke-width="1.3"/>
<line x1="188.16" x2="188.16" y1="742.9" y2="1361.3" stroke="#E8E8E8" stroke-width="1.3"/>
<line x1="347.48" x2="347.48" y1="742.9" y2="1361.3" stroke="#E8E8E8" stroke-width="1.3"/>
<line x1="506.79" x2="506.79" y1="742.9" y2="1361.3" stroke="#E8E8E8" stroke-width="1.3"/>
<line x1="666.11" x2="666.11" y1="742.9" y2="1361.3" stroke="#E8E8E8" stroke-width="1.3"/>
<line x1="71.6" x2="757.3" y1="1333.5" y2="1333.5" stroke="#E8E8E8" stroke-width="1.8"/>
<line x1="71.6" x2="757.3" y1="1192.6" y2="1192.6" stroke="#E8E8E8" stroke-width="1.8"/>
<line x1="71.6" x2="757.3" y1="1051.7" y2="1051.7" stroke="#E8E8E8" stroke-width="1.8"/>
<line x1="71.6" x2="757.3" y1="910.8" y2="910.8" stroke="#E8E8E8" stroke-width="1.8"/>
<line x1="71.6" x2="757.3" y1="769.9" y2="769.9" stroke="#E8E8E8" stroke-width="1.8"/>
<line x1="108.5" x2="108.5" y1="742.9" y2="1361.3" stroke="#E8E8E8" stroke-width="1.8"/>
<line x1="267.82" x2="267.82" y1="742.9" y2="1361.3" stroke="#E8E8E8" stroke-width="1.8"/>
<line x1="427.14" x2="427.14" y1="742.9" y2="1361.3" stroke="#E8E8E8" stroke-width="1.8"/>
<line x1="586.45" x2="586.45" y1="742.9" y2="1361.3" stroke="#E8E8E8" stroke-width="1.8"/>
<line x1="745.77" x2="745.77" y1="742.9" y2="1361.3" stroke="#E8E8E8" stroke-width="1.8"/>
<g>
<circle cx="102.5" cy="769.9" r="3.75" fill="#000" fill-opacity="0.624" stroke="#000" stroke-opacity="0.664" stroke-width="1.5"/>
<circle cx="113.2" cy="769.9" r="3.75" fill="#000" fill-opacity="0.068" stroke="#000" stroke-opacity="0.075" stroke-width="1.5"/>
<circle cx="140.5" cy="769.9" r="3.75" fill="#000" fill-opacity="0.068" stroke="#000" stroke-opacity="0.075" stroke-width="1.5"/>
<circle cx="157.7" cy="769.9" r="3.75" fill="#000" fill-opacity="0.068" stroke="#000" stroke-opacity="0.075" stroke-width="1.5"/>
<circle cx="162.7" cy="769.9" r="3.75" fill="#000" fill-opacity="0.189" stroke="#000" stroke-opacity="0.209" stroke-width="1.5"/>
<circle cx="176" cy="769.9" r="3.75" fill="#000" fill-opacity="0.068" stroke="#000" stroke-opacity="0.075" stroke-width="1.5"/>
<circle cx="182.5" cy="769.9" r="3.75" fill="#000" fill-opacity="0.130" stroke="#000" stroke-opacity="0.144" stroke-width="1.5"/>
<circle cx="188.5" cy="769.9" r="3.75" fill="#000" fill-opacity="0.244" stroke="#000" stroke-opacity="0.268" stroke-width="1.5"/>
<circle cx="195.4" cy="769.9" r="3.75" fill="#000" fill-opacity="0.130" stroke="#000" stroke-opacity="0.144" stroke-width="1.5"/>
<circle cx="205.1" cy="769.9" r="3.75" fill="#000" fill-opacity="0.189" stroke="#000" stroke-opacity="0.209" stroke-width="1.5"/>
<circle cx="214.3" cy="769.9" r="3.75" fill="#000" fill-opacity="0.467" stroke="#000" stroke-opacity="0.504" stroke-width="1.5"/>
<circle cx="225.5" cy="769.9" r="3.75" fill="#000" fill-opacity="0.189" stroke="#000" stroke-opacity="0.209" stroke-width="1.5"/>
<circle cx="230.9" cy="769.9" r="3.75" fill="#000" fill-opacity="0.189" stroke="#000" stroke-opacity="0.209" stroke-width="1.5"/>
<circle cx="241.2" cy="769.9" r="3.75" fill="#000" fill-opacity="0.365" stroke="#000" stroke-opacity="0.398" stroke-width="1.5"/>
<circle cx="250.2" cy="769.9" r="3.75" fill="#000" fill-opacity="0.130" stroke="#000" stroke-opacity="0.144" stroke-width="1.5"/>
<circle cx="256.7" cy="769.9" r="3.75" fill="#000" fill-opacity="0.068" stroke="#000" stroke-opacity="0.075" stroke-width="1.5"/>
<circle cx="267.4" cy="769.9" r="3.75" fill="#000" fill-opacity="0.365" stroke="#000" stroke-opacity="0.398" stroke-width="1.5"/>
<circle cx="279.2" cy="769.9" r="3.75" fill="#000" fill-opacity="0.068" stroke="#000" stroke-opacity="0.075" stroke-width="1.5"/>
<circle cx="288.9" cy="769.9" r="3.75" fill="#000" fill-opacity="0.244" stroke="#000" stroke-opacity="0.268" stroke-width="1.5"/>
<circle cx="295.4" cy="769.9" r="3.75" fill="#000" fill-opacity="0.130" stroke="#000" stroke-opacity="0.144" stroke-width="1.5"/>
<circle cx="306.1" cy="769.9" r="3.75" fill="#000" fill-opacity="0.189" stroke="#000" stroke-opacity="0.209" stroke-width="1.5"/>
<circle cx="313.7" cy="769.9" r="3.75" fill="#000" fill-opacity="0.189" stroke="#000" stroke-opacity="0.209" stroke-width="1.5"/>
<circle cx="320" cy="769.9" r="3.75" fill="#000" fill-opacity="0.485" stroke="#000" stroke-opacity="0.523" stroke-width="1.5"/>
<circle cx="322.4" cy="769.9" r="3.75" fill="#000" fill-opacity="0.485" stroke="#000" stroke-opacity="0.523" stroke-width="1.5"/>
<circle cx="330.9" cy="769.9" r="3.75" fill="#000" fill-opacity="0.130" stroke="#000" stroke-opacity="0.144" stroke-width="1.5"/>
<circle cx="340.5" cy="769.9" r="3.75" fill="#000" fill-opacity="0.068" stroke="#000" stroke-opacity="0.075" stroke-width="1.5"/>
<circle cx="345.9" cy="769.9" r="3.75" fill="#000" fill-opacity="0.130" stroke="#000" stroke-opacity="0.144" stroke-width="1.5"/>
<circle cx="350.7" cy="769.9" r="3.75" fill="#000" fill-opacity="0.438" stroke="#000" stroke-opacity="0.474" stroke-width="1.5"/>
<circle cx="353.1" cy="769.9" r="3.75" fill="#000" fill-opacity="0.438" stroke="#000" stroke-opacity="0.474" stroke-width="1.5"/>
<circle cx="361" cy="769.9" r="3.75" fill="#000" fill-opacity="0.068" stroke="#000" stroke-opacity="0.075" stroke-width="1.5"/>
<circle cx="369.6" cy="769.9" r="3.75" fill="#000" fill-opacity="0.068" stroke="#000" stroke-opacity="0.075" stroke-width="1.5"/>
<circle cx="376" cy="769.9" r="3.75" fill="#000" fill-opacity="0.130" stroke="#000" stroke-opacity="0.144" stroke-width="1.5"/>
<circle cx="391.1" cy="769.9" r="3.75" fill="#000" fill-opacity="0.068" stroke="#000" stroke-opacity="0.075" stroke-width="1.5"/>
<circle cx="405.1" cy="769.9" r="3.75" fill="#000" fill-opacity="0.189" stroke="#000" stroke-opacity="0.209" stroke-width="1.5"/>
<circle cx="430.4" cy="769.9" r="3.75" fill="#000" fill-opacity="0.189" stroke="#000" stroke-opacity="0.209" stroke-width="1.5"/>
<circle cx="435.8" cy="769.9" r="3.75" fill="#000" fill-opacity="0.130" stroke="#000" stroke-opacity="0.144" stroke-width="1.5"/>
<circle cx="451.9" cy="769.9" r="3.75" fill="#000" fill-opacity="0.068" stroke="#000" stroke-opacity="0.075" stroke-width="1.5"/>
<circle cx="461.6" cy="769.9" r="3.75" fill="#000" fill-opacity="0.130" stroke="#000" stroke-opacity="0.144" stroke-width="1.5"/>
<circle cx="471.3" cy="769.9" r="3.75" fill="#000" fill-opacity="0.068" stroke="#000" stroke-opacity="0.075" stroke-width="1.5"/>
<circle cx="482" cy="769.9" r="3.75" fill="#000" fill-opacity="0.068" stroke="#000" stroke-opacity="0.075" stroke-width="1.5"/>
<circle cx="486.3" cy="769.9" r="3.75" fill="#000" fill-opacity="0.189" stroke="#000" stroke-opacity="0.209" stroke-width="1.5"/>
<circle cx="490.6" cy="769.9" r="3.75" fill="#000" fill-opacity="0.130" stroke="#000" stroke-opacity="0.144" stroke-width="1.5"/>
<circle cx="496" cy="769.9" r="3.75" fill="#000" fill-opacity="0.068" stroke="#000" stroke-opacity="0.075" stroke-width="1.5"/>
<circle cx="523.5" cy="769.9" r="3.75" fill="#000" fill-opacity="0.068" stroke="#000" stroke-opacity="0.075" stroke-width="1.5"/>
<circle cx="536.9" cy="769.9" r="3.75" fill="#000" fill-opacity="0.189" stroke="#000" stroke-opacity="0.209" stroke-width="1.5"/>
<circle cx="553.7" cy="769.9" r="3.75" fill="#000" fill-opacity="0.068" stroke="#000" stroke-opacity="0.075" stroke-width="1.5"/>
<circle cx="568.7" cy="769.9" r="3.75" fill="#000" fill-opacity="0.068" stroke="#000" stroke-opacity="0.075" stroke-width="1.5"/>
<circle cx="575.2" cy="769.9" r="3.75" fill="#000" fill-opacity="0.130" stroke="#000" stroke-opacity="0.144" stroke-width="1.5"/>
<circle cx="605.7" cy="769.9" r="3.75" fill="#000" fill-opacity="0.068" stroke="#000" stroke-opacity="0.075" stroke-width="1.5"/>
<circle cx="617.5" cy="769.9" r="3.75" fill="#000" fill-opacity="0.068" stroke="#000" stroke-opacity="0.075" stroke-width="1.5"/>
<circle cx="624" cy="769.9" r="3.75" fill="#000" fill-opacity="0.130" stroke="#000" stroke-opacity="0.144" stroke-width="1.5"/>
<circle cx="648.3" cy="769.9" r="3.75" fill="#000" fill-opacity="0.068" stroke="#000" stroke-opacity="0.075" stroke-width="1.5"/>
<circle cx="672.4" cy="769.9" r="3.75" fill="#000" fill-opacity="0.068" stroke="#000" stroke-opacity="0.075" stroke-width="1.5"/>
<circle cx="726.6" cy="769.9" r="3.75" fill="#000" fill-opacity="0.068" stroke="#000" stroke-opacity="0.075" stroke-width="1.5"/>
<circle cx="185.5" cy="769.9" r="3.75" fill="#000" fill-opacity="0.093" stroke="#000" stroke-opacity="0.103" stroke-width="1.5"/>
<circle cx="191.95" cy="769.9" r="3.75" fill="#000" fill-opacity="0.093" stroke="#000" stroke-opacity="0.103" stroke-width="1.5"/>
<circle cx="200.25" cy="769.9" r="3.75" fill="#000" fill-opacity="0.093" stroke="#000" stroke-opacity="0.103" stroke-width="1.5"/>
<circle cx="209.7" cy="769.9" r="3.75" fill="#000" fill-opacity="0.136" stroke="#000" stroke-opacity="0.151" stroke-width="1.5"/>
<circle cx="219.9" cy="769.9" r="3.75" fill="#000" fill-opacity="0.136" stroke="#000" stroke-opacity="0.151" stroke-width="1.5"/>
<circle cx="228.2" cy="769.9" r="3.75" fill="#000" fill-opacity="0.136" stroke="#000" stroke-opacity="0.151" stroke-width="1.5"/>
<circle cx="236.05" cy="769.9" r="3.75" fill="#000" fill-opacity="0.136" stroke="#000" stroke-opacity="0.151" stroke-width="1.5"/>
<circle cx="245.7" cy="769.9" r="3.75" fill="#000" fill-opacity="0.093" stroke="#000" stroke-opacity="0.103" stroke-width="1.5"/>
<circle cx="292.15" cy="769.9" r="3.75" fill="#000" fill-opacity="0.093" stroke="#000" stroke-opacity="0.103" stroke-width="1.5"/>
<circle cx="300.75" cy="769.9" r="3.75" fill="#000" fill-opacity="0.093" stroke="#000" stroke-opacity="0.103" stroke-width="1.5"/>
<circle cx="309.9" cy="769.9" r="3.75" fill="#000" fill-opacity="0.136" stroke="#000" stroke-opacity="0.151" stroke-width="1.5"/>
<circle cx="317.45" cy="769.9" r="3.75" fill="#000" fill-opacity="0.136" stroke="#000" stroke-opacity="0.151" stroke-width="1.5"/>
<circle cx="326.05" cy="769.9" r="3.75" fill="#000" fill-opacity="0.093" stroke="#000" stroke-opacity="0.103" stroke-width="1.5"/>
<circle cx="348.9" cy="769.9" r="3.75" fill="#000" fill-opacity="0.093" stroke="#000" stroke-opacity="0.103" stroke-width="1.5"/>
<circle cx="433.1" cy="769.9" r="3.75" fill="#000" fill-opacity="0.093" stroke="#000" stroke-opacity="0.103" stroke-width="1.5"/>
<circle cx="102.5" cy="910.8" r="3.75" fill="#000" fill-opacity="0.365" stroke="#000" stroke-opacity="0.398" stroke-width="1.5"/>
<circle cx="111.5" cy="910.8" r="3.75" fill="#000" fill-opacity="0.068" stroke="#000" stroke-opacity="0.075" stroke-width="1.5"/>
<circle cx="121.2" cy="910.8" r="3.75" fill="#000" fill-opacity="0.130" stroke="#000" stroke-opacity="0.144" stroke-width="1.5"/>
<circle cx="126.1" cy="910.8" r="3.75" fill="#000" fill-opacity="0.068" stroke="#000" stroke-opacity="0.075" stroke-width="1.5"/>
<circle cx="142.7" cy="910.8" r="3.75" fill="#000" fill-opacity="0.068" stroke="#000" stroke-opacity="0.075" stroke-width="1.5"/>
<circle cx="151.3" cy="910.8" r="3.75" fill="#000" fill-opacity="0.189" stroke="#000" stroke-opacity="0.209" stroke-width="1.5"/>
<circle cx="158.8" cy="910.8" r="3.75" fill="#000" fill-opacity="0.068" stroke="#000" stroke-opacity="0.075" stroke-width="1.5"/>
<circle cx="166.3" cy="910.8" r="3.75" fill="#000" fill-opacity="0.068" stroke="#000" stroke-opacity="0.075" stroke-width="1.5"/>
<circle cx="178.2" cy="910.8" r="3.75" fill="#000" fill-opacity="0.130" stroke="#000" stroke-opacity="0.144" stroke-width="1.5"/>
<circle cx="187.8" cy="910.8" r="3.75" fill="#000" fill-opacity="0.130" stroke="#000" stroke-opacity="0.144" stroke-width="1.5"/>
<circle cx="194.3" cy="910.8" r="3.75" fill="#000" fill-opacity="0.189" stroke="#000" stroke-opacity="0.209" stroke-width="1.5"/>
<circle cx="207.2" cy="910.8" r="3.75" fill="#000" fill-opacity="0.244" stroke="#000" stroke-opacity="0.268" stroke-width="1.5"/>
<circle cx="214.7" cy="910.8" r="3.75" fill="#000" fill-opacity="0.552" stroke="#000" stroke-opacity="0.592" stroke-width="1.5"/>
<circle cx="220.1" cy="910.8" r="3.75" fill="#000" fill-opacity="0.467" stroke="#000" stroke-opacity="0.504" stroke-width="1.5"/>
<circle cx="227.6" cy="910.8" r="3.75" fill="#000" fill-opacity="0.467" stroke="#000" stroke-opacity="0.504" stroke-width="1.5"/>
<circle cx="240.5" cy="910.8" r="3.75" fill="#000" fill-opacity="0.365" stroke="#000" stroke-opacity="0.398" stroke-width="1.5"/>
<circle cx="250.2" cy="910.8" r="3.75" fill="#000" fill-opacity="0.244" stroke="#000" stroke-opacity="0.268" stroke-width="1.5"/>
<circle cx="256.7" cy="910.8" r="3.75" fill="#000" fill-opacity="0.244" stroke="#000" stroke-opacity="0.268" stroke-width="1.5"/>
<circle cx="266.9" cy="910.8" r="3.75" fill="#000" fill-opacity="0.485" stroke="#000" stroke-opacity="0.523" stroke-width="1.5"/>
<circle cx="269.3" cy="910.8" r="3.75" fill="#000" fill-opacity="0.485" stroke="#000" stroke-opacity="0.523" stroke-width="1.5"/>
<circle cx="277.1" cy="910.8" r="3.75" fill="#000" fill-opacity="0.244" stroke="#000" stroke-opacity="0.268" stroke-width="1.5"/>
<circle cx="283.5" cy="910.8" r="3.75" fill="#000" fill-opacity="0.244" stroke="#000" stroke-opacity="0.268" stroke-width="1.5"/>
<circle cx="288.8" cy="910.8" r="3.75" fill="#000" fill-opacity="0.637" stroke="#000" stroke-opacity="0.677" stroke-width="1.5"/>
<circle cx="291.2" cy="910.8" r="3.75" fill="#000" fill-opacity="0.637" stroke="#000" stroke-opacity="0.677" stroke-width="1.5"/>
<circle cx="297.5" cy="910.8" r="3.75" fill="#000" fill-opacity="0.365" stroke="#000" stroke-opacity="0.398" stroke-width="1.5"/>
<circle cx="304" cy="910.8" r="3.75" fill="#000" fill-opacity="0.365" stroke="#000" stroke-opacity="0.398" stroke-width="1.5"/>
<circle cx="312.6" cy="910.8" r="3.75" fill="#000" fill-opacity="0.244" stroke="#000" stroke-opacity="0.268" stroke-width="1.5"/>
<circle cx="320" cy="910.8" r="3.75" fill="#000" fill-opacity="0.695" stroke="#000" stroke-opacity="0.734" stroke-width="1.5"/>
<circle cx="322.4" cy="910.8" r="3.75" fill="#000" fill-opacity="0.695" stroke="#000" stroke-opacity="0.734" stroke-width="1.5"/>
<circle cx="331.9" cy="910.8" r="3.75" fill="#000" fill-opacity="0.365" stroke="#000" stroke-opacity="0.398" stroke-width="1.5"/>
<circle cx="343.8" cy="910.8" r="3.75" fill="#000" fill-opacity="0.552" stroke="#000" stroke-opacity="0.592" stroke-width="1.5"/>
<circle cx="350.7" cy="910.8" r="3.75" fill="#000" fill-opacity="0.695" stroke="#000" stroke-opacity="0.734" stroke-width="1.5"/>
<circle cx="353.1" cy="910.8" r="3.75" fill="#000" fill-opacity="0.695" stroke="#000" stroke-opacity="0.734" stroke-width="1.5"/>
<circle cx="358.8" cy="910.8" r="3.75" fill="#000" fill-opacity="0.467" stroke="#000" stroke-opacity="0.504" stroke-width="1.5"/>
<circle cx="365.3" cy="910.8" r="3.75" fill="#000" fill-opacity="0.244" stroke="#000" stroke-opacity="0.268" stroke-width="1.5"/>
<circle cx="373.9" cy="910.8" r="3.75" fill="#000" fill-opacity="0.365" stroke="#000" stroke-opacity="0.398" stroke-width="1.5"/>
<circle cx="382.5" cy="910.8" r="3.75" fill="#000" fill-opacity="0.189" stroke="#000" stroke-opacity="0.209" stroke-width="1.5"/>
<circle cx="393.2" cy="910.8" r="3.75" fill="#000" fill-opacity="0.130" stroke="#000" stroke-opacity="0.144" stroke-width="1.5"/>
<circle cx="399.7" cy="910.8" r="3.75" fill="#000" fill-opacity="0.130" stroke="#000" stroke-opacity="0.144" stroke-width="1.5"/>
<circle cx="407.2" cy="910.8" r="3.75" fill="#000" fill-opacity="0.189" stroke="#000" stroke-opacity="0.209" stroke-width="1.5"/>
<circle cx="414.5" cy="910.8" r="3.75" fill="#000" fill-opacity="0.365" stroke="#000" stroke-opacity="0.398" stroke-width="1.5"/>
<circle cx="422.9" cy="910.8" r="3.75" fill="#000" fill-opacity="0.068" stroke="#000" stroke-opacity="0.075" stroke-width="1.5"/>
<circle cx="434.7" cy="910.8" r="3.75" fill="#000" fill-opacity="0.130" stroke="#000" stroke-opacity="0.144" stroke-width="1.5"/>
<circle cx="442.3" cy="910.8" r="3.75" fill="#000" fill-opacity="0.130" stroke="#000" stroke-opacity="0.144" stroke-width="1.5"/>
<circle cx="450.9" cy="910.8" r="3.75" fill="#000" fill-opacity="0.130" stroke="#000" stroke-opacity="0.144" stroke-width="1.5"/>
<circle cx="456.2" cy="910.8" r="3.75" fill="#000" fill-opacity="0.068" stroke="#000" stroke-opacity="0.075" stroke-width="1.5"/>
<circle cx="464.8" cy="910.8" r="3.75" fill="#000" fill-opacity="0.244" stroke="#000" stroke-opacity="0.268" stroke-width="1.5"/>
<circle cx="472.4" cy="910.8" r="3.75" fill="#000" fill-opacity="0.244" stroke="#000" stroke-opacity="0.268" stroke-width="1.5"/>
<circle cx="477.7" cy="910.8" r="3.75" fill="#000" fill-opacity="0.189" stroke="#000" stroke-opacity="0.209" stroke-width="1.5"/>
<circle cx="484.2" cy="910.8" r="3.75" fill="#000" fill-opacity="0.189" stroke="#000" stroke-opacity="0.209" stroke-width="1.5"/>
<circle cx="490" cy="910.8" r="3.75" fill="#000" fill-opacity="0.244" stroke="#000" stroke-opacity="0.268" stroke-width="1.5"/>
<circle cx="500.3" cy="910.8" r="3.75" fill="#000" fill-opacity="0.130" stroke="#000" stroke-opacity="0.144" stroke-width="1.5"/>
<circle cx="507.8" cy="910.8" r="3.75" fill="#000" fill-opacity="0.189" stroke="#000" stroke-opacity="0.209" stroke-width="1.5"/>
<circle cx="518.6" cy="910.8" r="3.75" fill="#000" fill-opacity="0.189" stroke="#000" stroke-opacity="0.209" stroke-width="1.5"/>
<circle cx="527.2" cy="910.8" r="3.75" fill="#000" fill-opacity="0.130" stroke="#000" stroke-opacity="0.144" stroke-width="1.5"/>
<circle cx="532.6" cy="910.8" r="3.75" fill="#000" fill-opacity="0.189" stroke="#000" stroke-opacity="0.209" stroke-width="1.5"/>
<circle cx="544.4" cy="910.8" r="3.75" fill="#000" fill-opacity="0.130" stroke="#000" stroke-opacity="0.144" stroke-width="1.5"/>
<circle cx="554.1" cy="910.8" r="3.75" fill="#000" fill-opacity="0.189" stroke="#000" stroke-opacity="0.209" stroke-width="1.5"/>
<circle cx="560.5" cy="910.8" r="3.75" fill="#000" fill-opacity="0.130" stroke="#000" stroke-opacity="0.144" stroke-width="1.5"/>
<circle cx="567" cy="910.8" r="3.75" fill="#000" fill-opacity="0.189" stroke="#000" stroke-opacity="0.209" stroke-width="1.5"/>
<circle cx="570.2" cy="910.8" r="3.75" fill="#000" fill-opacity="0.130" stroke="#000" stroke-opacity="0.144" stroke-width="1.5"/>
<circle cx="581" cy="910.8" r="3.75" fill="#000" fill-opacity="0.189" stroke="#000" stroke-opacity="0.209" stroke-width="1.5"/>
<circle cx="586.8" cy="910.8" r="3.75" fill="#000" fill-opacity="0.130" stroke="#000" stroke-opacity="0.144" stroke-width="1.5"/>
<circle cx="594.9" cy="910.8" r="3.75" fill="#000" fill-opacity="0.068" stroke="#000" stroke-opacity="0.075" stroke-width="1.5"/>
<circle cx="603.5" cy="910.8" r="3.75" fill="#000" fill-opacity="0.130" stroke="#000" stroke-opacity="0.144" stroke-width="1.5"/>
<circle cx="615.4" cy="910.8" r="3.75" fill="#000" fill-opacity="0.068" stroke="#000" stroke-opacity="0.075" stroke-width="1.5"/>
<circle cx="625" cy="910.8" r="3.75" fill="#000" fill-opacity="0.130" stroke="#000" stroke-opacity="0.144" stroke-width="1.5"/>
<circle cx="691.7" cy="910.8" r="3.75" fill="#000" fill-opacity="0.068" stroke="#000" stroke-opacity="0.075" stroke-width="1.5"/>
<circle cx="697.1" cy="910.8" r="3.75" fill="#000" fill-opacity="0.130" stroke="#000" stroke-opacity="0.144" stroke-width="1.5"/>
<circle cx="707.8" cy="910.8" r="3.75" fill="#000" fill-opacity="0.130" stroke="#000" stroke-opacity="0.144" stroke-width="1.5"/>
<circle cx="720.8" cy="910.8" r="3.75" fill="#000" fill-opacity="0.189" stroke="#000" stroke-opacity="0.209" stroke-width="1.5"/>
<circle cx="727.2" cy="910.8" r="3.75" fill="#000" fill-opacity="0.130" stroke="#000" stroke-opacity="0.144" stroke-width="1.5"/>
<circle cx="183" cy="910.8" r="3.75" fill="#000" fill-opacity="0.093" stroke="#000" stroke-opacity="0.103" stroke-width="1.5"/>
<circle cx="191.05" cy="910.8" r="3.75" fill="#000" fill-opacity="0.093" stroke="#000" stroke-opacity="0.103" stroke-width="1.5"/>
<circle cx="200.75" cy="910.8" r="3.75" fill="#000" fill-opacity="0.136" stroke="#000" stroke-opacity="0.151" stroke-width="1.5"/>
<circle cx="210.95" cy="910.8" r="3.75" fill="#000" fill-opacity="0.178" stroke="#000" stroke-opacity="0.196" stroke-width="1.5"/>
<circle cx="217.4" cy="910.8" r="3.75" fill="#000" fill-opacity="0.270" stroke="#000" stroke-opacity="0.296" stroke-width="1.5"/>
<circle cx="223.85" cy="910.8" r="3.75" fill="#000" fill-opacity="0.270" stroke="#000" stroke-opacity="0.296" stroke-width="1.5"/>
<circle cx="234.05" cy="910.8" r="3.75" fill="#000" fill-opacity="0.217" stroke="#000" stroke-opacity="0.239" stroke-width="1.5"/>
<circle cx="245.35" cy="910.8" r="3.75" fill="#000" fill-opacity="0.178" stroke="#000" stroke-opacity="0.196" stroke-width="1.5"/>
<circle cx="253.45" cy="910.8" r="3.75" fill="#000" fill-opacity="0.178" stroke="#000" stroke-opacity="0.196" stroke-width="1.5"/>
<circle cx="262.4" cy="910.8" r="3.75" fill="#000" fill-opacity="0.178" stroke="#000" stroke-opacity="0.196" stroke-width="1.5"/>
<circle cx="272.6" cy="910.8" r="3.75" fill="#000" fill-opacity="0.178" stroke="#000" stroke-opacity="0.196" stroke-width="1.5"/>
<circle cx="280.3" cy="910.8" r="3.75" fill="#000" fill-opacity="0.178" stroke="#000" stroke-opacity="0.196" stroke-width="1.5"/>
<circle cx="286.75" cy="910.8" r="3.75" fill="#000" fill-opacity="0.178" stroke="#000" stroke-opacity="0.196" stroke-width="1.5"/>
<circle cx="293.75" cy="910.8" r="3.75" fill="#000" fill-opacity="0.217" stroke="#000" stroke-opacity="0.239" stroke-width="1.5"/>
<circle cx="300.75" cy="910.8" r="3.75" fill="#000" fill-opacity="0.217" stroke="#000" stroke-opacity="0.239" stroke-width="1.5"/>
<circle cx="308.3" cy="910.8" r="3.75" fill="#000" fill-opacity="0.178" stroke="#000" stroke-opacity="0.196" stroke-width="1.5"/>
<circle cx="316.9" cy="910.8" r="3.75" fill="#000" fill-opacity="0.178" stroke="#000" stroke-opacity="0.196" stroke-width="1.5"/>
<circle cx="326.55" cy="910.8" r="3.75" fill="#000" fill-opacity="0.217" stroke="#000" stroke-opacity="0.239" stroke-width="1.5"/>
<circle cx="337.85" cy="910.8" r="3.75" fill="#000" fill-opacity="0.217" stroke="#000" stroke-opacity="0.239" stroke-width="1.5"/>
<circle cx="347.85" cy="910.8" r="3.75" fill="#000" fill-opacity="0.354" stroke="#000" stroke-opacity="0.386" stroke-width="1.5"/>
<circle cx="355.35" cy="910.8" r="3.75" fill="#000" fill-opacity="0.270" stroke="#000" stroke-opacity="0.296" stroke-width="1.5"/>
<circle cx="362.05" cy="910.8" r="3.75" fill="#000" fill-opacity="0.178" stroke="#000" stroke-opacity="0.196" stroke-width="1.5"/>
<circle cx="369.6" cy="910.8" r="3.75" fill="#000" fill-opacity="0.178" stroke="#000" stroke-opacity="0.196" stroke-width="1.5"/>
<circle cx="378.2" cy="910.8" r="3.75" fill="#000" fill-opacity="0.136" stroke="#000" stroke-opacity="0.151" stroke-width="1.5"/>
<circle cx="387.85" cy="910.8" r="3.75" fill="#000" fill-opacity="0.093" stroke="#000" stroke-opacity="0.103" stroke-width="1.5"/>
<circle cx="396.45" cy="910.8" r="3.75" fill="#000" fill-opacity="0.093" stroke="#000" stroke-opacity="0.103" stroke-width="1.5"/>
<circle cx="403.45" cy="910.8" r="3.75" fill="#000" fill-opacity="0.093" stroke="#000" stroke-opacity="0.103" stroke-width="1.5"/>
<circle cx="410.85" cy="910.8" r="3.75" fill="#000" fill-opacity="0.136" stroke="#000" stroke-opacity="0.151" stroke-width="1.5"/>
<circle cx="438.5" cy="910.8" r="3.75" fill="#000" fill-opacity="0.093" stroke="#000" stroke-opacity="0.103" stroke-width="1.5"/>
<circle cx="446.6" cy="910.8" r="3.75" fill="#000" fill-opacity="0.093" stroke="#000" stroke-opacity="0.103" stroke-width="1.5"/>
<circle cx="468.6" cy="910.8" r="3.75" fill="#000" fill-opacity="0.178" stroke="#000" stroke-opacity="0.196" stroke-width="1.5"/>
<circle cx="475.05" cy="910.8" r="3.75" fill="#000" fill-opacity="0.136" stroke="#000" stroke-opacity="0.151" stroke-width="1.5"/>
<circle cx="480.95" cy="910.8" r="3.75" fill="#000" fill-opacity="0.136" stroke="#000" stroke-opacity="0.151" stroke-width="1.5"/>
<circle cx="487.1" cy="910.8" r="3.75" fill="#000" fill-opacity="0.136" stroke="#000" stroke-opacity="0.151" stroke-width="1.5"/>
<circle cx="495.15" cy="910.8" r="3.75" fill="#000" fill-opacity="0.093" stroke="#000" stroke-opacity="0.103" stroke-width="1.5"/>
<circle cx="504.05" cy="910.8" r="3.75" fill="#000" fill-opacity="0.093" stroke="#000" stroke-opacity="0.103" stroke-width="1.5"/>
<circle cx="513.2" cy="910.8" r="3.75" fill="#000" fill-opacity="0.136" stroke="#000" stroke-opacity="0.151" stroke-width="1.5"/>
<circle cx="522.9" cy="910.8" r="3.75" fill="#000" fill-opacity="0.093" stroke="#000" stroke-opacity="0.103" stroke-width="1.5"/>
<circle cx="529.9" cy="910.8" r="3.75" fill="#000" fill-opacity="0.093" stroke="#000" stroke-opacity="0.103" stroke-width="1.5"/>
<circle cx="538.5" cy="910.8" r="3.75" fill="#000" fill-opacity="0.093" stroke="#000" stroke-opacity="0.103" stroke-width="1.5"/>
<circle cx="549.25" cy="910.8" r="3.75" fill="#000" fill-opacity="0.093" stroke="#000" stroke-opacity="0.103" stroke-width="1.5"/>
<circle cx="557.3" cy="910.8" r="3.75" fill="#000" fill-opacity="0.093" stroke="#000" stroke-opacity="0.103" stroke-width="1.5"/>
<circle cx="563.75" cy="910.8" r="3.75" fill="#000" fill-opacity="0.093" stroke="#000" stroke-opacity="0.103" stroke-width="1.5"/>
<circle cx="575.6" cy="910.8" r="3.75" fill="#000" fill-opacity="0.093" stroke="#000" stroke-opacity="0.103" stroke-width="1.5"/>
<circle cx="583.9" cy="910.8" r="3.75" fill="#000" fill-opacity="0.093" stroke="#000" stroke-opacity="0.103" stroke-width="1.5"/>
<circle cx="702.45" cy="910.8" r="3.75" fill="#000" fill-opacity="0.093" stroke="#000" stroke-opacity="0.103" stroke-width="1.5"/>
<circle cx="714.3" cy="910.8" r="3.75" fill="#000" fill-opacity="0.093" stroke="#000" stroke-opacity="0.103" stroke-width="1.5"/>
<circle cx="724" cy="910.8" r="3.75" fill="#000" fill-opacity="0.093" stroke="#000" stroke-opacity="0.103" stroke-width="1.5"/>
<circle cx="102.5" cy="1051.7" r="3.75" fill="#000" fill-opacity="0.624" stroke="#000" stroke-opacity="0.664" stroke-width="1.5"/>
<circle cx="113.2" cy="1051.7" r="3.75" fill="#000" fill-opacity="0.130" stroke="#000" stroke-opacity="0.144" stroke-width="1.5"/>
<circle cx="124.4" cy="1051.7" r="3.75" fill="#000" fill-opacity="0.068" stroke="#000" stroke-opacity="0.075" stroke-width="1.5"/>
<circle cx="133" cy="1051.7" r="3.75" fill="#000" fill-opacity="0.130" stroke="#000" stroke-opacity="0.144" stroke-width="1.5"/>
<circle cx="141.6" cy="1051.7" r="3.75" fill="#000" fill-opacity="0.130" stroke="#000" stroke-opacity="0.144" stroke-width="1.5"/>
<circle cx="151.3" cy="1051.7" r="3.75" fill="#000" fill-opacity="0.068" stroke="#000" stroke-opacity="0.075" stroke-width="1.5"/>
<circle cx="156.7" cy="1051.7" r="3.75" fill="#000" fill-opacity="0.068" stroke="#000" stroke-opacity="0.075" stroke-width="1.5"/>
<circle cx="163.1" cy="1051.7" r="3.75" fill="#000" fill-opacity="0.130" stroke="#000" stroke-opacity="0.144" stroke-width="1.5"/>
<circle cx="171.7" cy="1051.7" r="3.75" fill="#000" fill-opacity="0.189" stroke="#000" stroke-opacity="0.209" stroke-width="1.5"/>
<circle cx="179.2" cy="1051.7" r="3.75" fill="#000" fill-opacity="0.068" stroke="#000" stroke-opacity="0.075" stroke-width="1.5"/>
<circle cx="188.9" cy="1051.7" r="3.75" fill="#000" fill-opacity="0.189" stroke="#000" stroke-opacity="0.209" stroke-width="1.5"/>
<circle cx="195.4" cy="1051.7" r="3.75" fill="#000" fill-opacity="0.189" stroke="#000" stroke-opacity="0.209" stroke-width="1.5"/>
<circle cx="201.8" cy="1051.7" r="3.75" fill="#000" fill-opacity="0.189" stroke="#000" stroke-opacity="0.209" stroke-width="1.5"/>
<circle cx="208.3" cy="1051.7" r="3.75" fill="#000" fill-opacity="0.244" stroke="#000" stroke-opacity="0.268" stroke-width="1.5"/>
<circle cx="214.7" cy="1051.7" r="3.75" fill="#000" fill-opacity="0.365" stroke="#000" stroke-opacity="0.398" stroke-width="1.5"/>
<circle cx="222.3" cy="1051.7" r="3.75" fill="#000" fill-opacity="0.467" stroke="#000" stroke-opacity="0.504" stroke-width="1.5"/>
<circle cx="231.9" cy="1051.7" r="3.75" fill="#000" fill-opacity="0.130" stroke="#000" stroke-opacity="0.144" stroke-width="1.5"/>
<circle cx="240.5" cy="1051.7" r="3.75" fill="#000" fill-opacity="0.189" stroke="#000" stroke-opacity="0.209" stroke-width="1.5"/>
<circle cx="249.1" cy="1051.7" r="3.75" fill="#000" fill-opacity="0.189" stroke="#000" stroke-opacity="0.209" stroke-width="1.5"/>
<circle cx="256.7" cy="1051.7" r="3.75" fill="#000" fill-opacity="0.068" stroke="#000" stroke-opacity="0.075" stroke-width="1.5"/>
<circle cx="268.1" cy="1051.7" r="3.75" fill="#000" fill-opacity="0.365" stroke="#000" stroke-opacity="0.398" stroke-width="1.5"/>
<circle cx="279.2" cy="1051.7" r="3.75" fill="#000" fill-opacity="0.068" stroke="#000" stroke-opacity="0.075" stroke-width="1.5"/>
<circle cx="283.5" cy="1051.7" r="3.75" fill="#000" fill-opacity="0.130" stroke="#000" stroke-opacity="0.144" stroke-width="1.5"/>
<circle cx="288.8" cy="1051.7" r="3.75" fill="#000" fill-opacity="0.528" stroke="#000" stroke-opacity="0.567" stroke-width="1.5"/>
<circle cx="291.2" cy="1051.7" r="3.75" fill="#000" fill-opacity="0.528" stroke="#000" stroke-opacity="0.567" stroke-width="1.5"/>
<circle cx="298.6" cy="1051.7" r="3.75" fill="#000" fill-opacity="0.189" stroke="#000" stroke-opacity="0.209" stroke-width="1.5"/>
<circle cx="311.5" cy="1051.7" r="3.75" fill="#000" fill-opacity="0.244" stroke="#000" stroke-opacity="0.268" stroke-width="1.5"/>
<circle cx="320" cy="1051.7" r="3.75" fill="#000" fill-opacity="0.485" stroke="#000" stroke-opacity="0.523" stroke-width="1.5"/>
<circle cx="322.4" cy="1051.7" r="3.75" fill="#000" fill-opacity="0.485" stroke="#000" stroke-opacity="0.523" stroke-width="1.5"/>
<circle cx="328.7" cy="1051.7" r="3.75" fill="#000" fill-opacity="0.189" stroke="#000" stroke-opacity="0.209" stroke-width="1.5"/>
<circle cx="337.3" cy="1051.7" r="3.75" fill="#000" fill-opacity="0.244" stroke="#000" stroke-opacity="0.268" stroke-width="1.5"/>
<circle cx="345.9" cy="1051.7" r="3.75" fill="#000" fill-opacity="0.189" stroke="#000" stroke-opacity="0.209" stroke-width="1.5"/>
<circle cx="350.7" cy="1051.7" r="3.75" fill="#000" fill-opacity="0.667" stroke="#000" stroke-opacity="0.707" stroke-width="1.5"/>
<circle cx="353.1" cy="1051.7" r="3.75" fill="#000" fill-opacity="0.667" stroke="#000" stroke-opacity="0.707" stroke-width="1.5"/>
<circle cx="362" cy="1051.7" r="3.75" fill="#000" fill-opacity="0.365" stroke="#000" stroke-opacity="0.398" stroke-width="1.5"/>
<circle cx="373.9" cy="1051.7" r="3.75" fill="#000" fill-opacity="0.189" stroke="#000" stroke-opacity="0.209" stroke-width="1.5"/>
<circle cx="381.4" cy="1051.7" r="3.75" fill="#000" fill-opacity="0.189" stroke="#000" stroke-opacity="0.209" stroke-width="1.5"/>
<circle cx="391.1" cy="1051.7" r="3.75" fill="#000" fill-opacity="0.130" stroke="#000" stroke-opacity="0.144" stroke-width="1.5"/>
<circle cx="399.7" cy="1051.7" r="3.75" fill="#000" fill-opacity="0.189" stroke="#000" stroke-opacity="0.209" stroke-width="1.5"/>
<circle cx="406.1" cy="1051.7" r="3.75" fill="#000" fill-opacity="0.068" stroke="#000" stroke-opacity="0.075" stroke-width="1.5"/>
<circle cx="414.7" cy="1051.7" r="3.75" fill="#000" fill-opacity="0.244" stroke="#000" stroke-opacity="0.268" stroke-width="1.5"/>
<circle cx="427.2" cy="1051.7" r="3.75" fill="#000" fill-opacity="0.189" stroke="#000" stroke-opacity="0.209" stroke-width="1.5"/>
<circle cx="434.7" cy="1051.7" r="3.75" fill="#000" fill-opacity="0.189" stroke="#000" stroke-opacity="0.209" stroke-width="1.5"/>
<circle cx="443.3" cy="1051.7" r="3.75" fill="#000" fill-opacity="0.130" stroke="#000" stroke-opacity="0.144" stroke-width="1.5"/>
<circle cx="449.8" cy="1051.7" r="3.75" fill="#000" fill-opacity="0.189" stroke="#000" stroke-opacity="0.209" stroke-width="1.5"/>
<circle cx="454.1" cy="1051.7" r="3.75" fill="#000" fill-opacity="0.130" stroke="#000" stroke-opacity="0.144" stroke-width="1.5"/>
<circle cx="460.5" cy="1051.7" r="3.75" fill="#000" fill-opacity="0.244" stroke="#000" stroke-opacity="0.268" stroke-width="1.5"/>
<circle cx="468.1" cy="1051.7" r="3.75" fill="#000" fill-opacity="0.068" stroke="#000" stroke-opacity="0.075" stroke-width="1.5"/>
<circle cx="473.4" cy="1051.7" r="3.75" fill="#000" fill-opacity="0.130" stroke="#000" stroke-opacity="0.144" stroke-width="1.5"/>
<circle cx="479.9" cy="1051.7" r="3.75" fill="#000" fill-opacity="0.244" stroke="#000" stroke-opacity="0.268" stroke-width="1.5"/>
<circle cx="486.3" cy="1051.7" r="3.75" fill="#000" fill-opacity="0.068" stroke="#000" stroke-opacity="0.075" stroke-width="1.5"/>
<circle cx="493.9" cy="1051.7" r="3.75" fill="#000" fill-opacity="0.068" stroke="#000" stroke-opacity="0.075" stroke-width="1.5"/>
<circle cx="499.2" cy="1051.7" r="3.75" fill="#000" fill-opacity="0.189" stroke="#000" stroke-opacity="0.209" stroke-width="1.5"/>
<circle cx="511.1" cy="1051.7" r="3.75" fill="#000" fill-opacity="0.068" stroke="#000" stroke-opacity="0.075" stroke-width="1.5"/>
<circle cx="521.8" cy="1051.7" r="3.75" fill="#000" fill-opacity="0.130" stroke="#000" stroke-opacity="0.144" stroke-width="1.5"/>
<circle cx="527.8" cy="1051.7" r="3.75" fill="#000" fill-opacity="0.189" stroke="#000" stroke-opacity="0.209" stroke-width="1.5"/>
<circle cx="539" cy="1051.7" r="3.75" fill="#000" fill-opacity="0.068" stroke="#000" stroke-opacity="0.075" stroke-width="1.5"/>
<circle cx="544.4" cy="1051.7" r="3.75" fill="#000" fill-opacity="0.068" stroke="#000" stroke-opacity="0.075" stroke-width="1.5"/>
<circle cx="550.9" cy="1051.7" r="3.75" fill="#000" fill-opacity="0.068" stroke="#000" stroke-opacity="0.075" stroke-width="1.5"/>
<circle cx="565.9" cy="1051.7" r="3.75" fill="#000" fill-opacity="0.068" stroke="#000" stroke-opacity="0.075" stroke-width="1.5"/>
<circle cx="575.6" cy="1051.7" r="3.75" fill="#000" fill-opacity="0.068" stroke="#000" stroke-opacity="0.075" stroke-width="1.5"/>
<circle cx="586.3" cy="1051.7" r="3.75" fill="#000" fill-opacity="0.130" stroke="#000" stroke-opacity="0.144" stroke-width="1.5"/>
<circle cx="602.5" cy="1051.7" r="3.75" fill="#000" fill-opacity="0.068" stroke="#000" stroke-opacity="0.075" stroke-width="1.5"/>
<circle cx="613.2" cy="1051.7" r="3.75" fill="#000" fill-opacity="0.068" stroke="#000" stroke-opacity="0.075" stroke-width="1.5"/>
<circle cx="629.4" cy="1051.7" r="3.75" fill="#000" fill-opacity="0.068" stroke="#000" stroke-opacity="0.075" stroke-width="1.5"/>
<circle cx="645.5" cy="1051.7" r="3.75" fill="#000" fill-opacity="0.068" stroke="#000" stroke-opacity="0.075" stroke-width="1.5"/>
<circle cx="693.9" cy="1051.7" r="3.75" fill="#000" fill-opacity="0.068" stroke="#000" stroke-opacity="0.075" stroke-width="1.5"/>
<circle cx="726.1" cy="1051.7" r="3.75" fill="#000" fill-opacity="0.130" stroke="#000" stroke-opacity="0.144" stroke-width="1.5"/>
<circle cx="107.85" cy="1051.7" r="3.75" fill="#000" fill-opacity="0.093" stroke="#000" stroke-opacity="0.103" stroke-width="1.5"/>
<circle cx="137.3" cy="1051.7" r="3.75" fill="#000" fill-opacity="0.093" stroke="#000" stroke-opacity="0.103" stroke-width="1.5"/>
<circle cx="167.4" cy="1051.7" r="3.75" fill="#000" fill-opacity="0.093" stroke="#000" stroke-opacity="0.103" stroke-width="1.5"/>
<circle cx="192.15" cy="1051.7" r="3.75" fill="#000" fill-opacity="0.136" stroke="#000" stroke-opacity="0.151" stroke-width="1.5"/>
<circle cx="198.6" cy="1051.7" r="3.75" fill="#000" fill-opacity="0.136" stroke="#000" stroke-opacity="0.151" stroke-width="1.5"/>
<circle cx="205.05" cy="1051.7" r="3.75" fill="#000" fill-opacity="0.136" stroke="#000" stroke-opacity="0.151" stroke-width="1.5"/>
<circle cx="211.5" cy="1051.7" r="3.75" fill="#000" fill-opacity="0.178" stroke="#000" stroke-opacity="0.196" stroke-width="1.5"/>
<circle cx="218.5" cy="1051.7" r="3.75" fill="#000" fill-opacity="0.217" stroke="#000" stroke-opacity="0.239" stroke-width="1.5"/>
<circle cx="227.1" cy="1051.7" r="3.75" fill="#000" fill-opacity="0.093" stroke="#000" stroke-opacity="0.103" stroke-width="1.5"/>
<circle cx="236.2" cy="1051.7" r="3.75" fill="#000" fill-opacity="0.093" stroke="#000" stroke-opacity="0.103" stroke-width="1.5"/>
<circle cx="244.8" cy="1051.7" r="3.75" fill="#000" fill-opacity="0.136" stroke="#000" stroke-opacity="0.151" stroke-width="1.5"/>
<circle cx="286.75" cy="1051.7" r="3.75" fill="#000" fill-opacity="0.093" stroke="#000" stroke-opacity="0.103" stroke-width="1.5"/>
<circle cx="294.3" cy="1051.7" r="3.75" fill="#000" fill-opacity="0.136" stroke="#000" stroke-opacity="0.151" stroke-width="1.5"/>
<circle cx="305.05" cy="1051.7" r="3.75" fill="#000" fill-opacity="0.136" stroke="#000" stroke-opacity="0.151" stroke-width="1.5"/>
<circle cx="316.35" cy="1051.7" r="3.75" fill="#000" fill-opacity="0.178" stroke="#000" stroke-opacity="0.196" stroke-width="1.5"/>
<circle cx="324.95" cy="1051.7" r="3.75" fill="#000" fill-opacity="0.136" stroke="#000" stroke-opacity="0.151" stroke-width="1.5"/>
<circle cx="333" cy="1051.7" r="3.75" fill="#000" fill-opacity="0.136" stroke="#000" stroke-opacity="0.151" stroke-width="1.5"/>
<circle cx="341.6" cy="1051.7" r="3.75" fill="#000" fill-opacity="0.136" stroke="#000" stroke-opacity="0.151" stroke-width="1.5"/>
<circle cx="348.9" cy="1051.7" r="3.75" fill="#000" fill-opacity="0.136" stroke="#000" stroke-opacity="0.151" stroke-width="1.5"/>
<circle cx="356.95" cy="1051.7" r="3.75" fill="#000" fill-opacity="0.217" stroke="#000" stroke-opacity="0.239" stroke-width="1.5"/>
<circle cx="367.95" cy="1051.7" r="3.75" fill="#000" fill-opacity="0.136" stroke="#000" stroke-opacity="0.151" stroke-width="1.5"/>
<circle cx="377.65" cy="1051.7" r="3.75" fill="#000" fill-opacity="0.136" stroke="#000" stroke-opacity="0.151" stroke-width="1.5"/>
<circle cx="386.25" cy="1051.7" r="3.75" fill="#000" fill-opacity="0.093" stroke="#000" stroke-opacity="0.103" stroke-width="1.5"/>
<circle cx="395.4" cy="1051.7" r="3.75" fill="#000" fill-opacity="0.093" stroke="#000" stroke-opacity="0.103" stroke-width="1.5"/>
<circle cx="420.95" cy="1051.7" r="3.75" fill="#000" fill-opacity="0.136" stroke="#000" stroke-opacity="0.151" stroke-width="1.5"/>
<circle cx="430.95" cy="1051.7" r="3.75" fill="#000" fill-opacity="0.136" stroke="#000" stroke-opacity="0.151" stroke-width="1.5"/>
<circle cx="439" cy="1051.7" r="3.75" fill="#000" fill-opacity="0.093" stroke="#000" stroke-opacity="0.103" stroke-width="1.5"/>
<circle cx="446.55" cy="1051.7" r="3.75" fill="#000" fill-opacity="0.093" stroke="#000" stroke-opacity="0.103" stroke-width="1.5"/>
<circle cx="457.3" cy="1051.7" r="3.75" fill="#000" fill-opacity="0.093" stroke="#000" stroke-opacity="0.103" stroke-width="1.5"/>
<circle cx="476.65" cy="1051.7" r="3.75" fill="#000" fill-opacity="0.093" stroke="#000" stroke-opacity="0.103" stroke-width="1.5"/>
<circle cx="524.8" cy="1051.7" r="3.75" fill="#000" fill-opacity="0.093" stroke="#000" stroke-opacity="0.103" stroke-width="1.5"/>
<circle cx="102.5" cy="1192.6" r="3.75" fill="#000" fill-opacity="0.189" stroke="#000" stroke-opacity="0.209" stroke-width="1.5"/>
<circle cx="166.3" cy="1192.6" r="3.75" fill="#000" fill-opacity="0.068" stroke="#000" stroke-opacity="0.075" stroke-width="1.5"/>
<circle cx="184.2" cy="1192.6" r="3.75" fill="#000" fill-opacity="0.130" stroke="#000" stroke-opacity="0.144" stroke-width="1.5"/>
<circle cx="197.1" cy="1192.6" r="3.75" fill="#000" fill-opacity="0.130" stroke="#000" stroke-opacity="0.144" stroke-width="1.5"/>
<circle cx="208.3" cy="1192.6" r="3.75" fill="#000" fill-opacity="0.068" stroke="#000" stroke-opacity="0.075" stroke-width="1.5"/>
<circle cx="217.5" cy="1192.6" r="3.75" fill="#000" fill-opacity="0.189" stroke="#000" stroke-opacity="0.209" stroke-width="1.5"/>
<circle cx="224.4" cy="1192.6" r="3.75" fill="#000" fill-opacity="0.130" stroke="#000" stroke-opacity="0.144" stroke-width="1.5"/>
<circle cx="230.9" cy="1192.6" r="3.75" fill="#000" fill-opacity="0.068" stroke="#000" stroke-opacity="0.075" stroke-width="1.5"/>
<circle cx="239.5" cy="1192.6" r="3.75" fill="#000" fill-opacity="0.068" stroke="#000" stroke-opacity="0.075" stroke-width="1.5"/>
<circle cx="247" cy="1192.6" r="3.75" fill="#000" fill-opacity="0.068" stroke="#000" stroke-opacity="0.075" stroke-width="1.5"/>
<circle cx="255.6" cy="1192.6" r="3.75" fill="#000" fill-opacity="0.130" stroke="#000" stroke-opacity="0.144" stroke-width="1.5"/>
<circle cx="267.4" cy="1192.6" r="3.75" fill="#000" fill-opacity="0.130" stroke="#000" stroke-opacity="0.144" stroke-width="1.5"/>
<circle cx="279.2" cy="1192.6" r="3.75" fill="#000" fill-opacity="0.068" stroke="#000" stroke-opacity="0.075" stroke-width="1.5"/>
<circle cx="290" cy="1192.6" r="3.75" fill="#000" fill-opacity="0.244" stroke="#000" stroke-opacity="0.268" stroke-width="1.5"/>
<circle cx="296.5" cy="1192.6" r="3.75" fill="#000" fill-opacity="0.130" stroke="#000" stroke-opacity="0.144" stroke-width="1.5"/>
<circle cx="302.9" cy="1192.6" r="3.75" fill="#000" fill-opacity="0.068" stroke="#000" stroke-opacity="0.075" stroke-width="1.5"/>
<circle cx="314.7" cy="1192.6" r="3.75" fill="#000" fill-opacity="0.068" stroke="#000" stroke-opacity="0.075" stroke-width="1.5"/>
<circle cx="321.2" cy="1192.6" r="3.75" fill="#000" fill-opacity="0.365" stroke="#000" stroke-opacity="0.398" stroke-width="1.5"/>
<circle cx="331.9" cy="1192.6" r="3.75" fill="#000" fill-opacity="0.244" stroke="#000" stroke-opacity="0.268" stroke-width="1.5"/>
<circle cx="341.6" cy="1192.6" r="3.75" fill="#000" fill-opacity="0.130" stroke="#000" stroke-opacity="0.144" stroke-width="1.5"/>
<circle cx="350.7" cy="1192.6" r="3.75" fill="#000" fill-opacity="0.485" stroke="#000" stroke-opacity="0.523" stroke-width="1.5"/>
<circle cx="353.1" cy="1192.6" r="3.75" fill="#000" fill-opacity="0.485" stroke="#000" stroke-opacity="0.523" stroke-width="1.5"/>
<circle cx="359.9" cy="1192.6" r="3.75" fill="#000" fill-opacity="0.189" stroke="#000" stroke-opacity="0.209" stroke-width="1.5"/>
<circle cx="367.4" cy="1192.6" r="3.75" fill="#000" fill-opacity="0.189" stroke="#000" stroke-opacity="0.209" stroke-width="1.5"/>
<circle cx="373.9" cy="1192.6" r="3.75" fill="#000" fill-opacity="0.189" stroke="#000" stroke-opacity="0.209" stroke-width="1.5"/>
<circle cx="385.7" cy="1192.6" r="3.75" fill="#000" fill-opacity="0.068" stroke="#000" stroke-opacity="0.075" stroke-width="1.5"/>
<circle cx="393.2" cy="1192.6" r="3.75" fill="#000" fill-opacity="0.068" stroke="#000" stroke-opacity="0.075" stroke-width="1.5"/>
<circle cx="407.2" cy="1192.6" r="3.75" fill="#000" fill-opacity="0.130" stroke="#000" stroke-opacity="0.144" stroke-width="1.5"/>
<circle cx="414.7" cy="1192.6" r="3.75" fill="#000" fill-opacity="0.068" stroke="#000" stroke-opacity="0.075" stroke-width="1.5"/>
<circle cx="426.1" cy="1192.6" r="3.75" fill="#000" fill-opacity="0.244" stroke="#000" stroke-opacity="0.268" stroke-width="1.5"/>
<circle cx="443.3" cy="1192.6" r="3.75" fill="#000" fill-opacity="0.068" stroke="#000" stroke-opacity="0.075" stroke-width="1.5"/>
<circle cx="453" cy="1192.6" r="3.75" fill="#000" fill-opacity="0.130" stroke="#000" stroke-opacity="0.144" stroke-width="1.5"/>
<circle cx="461.6" cy="1192.6" r="3.75" fill="#000" fill-opacity="0.130" stroke="#000" stroke-opacity="0.144" stroke-width="1.5"/>
<circle cx="465.9" cy="1192.6" r="3.75" fill="#000" fill-opacity="0.130" stroke="#000" stroke-opacity="0.144" stroke-width="1.5"/>
<circle cx="472.4" cy="1192.6" r="3.75" fill="#000" fill-opacity="0.068" stroke="#000" stroke-opacity="0.075" stroke-width="1.5"/>
<circle cx="481" cy="1192.6" r="3.75" fill="#000" fill-opacity="0.244" stroke="#000" stroke-opacity="0.268" stroke-width="1.5"/>
<circle cx="487.4" cy="1192.6" r="3.75" fill="#000" fill-opacity="0.130" stroke="#000" stroke-opacity="0.144" stroke-width="1.5"/>
<circle cx="497.1" cy="1192.6" r="3.75" fill="#000" fill-opacity="0.130" stroke="#000" stroke-opacity="0.144" stroke-width="1.5"/>
<circle cx="504.2" cy="1192.6" r="3.75" fill="#000" fill-opacity="0.189" stroke="#000" stroke-opacity="0.209" stroke-width="1.5"/>
<circle cx="513.2" cy="1192.6" r="3.75" fill="#000" fill-opacity="0.068" stroke="#000" stroke-opacity="0.075" stroke-width="1.5"/>
<circle cx="521.8" cy="1192.6" r="3.75" fill="#000" fill-opacity="0.068" stroke="#000" stroke-opacity="0.075" stroke-width="1.5"/>
<circle cx="528.3" cy="1192.6" r="3.75" fill="#000" fill-opacity="0.130" stroke="#000" stroke-opacity="0.144" stroke-width="1.5"/>
<circle cx="551.9" cy="1192.6" r="3.75" fill="#000" fill-opacity="0.068" stroke="#000" stroke-opacity="0.075" stroke-width="1.5"/>
<circle cx="586.3" cy="1192.6" r="3.75" fill="#000" fill-opacity="0.068" stroke="#000" stroke-opacity="0.075" stroke-width="1.5"/>
<circle cx="593.2" cy="1192.6" r="3.75" fill="#000" fill-opacity="0.189" stroke="#000" stroke-opacity="0.209" stroke-width="1.5"/>
<circle cx="604.6" cy="1192.6" r="3.75" fill="#000" fill-opacity="0.068" stroke="#000" stroke-opacity="0.075" stroke-width="1.5"/>
<circle cx="726.6" cy="1192.6" r="3.75" fill="#000" fill-opacity="0.244" stroke="#000" stroke-opacity="0.268" stroke-width="1.5"/>
<circle cx="190.65" cy="1192.6" r="3.75" fill="#000" fill-opacity="0.093" stroke="#000" stroke-opacity="0.103" stroke-width="1.5"/>
<circle cx="220.95" cy="1192.6" r="3.75" fill="#000" fill-opacity="0.093" stroke="#000" stroke-opacity="0.103" stroke-width="1.5"/>
<circle cx="261.5" cy="1192.6" r="3.75" fill="#000" fill-opacity="0.093" stroke="#000" stroke-opacity="0.103" stroke-width="1.5"/>
<circle cx="293.25" cy="1192.6" r="3.75" fill="#000" fill-opacity="0.093" stroke="#000" stroke-opacity="0.103" stroke-width="1.5"/>
<circle cx="326.55" cy="1192.6" r="3.75" fill="#000" fill-opacity="0.178" stroke="#000" stroke-opacity="0.196" stroke-width="1.5"/>
<circle cx="336.75" cy="1192.6" r="3.75" fill="#000" fill-opacity="0.093" stroke="#000" stroke-opacity="0.103" stroke-width="1.5"/>
<circle cx="346.75" cy="1192.6" r="3.75" fill="#000" fill-opacity="0.093" stroke="#000" stroke-opacity="0.103" stroke-width="1.5"/>
<circle cx="355.9" cy="1192.6" r="3.75" fill="#000" fill-opacity="0.136" stroke="#000" stroke-opacity="0.151" stroke-width="1.5"/>
<circle cx="363.65" cy="1192.6" r="3.75" fill="#000" fill-opacity="0.136" stroke="#000" stroke-opacity="0.151" stroke-width="1.5"/>
<circle cx="370.65" cy="1192.6" r="3.75" fill="#000" fill-opacity="0.136" stroke="#000" stroke-opacity="0.151" stroke-width="1.5"/>
<circle cx="457.3" cy="1192.6" r="3.75" fill="#000" fill-opacity="0.093" stroke="#000" stroke-opacity="0.103" stroke-width="1.5"/>
<circle cx="484.2" cy="1192.6" r="3.75" fill="#000" fill-opacity="0.093" stroke="#000" stroke-opacity="0.103" stroke-width="1.5"/>
<circle cx="492.25" cy="1192.6" r="3.75" fill="#000" fill-opacity="0.093" stroke="#000" stroke-opacity="0.103" stroke-width="1.5"/>
<circle cx="500.65" cy="1192.6" r="3.75" fill="#000" fill-opacity="0.093" stroke="#000" stroke-opacity="0.103" stroke-width="1.5"/>
<circle cx="102.5" cy="1333.5" r="3.75" fill="#000" fill-opacity="0.365" stroke="#000" stroke-opacity="0.398" stroke-width="1.5"/>
<circle cx="150.6" cy="1333.5" r="3.75" fill="#000" fill-opacity="0.068" stroke="#000" stroke-opacity="0.075" stroke-width="1.5"/>
<circle cx="187.8" cy="1333.5" r="3.75" fill="#000" fill-opacity="0.130" stroke="#000" stroke-opacity="0.144" stroke-width="1.5"/>
<circle cx="268.5" cy="1333.5" r="3.75" fill="#000" fill-opacity="0.068" stroke="#000" stroke-opacity="0.075" stroke-width="1.5"/>
<circle cx="288.9" cy="1333.5" r="3.75" fill="#000" fill-opacity="0.189" stroke="#000" stroke-opacity="0.209" stroke-width="1.5"/>
<circle cx="300.8" cy="1333.5" r="3.75" fill="#000" fill-opacity="0.068" stroke="#000" stroke-opacity="0.075" stroke-width="1.5"/>
<circle cx="306.1" cy="1333.5" r="3.75" fill="#000" fill-opacity="0.068" stroke="#000" stroke-opacity="0.075" stroke-width="1.5"/>
<circle cx="318" cy="1333.5" r="3.75" fill="#000" fill-opacity="0.068" stroke="#000" stroke-opacity="0.075" stroke-width="1.5"/>
<circle cx="322.3" cy="1333.5" r="3.75" fill="#000" fill-opacity="0.068" stroke="#000" stroke-opacity="0.075" stroke-width="1.5"/>
<circle cx="330.9" cy="1333.5" r="3.75" fill="#000" fill-opacity="0.068" stroke="#000" stroke-opacity="0.075" stroke-width="1.5"/>
<circle cx="335.2" cy="1333.5" r="3.75" fill="#000" fill-opacity="0.130" stroke="#000" stroke-opacity="0.144" stroke-width="1.5"/>
<circle cx="351.9" cy="1333.5" r="3.75" fill="#000" fill-opacity="0.552" stroke="#000" stroke-opacity="0.592" stroke-width="1.5"/>
<circle cx="364.8" cy="1333.5" r="3.75" fill="#000" fill-opacity="0.130" stroke="#000" stroke-opacity="0.144" stroke-width="1.5"/>
<circle cx="376" cy="1333.5" r="3.75" fill="#000" fill-opacity="0.068" stroke="#000" stroke-opacity="0.075" stroke-width="1.5"/>
<circle cx="386.3" cy="1333.5" r="3.75" fill="#000" fill-opacity="0.068" stroke="#000" stroke-opacity="0.075" stroke-width="1.5"/>
<circle cx="398.6" cy="1333.5" r="3.75" fill="#000" fill-opacity="0.068" stroke="#000" stroke-opacity="0.075" stroke-width="1.5"/>
<circle cx="407.2" cy="1333.5" r="3.75" fill="#000" fill-opacity="0.068" stroke="#000" stroke-opacity="0.075" stroke-width="1.5"/>
<circle cx="412.6" cy="1333.5" r="3.75" fill="#000" fill-opacity="0.130" stroke="#000" stroke-opacity="0.144" stroke-width="1.5"/>
<circle cx="416.9" cy="1333.5" r="3.75" fill="#000" fill-opacity="0.130" stroke="#000" stroke-opacity="0.144" stroke-width="1.5"/>
<circle cx="420.8" cy="1333.5" r="3.75" fill="#000" fill-opacity="0.189" stroke="#000" stroke-opacity="0.209" stroke-width="1.5"/>
<circle cx="431.5" cy="1333.5" r="3.75" fill="#000" fill-opacity="0.130" stroke="#000" stroke-opacity="0.144" stroke-width="1.5"/>
<circle cx="478.8" cy="1333.5" r="3.75" fill="#000" fill-opacity="0.130" stroke="#000" stroke-opacity="0.144" stroke-width="1.5"/>
<circle cx="485.3" cy="1333.5" r="3.75" fill="#000" fill-opacity="0.130" stroke="#000" stroke-opacity="0.144" stroke-width="1.5"/>
<circle cx="495.6" cy="1333.5" r="3.75" fill="#000" fill-opacity="0.068" stroke="#000" stroke-opacity="0.075" stroke-width="1.5"/>
<circle cx="501.4" cy="1333.5" r="3.75" fill="#000" fill-opacity="0.068" stroke="#000" stroke-opacity="0.075" stroke-width="1.5"/>
<circle cx="513.2" cy="1333.5" r="3.75" fill="#000" fill-opacity="0.068" stroke="#000" stroke-opacity="0.075" stroke-width="1.5"/>
<circle cx="525" cy="1333.5" r="3.75" fill="#000" fill-opacity="0.130" stroke="#000" stroke-opacity="0.144" stroke-width="1.5"/>
<circle cx="529.4" cy="1333.5" r="3.75" fill="#000" fill-opacity="0.068" stroke="#000" stroke-opacity="0.075" stroke-width="1.5"/>
<circle cx="538.6" cy="1333.5" r="3.75" fill="#000" fill-opacity="0.068" stroke="#000" stroke-opacity="0.075" stroke-width="1.5"/>
<circle cx="655.2" cy="1333.5" r="3.75" fill="#000" fill-opacity="0.068" stroke="#000" stroke-opacity="0.075" stroke-width="1.5"/>
<circle cx="726.6" cy="1333.5" r="3.75" fill="#000" fill-opacity="0.624" stroke="#000" stroke-opacity="0.664" stroke-width="1.5"/>
<circle cx="343.55" cy="1333.5" r="3.75" fill="#000" fill-opacity="0.093" stroke="#000" stroke-opacity="0.103" stroke-width="1.5"/>
<circle cx="358.35" cy="1333.5" r="3.75" fill="#000" fill-opacity="0.093" stroke="#000" stroke-opacity="0.103" stroke-width="1.5"/>
<circle cx="426.15" cy="1333.5" r="3.75" fill="#000" fill-opacity="0.093" stroke="#000" stroke-opacity="0.103" stroke-width="1.5"/>
<circle cx="482.05" cy="1333.5" r="3.75" fill="#000" fill-opacity="0.093" stroke="#000" stroke-opacity="0.103" stroke-width="1.5"/>
</g>
<path d="M102.7,914.15 L113.1,917.05 L123.5,919.95 L133.9,922.84 L144.29,925.72 L154.69,928.6 L165.09,931.46 L175.49,934.3 L185.89,937.14 L196.28,939.96 L206.68,942.75 L217.08,945.53 L227.48,948.28 L237.88,951.01 L248.28,953.71 L258.68,956.37 L269.07,958.99 L279.47,961.57 L289.87,964.11 L300.27,966.6 L310.67,969.05 L321.06,971.44 L331.46,973.8 L341.86,976.1 L352.26,978.36 L362.66,980.59 L373.06,982.77 L383.45,984.93 L393.85,987.06 L404.25,989.16 L414.65,991.23 L425.05,993.29 L435.45,995.33 L445.85,997.36 L456.24,999.37 L466.64,1001.37 L477.04,1003.36 L487.44,1005.34 L497.84,1007.31 L508.23,1009.28 L518.63,1011.24 L529.03,1013.19 L539.43,1015.14 L549.83,1017.08 L560.23,1019.02 L570.62,1020.95 L581.02,1022.89 L591.42,1024.81 L601.82,1026.74 L612.22,1028.66 L622.62,1030.58 L633.01,1032.5 L643.41,1034.42 L653.81,1036.33 L664.21,1038.25 L674.61,1040.16 L685.01,1042.07 L695.4,1043.98 L705.8,1045.89 L716.2,1047.79 L726.6,1049.7 L726.6,1095.7 L716.2,1092.74 L705.8,1089.78 L695.4,1086.82 L685.01,1083.86 L674.61,1080.91 L664.21,1077.95 L653.81,1075 L643.41,1072.05 L633.01,1069.1 L622.62,1066.15 L612.22,1063.2 L601.82,1060.26 L591.42,1057.32 L581.02,1054.38 L570.62,1051.45 L560.23,1048.51 L549.83,1045.59 L539.43,1042.66 L529.03,1039.74 L518.63,1036.83 L508.23,1033.92 L497.84,1031.02 L487.44,1028.13 L477.04,1025.24 L466.64,1022.36 L456.24,1019.5 L445.85,1016.64 L435.45,1013.8 L425.05,1010.97 L414.65,1008.17 L404.25,1005.38 L393.85,1002.61 L383.45,999.87 L373.06,997.16 L362.66,994.48 L352.26,991.84 L341.86,989.23 L331.46,986.67 L321.06,984.16 L310.67,981.69 L300.27,979.26 L289.87,976.89 L279.47,974.56 L269.07,972.28 L258.68,970.03 L248.28,967.83 L237.88,965.66 L227.48,963.52 L217.08,961.4 L206.68,959.31 L196.28,957.24 L185.89,955.19 L175.49,953.16 L165.09,951.14 L154.69,949.14 L144.29,947.14 L133.9,945.16 L123.5,943.18 L113.1,941.21 L102.7,939.25Z" fill="#999999" fill-opacity="0.4"/>
<line x1="102.7" y1="926.7" x2="726.6" y2="1072.7" stroke="#3366FF" stroke-width="4.1"/>
<text transform="translate(595.7,856.7) scale(1,0.97)" font-size="22.4" text-anchor="middle" fill="#000" stroke="#000" stroke-width="0.25">ρ = -0.19 , p &lt; .001</text>
</g>
<rect x="71.6" y="742.9" width="685.7" height="618.4" fill="none" stroke="#222222" stroke-width="1.45"/>
<line x1="65.6" x2="71.6" y1="1333.5" y2="1333.5" stroke="#1a1a1a" stroke-width="1.9"/>
<text transform="translate(61,1340.1)" font-size="16.8" text-anchor="end" fill="#2e2e2e">1</text>
<line x1="65.6" x2="71.6" y1="1192.6" y2="1192.6" stroke="#1a1a1a" stroke-width="1.9"/>
<text transform="translate(61,1199.2)" font-size="16.8" text-anchor="end" fill="#2e2e2e">2</text>
<line x1="65.6" x2="71.6" y1="1051.7" y2="1051.7" stroke="#1a1a1a" stroke-width="1.9"/>
<text transform="translate(61,1058.3)" font-size="16.8" text-anchor="end" fill="#2e2e2e">3</text>
<line x1="65.6" x2="71.6" y1="910.8" y2="910.8" stroke="#1a1a1a" stroke-width="1.9"/>
<text transform="translate(61,917.4)" font-size="16.8" text-anchor="end" fill="#2e2e2e">4</text>
<line x1="65.6" x2="71.6" y1="769.9" y2="769.9" stroke="#1a1a1a" stroke-width="1.9"/>
<text transform="translate(61,776.5)" font-size="16.8" text-anchor="end" fill="#2e2e2e">5</text>
<line x1="108.5" x2="108.5" y1="1361.3" y2="1367.3" stroke="#1a1a1a" stroke-width="1.9"/>
<text transform="translate(108.5,1383.9)" font-size="16.8" text-anchor="middle" fill="#2e2e2e">600</text>
<line x1="267.82" x2="267.82" y1="1361.3" y2="1367.3" stroke="#1a1a1a" stroke-width="1.9"/>
<text transform="translate(267.82,1383.9)" font-size="16.8" text-anchor="middle" fill="#2e2e2e">900</text>
<line x1="427.14" x2="427.14" y1="1361.3" y2="1367.3" stroke="#1a1a1a" stroke-width="1.9"/>
<text transform="translate(427.14,1383.9)" font-size="16.8" text-anchor="middle" fill="#2e2e2e">1200</text>
<line x1="586.45" x2="586.45" y1="1361.3" y2="1367.3" stroke="#1a1a1a" stroke-width="1.9"/>
<text transform="translate(586.45,1383.9)" font-size="16.8" text-anchor="middle" fill="#2e2e2e">1500</text>
<line x1="745.77" x2="745.77" y1="1361.3" y2="1367.3" stroke="#1a1a1a" stroke-width="1.9"/>
<text transform="translate(745.77,1383.9)" font-size="16.8" text-anchor="middle" fill="#2e2e2e">1800</text>
<text transform="translate(414.45,1408.9) scale(1,1.03)" font-size="21.85" text-anchor="middle" fill="#000" stroke="#000" stroke-width="0.25">Carbon Budget Set (kg)</text>
<text transform="translate(31.8,1052.1) rotate(-90) scale(1,1.03)" font-size="21.85" text-anchor="middle" fill="#000" stroke="#000" stroke-width="0.25">Willingness to Change Behaviour to Reduce Footprint (1-5)</text>
<text transform="translate(1.9,739)" font-size="25.5" fill="#000" stroke="#000" stroke-width="0.25">c</text>
<clipPath id="clipd"><rect x="840.1" y="742.9" width="685.8" height="618.4"/></clipPath>
<g clip-path="url(#clipd)">
<line x1="840.1" x2="1525.9" y1="1263.05" y2="1263.05" stroke="#E8E8E8" stroke-width="1.3"/>
<line x1="840.1" x2="1525.9" y1="1122.15" y2="1122.15" stroke="#E8E8E8" stroke-width="1.3"/>
<line x1="840.1" x2="1525.9" y1="981.25" y2="981.25" stroke="#E8E8E8" stroke-width="1.3"/>
<line x1="840.1" x2="1525.9" y1="840.35" y2="840.35" stroke="#E8E8E8" stroke-width="1.3"/>
<line x1="956.46" x2="956.46" y1="742.9" y2="1361.3" stroke="#E8E8E8" stroke-width="1.3"/>
<line x1="1115.78" x2="1115.78" y1="742.9" y2="1361.3" stroke="#E8E8E8" stroke-width="1.3"/>
<line x1="1275.09" x2="1275.09" y1="742.9" y2="1361.3" stroke="#E8E8E8" stroke-width="1.3"/>
<line x1="1434.41" x2="1434.41" y1="742.9" y2="1361.3" stroke="#E8E8E8" stroke-width="1.3"/>
<line x1="840.1" x2="1525.9" y1="1333.5" y2="1333.5" stroke="#E8E8E8" stroke-width="1.8"/>
<line x1="840.1" x2="1525.9" y1="1192.6" y2="1192.6" stroke="#E8E8E8" stroke-width="1.8"/>
<line x1="840.1" x2="1525.9" y1="1051.7" y2="1051.7" stroke="#E8E8E8" stroke-width="1.8"/>
<line x1="840.1" x2="1525.9" y1="910.8" y2="910.8" stroke="#E8E8E8" stroke-width="1.8"/>
<line x1="840.1" x2="1525.9" y1="769.9" y2="769.9" stroke="#E8E8E8" stroke-width="1.8"/>
<line x1="876.8" x2="876.8" y1="742.9" y2="1361.3" stroke="#E8E8E8" stroke-width="1.8"/>
<line x1="1036.12" x2="1036.12" y1="742.9" y2="1361.3" stroke="#E8E8E8" stroke-width="1.8"/>
<line x1="1195.44" x2="1195.44" y1="742.9" y2="1361.3" stroke="#E8E8E8" stroke-width="1.8"/>
<line x1="1354.75" x2="1354.75" y1="742.9" y2="1361.3" stroke="#E8E8E8" stroke-width="1.8"/>
<line x1="1514.07" x2="1514.07" y1="742.9" y2="1361.3" stroke="#E8E8E8" stroke-width="1.8"/>
<g>
<circle cx="870.5" cy="769.9" r="3.75" fill="#000" fill-opacity="0.365" stroke="#000" stroke-opacity="0.398" stroke-width="1.5"/>
<circle cx="881.2" cy="769.9" r="3.75" fill="#000" fill-opacity="0.068" stroke="#000" stroke-opacity="0.075" stroke-width="1.5"/>
<circle cx="899.9" cy="769.9" r="3.75" fill="#000" fill-opacity="0.068" stroke="#000" stroke-opacity="0.075" stroke-width="1.5"/>
<circle cx="908.5" cy="769.9" r="3.75" fill="#000" fill-opacity="0.068" stroke="#000" stroke-opacity="0.075" stroke-width="1.5"/>
<circle cx="919.3" cy="769.9" r="3.75" fill="#000" fill-opacity="0.068" stroke="#000" stroke-opacity="0.075" stroke-width="1.5"/>
<circle cx="930.7" cy="769.9" r="3.75" fill="#000" fill-opacity="0.189" stroke="#000" stroke-opacity="0.209" stroke-width="1.5"/>
<circle cx="944" cy="769.9" r="3.75" fill="#000" fill-opacity="0.068" stroke="#000" stroke-opacity="0.075" stroke-width="1.5"/>
<circle cx="950.5" cy="769.9" r="3.75" fill="#000" fill-opacity="0.130" stroke="#000" stroke-opacity="0.144" stroke-width="1.5"/>
<circle cx="956.5" cy="769.9" r="3.75" fill="#000" fill-opacity="0.244" stroke="#000" stroke-opacity="0.268" stroke-width="1.5"/>
<circle cx="965.5" cy="769.9" r="3.75" fill="#000" fill-opacity="0.130" stroke="#000" stroke-opacity="0.144" stroke-width="1.5"/>
<circle cx="974.1" cy="769.9" r="3.75" fill="#000" fill-opacity="0.189" stroke="#000" stroke-opacity="0.209" stroke-width="1.5"/>
<circle cx="982.7" cy="769.9" r="3.75" fill="#000" fill-opacity="0.467" stroke="#000" stroke-opacity="0.504" stroke-width="1.5"/>
<circle cx="990.3" cy="769.9" r="3.75" fill="#000" fill-opacity="0.244" stroke="#000" stroke-opacity="0.268" stroke-width="1.5"/>
<circle cx="997.8" cy="769.9" r="3.75" fill="#000" fill-opacity="0.189" stroke="#000" stroke-opacity="0.209" stroke-width="1.5"/>
<circle cx="1009.6" cy="769.9" r="3.75" fill="#000" fill-opacity="0.365" stroke="#000" stroke-opacity="0.398" stroke-width="1.5"/>
<circle cx="1019.3" cy="769.9" r="3.75" fill="#000" fill-opacity="0.189" stroke="#000" stroke-opacity="0.209" stroke-width="1.5"/>
<circle cx="1027.9" cy="769.9" r="3.75" fill="#000" fill-opacity="0.068" stroke="#000" stroke-opacity="0.075" stroke-width="1.5"/>
<circle cx="1036.1" cy="769.9" r="3.75" fill="#000" fill-opacity="0.365" stroke="#000" stroke-opacity="0.398" stroke-width="1.5"/>
<circle cx="1045.1" cy="769.9" r="3.75" fill="#000" fill-opacity="0.068" stroke="#000" stroke-opacity="0.075" stroke-width="1.5"/>
<circle cx="1058" cy="769.9" r="3.75" fill="#000" fill-opacity="0.552" stroke="#000" stroke-opacity="0.592" stroke-width="1.5"/>
<circle cx="1064.5" cy="769.9" r="3.75" fill="#000" fill-opacity="0.189" stroke="#000" stroke-opacity="0.209" stroke-width="1.5"/>
<circle cx="1073" cy="769.9" r="3.75" fill="#000" fill-opacity="0.189" stroke="#000" stroke-opacity="0.209" stroke-width="1.5"/>
<circle cx="1078.4" cy="769.9" r="3.75" fill="#000" fill-opacity="0.189" stroke="#000" stroke-opacity="0.209" stroke-width="1.5"/>
<circle cx="1088" cy="769.9" r="3.75" fill="#000" fill-opacity="0.528" stroke="#000" stroke-opacity="0.567" stroke-width="1.5"/>
<circle cx="1090.4" cy="769.9" r="3.75" fill="#000" fill-opacity="0.528" stroke="#000" stroke-opacity="0.567" stroke-width="1.5"/>
<circle cx="1099.9" cy="769.9" r="3.75" fill="#000" fill-opacity="0.244" stroke="#000" stroke-opacity="0.268" stroke-width="1.5"/>
<circle cx="1109.6" cy="769.9" r="3.75" fill="#000" fill-opacity="0.130" stroke="#000" stroke-opacity="0.144" stroke-width="1.5"/>
<circle cx="1113.9" cy="769.9" r="3.75" fill="#000" fill-opacity="0.189" stroke="#000" stroke-opacity="0.209" stroke-width="1.5"/>
<circle cx="1118.7" cy="769.9" r="3.75" fill="#000" fill-opacity="0.637" stroke="#000" stroke-opacity="0.677" stroke-width="1.5"/>
<circle cx="1121.1" cy="769.9" r="3.75" fill="#000" fill-opacity="0.637" stroke="#000" stroke-opacity="0.677" stroke-width="1.5"/>
<circle cx="1129" cy="769.9" r="3.75" fill="#000" fill-opacity="0.189" stroke="#000" stroke-opacity="0.209" stroke-width="1.5"/>
<circle cx="1134.4" cy="769.9" r="3.75" fill="#000" fill-opacity="0.130" stroke="#000" stroke-opacity="0.144" stroke-width="1.5"/>
<circle cx="1142.3" cy="769.9" r="3.75" fill="#000" fill-opacity="0.189" stroke="#000" stroke-opacity="0.209" stroke-width="1.5"/>
<circle cx="1151.5" cy="769.9" r="3.75" fill="#000" fill-opacity="0.068" stroke="#000" stroke-opacity="0.075" stroke-width="1.5"/>
<circle cx="1169.8" cy="769.9" r="3.75" fill="#000" fill-opacity="0.130" stroke="#000" stroke-opacity="0.144" stroke-width="1.5"/>
<circle cx="1175.2" cy="769.9" r="3.75" fill="#000" fill-opacity="0.189" stroke="#000" stroke-opacity="0.209" stroke-width="1.5"/>
<circle cx="1182.7" cy="769.9" r="3.75" fill="#000" fill-opacity="0.068" stroke="#000" stroke-opacity="0.075" stroke-width="1.5"/>
<circle cx="1186.6" cy="769.9" r="3.75" fill="#000" fill-opacity="0.130" stroke="#000" stroke-opacity="0.144" stroke-width="1.5"/>
<circle cx="1198.4" cy="769.9" r="3.75" fill="#000" fill-opacity="0.189" stroke="#000" stroke-opacity="0.209" stroke-width="1.5"/>
<circle cx="1203.8" cy="769.9" r="3.75" fill="#000" fill-opacity="0.189" stroke="#000" stroke-opacity="0.209" stroke-width="1.5"/>
<circle cx="1222.1" cy="769.9" r="3.75" fill="#000" fill-opacity="0.130" stroke="#000" stroke-opacity="0.144" stroke-width="1.5"/>
<circle cx="1231.8" cy="769.9" r="3.75" fill="#000" fill-opacity="0.068" stroke="#000" stroke-opacity="0.075" stroke-width="1.5"/>
<circle cx="1240.4" cy="769.9" r="3.75" fill="#000" fill-opacity="0.130" stroke="#000" stroke-opacity="0.144" stroke-width="1.5"/>
<circle cx="1245.7" cy="769.9" r="3.75" fill="#000" fill-opacity="0.068" stroke="#000" stroke-opacity="0.075" stroke-width="1.5"/>
<circle cx="1252.2" cy="769.9" r="3.75" fill="#000" fill-opacity="0.130" stroke="#000" stroke-opacity="0.144" stroke-width="1.5"/>
<circle cx="1258.6" cy="769.9" r="3.75" fill="#000" fill-opacity="0.244" stroke="#000" stroke-opacity="0.268" stroke-width="1.5"/>
<circle cx="1264" cy="769.9" r="3.75" fill="#000" fill-opacity="0.189" stroke="#000" stroke-opacity="0.209" stroke-width="1.5"/>
<circle cx="1281.2" cy="769.9" r="3.75" fill="#000" fill-opacity="0.189" stroke="#000" stroke-opacity="0.209" stroke-width="1.5"/>
<circle cx="1295.8" cy="769.9" r="3.75" fill="#000" fill-opacity="0.130" stroke="#000" stroke-opacity="0.144" stroke-width="1.5"/>
<circle cx="1306" cy="769.9" r="3.75" fill="#000" fill-opacity="0.130" stroke="#000" stroke-opacity="0.144" stroke-width="1.5"/>
<circle cx="1321" cy="769.9" r="3.75" fill="#000" fill-opacity="0.130" stroke="#000" stroke-opacity="0.144" stroke-width="1.5"/>
<circle cx="1332.8" cy="769.9" r="3.75" fill="#000" fill-opacity="0.068" stroke="#000" stroke-opacity="0.075" stroke-width="1.5"/>
<circle cx="1338.2" cy="769.9" r="3.75" fill="#000" fill-opacity="0.130" stroke="#000" stroke-opacity="0.144" stroke-width="1.5"/>
<circle cx="1343.6" cy="769.9" r="3.75" fill="#000" fill-opacity="0.068" stroke="#000" stroke-opacity="0.075" stroke-width="1.5"/>
<circle cx="1354.3" cy="769.9" r="3.75" fill="#000" fill-opacity="0.244" stroke="#000" stroke-opacity="0.268" stroke-width="1.5"/>
<circle cx="1361.9" cy="769.9" r="3.75" fill="#000" fill-opacity="0.068" stroke="#000" stroke-opacity="0.075" stroke-width="1.5"/>
<circle cx="1372.6" cy="769.9" r="3.75" fill="#000" fill-opacity="0.130" stroke="#000" stroke-opacity="0.144" stroke-width="1.5"/>
<circle cx="1385.5" cy="769.9" r="3.75" fill="#000" fill-opacity="0.068" stroke="#000" stroke-opacity="0.075" stroke-width="1.5"/>
<circle cx="1392" cy="769.9" r="3.75" fill="#000" fill-opacity="0.068" stroke="#000" stroke-opacity="0.075" stroke-width="1.5"/>
<circle cx="1414.6" cy="769.9" r="3.75" fill="#000" fill-opacity="0.130" stroke="#000" stroke-opacity="0.144" stroke-width="1.5"/>
<circle cx="1440.4" cy="769.9" r="3.75" fill="#000" fill-opacity="0.068" stroke="#000" stroke-opacity="0.075" stroke-width="1.5"/>
<circle cx="1463" cy="769.9" r="3.75" fill="#000" fill-opacity="0.068" stroke="#000" stroke-opacity="0.075" stroke-width="1.5"/>
<circle cx="1489.8" cy="769.9" r="3.75" fill="#000" fill-opacity="0.068" stroke="#000" stroke-opacity="0.075" stroke-width="1.5"/>
<circle cx="1494.6" cy="769.9" r="3.75" fill="#000" fill-opacity="0.189" stroke="#000" stroke-opacity="0.209" stroke-width="1.5"/>
<circle cx="953.5" cy="769.9" r="3.75" fill="#000" fill-opacity="0.093" stroke="#000" stroke-opacity="0.103" stroke-width="1.5"/>
<circle cx="961" cy="769.9" r="3.75" fill="#000" fill-opacity="0.093" stroke="#000" stroke-opacity="0.103" stroke-width="1.5"/>
<circle cx="969.8" cy="769.9" r="3.75" fill="#000" fill-opacity="0.093" stroke="#000" stroke-opacity="0.103" stroke-width="1.5"/>
<circle cx="978.4" cy="769.9" r="3.75" fill="#000" fill-opacity="0.136" stroke="#000" stroke-opacity="0.151" stroke-width="1.5"/>
<circle cx="986.5" cy="769.9" r="3.75" fill="#000" fill-opacity="0.178" stroke="#000" stroke-opacity="0.196" stroke-width="1.5"/>
<circle cx="994.05" cy="769.9" r="3.75" fill="#000" fill-opacity="0.136" stroke="#000" stroke-opacity="0.151" stroke-width="1.5"/>
<circle cx="1003.7" cy="769.9" r="3.75" fill="#000" fill-opacity="0.136" stroke="#000" stroke-opacity="0.151" stroke-width="1.5"/>
<circle cx="1014.45" cy="769.9" r="3.75" fill="#000" fill-opacity="0.136" stroke="#000" stroke-opacity="0.151" stroke-width="1.5"/>
<circle cx="1061.25" cy="769.9" r="3.75" fill="#000" fill-opacity="0.136" stroke="#000" stroke-opacity="0.151" stroke-width="1.5"/>
<circle cx="1068.75" cy="769.9" r="3.75" fill="#000" fill-opacity="0.136" stroke="#000" stroke-opacity="0.151" stroke-width="1.5"/>
<circle cx="1075.7" cy="769.9" r="3.75" fill="#000" fill-opacity="0.136" stroke="#000" stroke-opacity="0.151" stroke-width="1.5"/>
<circle cx="1083.8" cy="769.9" r="3.75" fill="#000" fill-opacity="0.136" stroke="#000" stroke-opacity="0.151" stroke-width="1.5"/>
<circle cx="1094.55" cy="769.9" r="3.75" fill="#000" fill-opacity="0.178" stroke="#000" stroke-opacity="0.196" stroke-width="1.5"/>
<circle cx="1104.75" cy="769.9" r="3.75" fill="#000" fill-opacity="0.093" stroke="#000" stroke-opacity="0.103" stroke-width="1.5"/>
<circle cx="1116.9" cy="769.9" r="3.75" fill="#000" fill-opacity="0.136" stroke="#000" stroke-opacity="0.151" stroke-width="1.5"/>
<circle cx="1124.45" cy="769.9" r="3.75" fill="#000" fill-opacity="0.136" stroke="#000" stroke-opacity="0.151" stroke-width="1.5"/>
<circle cx="1131.7" cy="769.9" r="3.75" fill="#000" fill-opacity="0.093" stroke="#000" stroke-opacity="0.103" stroke-width="1.5"/>
<circle cx="1138.35" cy="769.9" r="3.75" fill="#000" fill-opacity="0.093" stroke="#000" stroke-opacity="0.103" stroke-width="1.5"/>
<circle cx="1172.5" cy="769.9" r="3.75" fill="#000" fill-opacity="0.093" stroke="#000" stroke-opacity="0.103" stroke-width="1.5"/>
<circle cx="1192.5" cy="769.9" r="3.75" fill="#000" fill-opacity="0.093" stroke="#000" stroke-opacity="0.103" stroke-width="1.5"/>
<circle cx="1201.1" cy="769.9" r="3.75" fill="#000" fill-opacity="0.136" stroke="#000" stroke-opacity="0.151" stroke-width="1.5"/>
<circle cx="1255.4" cy="769.9" r="3.75" fill="#000" fill-opacity="0.093" stroke="#000" stroke-opacity="0.103" stroke-width="1.5"/>
<circle cx="1261.3" cy="769.9" r="3.75" fill="#000" fill-opacity="0.136" stroke="#000" stroke-opacity="0.151" stroke-width="1.5"/>
<circle cx="1272.6" cy="769.9" r="3.75" fill="#000" fill-opacity="0.136" stroke="#000" stroke-opacity="0.151" stroke-width="1.5"/>
<circle cx="1288.5" cy="769.9" r="3.75" fill="#000" fill-opacity="0.093" stroke="#000" stroke-opacity="0.103" stroke-width="1.5"/>
<circle cx="1300.9" cy="769.9" r="3.75" fill="#000" fill-opacity="0.093" stroke="#000" stroke-opacity="0.103" stroke-width="1.5"/>
<circle cx="1313.5" cy="769.9" r="3.75" fill="#000" fill-opacity="0.093" stroke="#000" stroke-opacity="0.103" stroke-width="1.5"/>
<circle cx="870.5" cy="910.8" r="3.75" fill="#000" fill-opacity="0.552" stroke="#000" stroke-opacity="0.592" stroke-width="1.5"/>
<circle cx="879.5" cy="910.8" r="3.75" fill="#000" fill-opacity="0.068" stroke="#000" stroke-opacity="0.075" stroke-width="1.5"/>
<circle cx="890.3" cy="910.8" r="3.75" fill="#000" fill-opacity="0.068" stroke="#000" stroke-opacity="0.075" stroke-width="1.5"/>
<circle cx="894.1" cy="910.8" r="3.75" fill="#000" fill-opacity="0.130" stroke="#000" stroke-opacity="0.144" stroke-width="1.5"/>
<circle cx="916.1" cy="910.8" r="3.75" fill="#000" fill-opacity="0.068" stroke="#000" stroke-opacity="0.075" stroke-width="1.5"/>
<circle cx="921.4" cy="910.8" r="3.75" fill="#000" fill-opacity="0.130" stroke="#000" stroke-opacity="0.144" stroke-width="1.5"/>
<circle cx="925.7" cy="910.8" r="3.75" fill="#000" fill-opacity="0.130" stroke="#000" stroke-opacity="0.144" stroke-width="1.5"/>
<circle cx="939.7" cy="910.8" r="3.75" fill="#000" fill-opacity="0.068" stroke="#000" stroke-opacity="0.075" stroke-width="1.5"/>
<circle cx="946.2" cy="910.8" r="3.75" fill="#000" fill-opacity="0.130" stroke="#000" stroke-opacity="0.144" stroke-width="1.5"/>
<circle cx="952.6" cy="910.8" r="3.75" fill="#000" fill-opacity="0.189" stroke="#000" stroke-opacity="0.209" stroke-width="1.5"/>
<circle cx="962.3" cy="910.8" r="3.75" fill="#000" fill-opacity="0.244" stroke="#000" stroke-opacity="0.268" stroke-width="1.5"/>
<circle cx="975.2" cy="910.8" r="3.75" fill="#000" fill-opacity="0.244" stroke="#000" stroke-opacity="0.268" stroke-width="1.5"/>
<circle cx="982.7" cy="910.8" r="3.75" fill="#000" fill-opacity="0.552" stroke="#000" stroke-opacity="0.592" stroke-width="1.5"/>
<circle cx="989.2" cy="910.8" r="3.75" fill="#000" fill-opacity="0.365" stroke="#000" stroke-opacity="0.398" stroke-width="1.5"/>
<circle cx="995.6" cy="910.8" r="3.75" fill="#000" fill-opacity="0.467" stroke="#000" stroke-opacity="0.504" stroke-width="1.5"/>
<circle cx="1009.6" cy="910.8" r="3.75" fill="#000" fill-opacity="0.365" stroke="#000" stroke-opacity="0.398" stroke-width="1.5"/>
<circle cx="1021.4" cy="910.8" r="3.75" fill="#000" fill-opacity="0.244" stroke="#000" stroke-opacity="0.268" stroke-width="1.5"/>
<circle cx="1027.9" cy="910.8" r="3.75" fill="#000" fill-opacity="0.244" stroke="#000" stroke-opacity="0.268" stroke-width="1.5"/>
<circle cx="1034.9" cy="910.8" r="3.75" fill="#000" fill-opacity="0.485" stroke="#000" stroke-opacity="0.523" stroke-width="1.5"/>
<circle cx="1037.3" cy="910.8" r="3.75" fill="#000" fill-opacity="0.485" stroke="#000" stroke-opacity="0.523" stroke-width="1.5"/>
<circle cx="1045.1" cy="910.8" r="3.75" fill="#000" fill-opacity="0.244" stroke="#000" stroke-opacity="0.268" stroke-width="1.5"/>
<circle cx="1051.5" cy="910.8" r="3.75" fill="#000" fill-opacity="0.244" stroke="#000" stroke-opacity="0.268" stroke-width="1.5"/>
<circle cx="1056.8" cy="910.8" r="3.75" fill="#000" fill-opacity="0.568" stroke="#000" stroke-opacity="0.608" stroke-width="1.5"/>
<circle cx="1059.2" cy="910.8" r="3.75" fill="#000" fill-opacity="0.568" stroke="#000" stroke-opacity="0.608" stroke-width="1.5"/>
<circle cx="1065.5" cy="910.8" r="3.75" fill="#000" fill-opacity="0.365" stroke="#000" stroke-opacity="0.398" stroke-width="1.5"/>
<circle cx="1073" cy="910.8" r="3.75" fill="#000" fill-opacity="0.189" stroke="#000" stroke-opacity="0.209" stroke-width="1.5"/>
<circle cx="1081.7" cy="910.8" r="3.75" fill="#000" fill-opacity="0.244" stroke="#000" stroke-opacity="0.268" stroke-width="1.5"/>
<circle cx="1088" cy="910.8" r="3.75" fill="#000" fill-opacity="0.695" stroke="#000" stroke-opacity="0.734" stroke-width="1.5"/>
<circle cx="1090.4" cy="910.8" r="3.75" fill="#000" fill-opacity="0.695" stroke="#000" stroke-opacity="0.734" stroke-width="1.5"/>
<circle cx="1102.1" cy="910.8" r="3.75" fill="#000" fill-opacity="0.365" stroke="#000" stroke-opacity="0.398" stroke-width="1.5"/>
<circle cx="1113.9" cy="910.8" r="3.75" fill="#000" fill-opacity="0.552" stroke="#000" stroke-opacity="0.592" stroke-width="1.5"/>
<circle cx="1118.7" cy="910.8" r="3.75" fill="#000" fill-opacity="0.744" stroke="#000" stroke-opacity="0.781" stroke-width="1.5"/>
<circle cx="1121.1" cy="910.8" r="3.75" fill="#000" fill-opacity="0.744" stroke="#000" stroke-opacity="0.781" stroke-width="1.5"/>
<circle cx="1129" cy="910.8" r="3.75" fill="#000" fill-opacity="0.467" stroke="#000" stroke-opacity="0.504" stroke-width="1.5"/>
<circle cx="1135.4" cy="910.8" r="3.75" fill="#000" fill-opacity="0.244" stroke="#000" stroke-opacity="0.268" stroke-width="1.5"/>
<circle cx="1142.3" cy="910.8" r="3.75" fill="#000" fill-opacity="0.365" stroke="#000" stroke-opacity="0.398" stroke-width="1.5"/>
<circle cx="1150.5" cy="910.8" r="3.75" fill="#000" fill-opacity="0.189" stroke="#000" stroke-opacity="0.209" stroke-width="1.5"/>
<circle cx="1159.1" cy="910.8" r="3.75" fill="#000" fill-opacity="0.130" stroke="#000" stroke-opacity="0.144" stroke-width="1.5"/>
<circle cx="1169.8" cy="910.8" r="3.75" fill="#000" fill-opacity="0.189" stroke="#000" stroke-opacity="0.209" stroke-width="1.5"/>
<circle cx="1182.5" cy="910.8" r="3.75" fill="#000" fill-opacity="0.365" stroke="#000" stroke-opacity="0.398" stroke-width="1.5"/>
<circle cx="1194.1" cy="910.8" r="3.75" fill="#000" fill-opacity="0.189" stroke="#000" stroke-opacity="0.209" stroke-width="1.5"/>
<circle cx="1202.7" cy="910.8" r="3.75" fill="#000" fill-opacity="0.068" stroke="#000" stroke-opacity="0.075" stroke-width="1.5"/>
<circle cx="1211.3" cy="910.8" r="3.75" fill="#000" fill-opacity="0.189" stroke="#000" stroke-opacity="0.209" stroke-width="1.5"/>
<circle cx="1217.8" cy="910.8" r="3.75" fill="#000" fill-opacity="0.068" stroke="#000" stroke-opacity="0.075" stroke-width="1.5"/>
<circle cx="1227.5" cy="910.8" r="3.75" fill="#000" fill-opacity="0.189" stroke="#000" stroke-opacity="0.209" stroke-width="1.5"/>
<circle cx="1233.5" cy="910.8" r="3.75" fill="#000" fill-opacity="0.244" stroke="#000" stroke-opacity="0.268" stroke-width="1.5"/>
<circle cx="1240.8" cy="910.8" r="3.75" fill="#000" fill-opacity="0.244" stroke="#000" stroke-opacity="0.268" stroke-width="1.5"/>
<circle cx="1246.8" cy="910.8" r="3.75" fill="#000" fill-opacity="0.189" stroke="#000" stroke-opacity="0.209" stroke-width="1.5"/>
<circle cx="1252.2" cy="910.8" r="3.75" fill="#000" fill-opacity="0.189" stroke="#000" stroke-opacity="0.209" stroke-width="1.5"/>
<circle cx="1258.6" cy="910.8" r="3.75" fill="#000" fill-opacity="0.189" stroke="#000" stroke-opacity="0.209" stroke-width="1.5"/>
<circle cx="1266.2" cy="910.8" r="3.75" fill="#000" fill-opacity="0.189" stroke="#000" stroke-opacity="0.209" stroke-width="1.5"/>
<circle cx="1272.6" cy="910.8" r="3.75" fill="#000" fill-opacity="0.189" stroke="#000" stroke-opacity="0.209" stroke-width="1.5"/>
<circle cx="1281.2" cy="910.8" r="3.75" fill="#000" fill-opacity="0.068" stroke="#000" stroke-opacity="0.075" stroke-width="1.5"/>
<circle cx="1289.8" cy="910.8" r="3.75" fill="#000" fill-opacity="0.130" stroke="#000" stroke-opacity="0.144" stroke-width="1.5"/>
<circle cx="1295.8" cy="910.8" r="3.75" fill="#000" fill-opacity="0.189" stroke="#000" stroke-opacity="0.209" stroke-width="1.5"/>
<circle cx="1304.9" cy="910.8" r="3.75" fill="#000" fill-opacity="0.130" stroke="#000" stroke-opacity="0.144" stroke-width="1.5"/>
<circle cx="1312.4" cy="910.8" r="3.75" fill="#000" fill-opacity="0.130" stroke="#000" stroke-opacity="0.144" stroke-width="1.5"/>
<circle cx="1323.2" cy="910.8" r="3.75" fill="#000" fill-opacity="0.068" stroke="#000" stroke-opacity="0.075" stroke-width="1.5"/>
<circle cx="1329.6" cy="910.8" r="3.75" fill="#000" fill-opacity="0.130" stroke="#000" stroke-opacity="0.144" stroke-width="1.5"/>
<circle cx="1335.4" cy="910.8" r="3.75" fill="#000" fill-opacity="0.189" stroke="#000" stroke-opacity="0.209" stroke-width="1.5"/>
<circle cx="1349" cy="910.8" r="3.75" fill="#000" fill-opacity="0.130" stroke="#000" stroke-opacity="0.144" stroke-width="1.5"/>
<circle cx="1354.3" cy="910.8" r="3.75" fill="#000" fill-opacity="0.130" stroke="#000" stroke-opacity="0.144" stroke-width="1.5"/>
<circle cx="1361.9" cy="910.8" r="3.75" fill="#000" fill-opacity="0.068" stroke="#000" stroke-opacity="0.075" stroke-width="1.5"/>
<circle cx="1371.5" cy="910.8" r="3.75" fill="#000" fill-opacity="0.189" stroke="#000" stroke-opacity="0.209" stroke-width="1.5"/>
<circle cx="1380.2" cy="910.8" r="3.75" fill="#000" fill-opacity="0.130" stroke="#000" stroke-opacity="0.144" stroke-width="1.5"/>
<circle cx="1385.5" cy="910.8" r="3.75" fill="#000" fill-opacity="0.130" stroke="#000" stroke-opacity="0.144" stroke-width="1.5"/>
<circle cx="1393.1" cy="910.8" r="3.75" fill="#000" fill-opacity="0.068" stroke="#000" stroke-opacity="0.075" stroke-width="1.5"/>
<circle cx="1403.8" cy="910.8" r="3.75" fill="#000" fill-opacity="0.068" stroke="#000" stroke-opacity="0.075" stroke-width="1.5"/>
<circle cx="1423.2" cy="910.8" r="3.75" fill="#000" fill-opacity="0.068" stroke="#000" stroke-opacity="0.075" stroke-width="1.5"/>
<circle cx="1458.6" cy="910.8" r="3.75" fill="#000" fill-opacity="0.068" stroke="#000" stroke-opacity="0.075" stroke-width="1.5"/>
<circle cx="1467.2" cy="910.8" r="3.75" fill="#000" fill-opacity="0.068" stroke="#000" stroke-opacity="0.075" stroke-width="1.5"/>
<circle cx="1475.8" cy="910.8" r="3.75" fill="#000" fill-opacity="0.068" stroke="#000" stroke-opacity="0.075" stroke-width="1.5"/>
<circle cx="1486.6" cy="910.8" r="3.75" fill="#000" fill-opacity="0.068" stroke="#000" stroke-opacity="0.075" stroke-width="1.5"/>
<circle cx="1494.6" cy="910.8" r="3.75" fill="#000" fill-opacity="0.068" stroke="#000" stroke-opacity="0.075" stroke-width="1.5"/>
<circle cx="949.4" cy="910.8" r="3.75" fill="#000" fill-opacity="0.093" stroke="#000" stroke-opacity="0.103" stroke-width="1.5"/>
<circle cx="957.45" cy="910.8" r="3.75" fill="#000" fill-opacity="0.136" stroke="#000" stroke-opacity="0.151" stroke-width="1.5"/>
<circle cx="968.75" cy="910.8" r="3.75" fill="#000" fill-opacity="0.178" stroke="#000" stroke-opacity="0.196" stroke-width="1.5"/>
<circle cx="978.95" cy="910.8" r="3.75" fill="#000" fill-opacity="0.178" stroke="#000" stroke-opacity="0.196" stroke-width="1.5"/>
<circle cx="985.95" cy="910.8" r="3.75" fill="#000" fill-opacity="0.217" stroke="#000" stroke-opacity="0.239" stroke-width="1.5"/>
<circle cx="992.4" cy="910.8" r="3.75" fill="#000" fill-opacity="0.217" stroke="#000" stroke-opacity="0.239" stroke-width="1.5"/>
<circle cx="1002.6" cy="910.8" r="3.75" fill="#000" fill-opacity="0.217" stroke="#000" stroke-opacity="0.239" stroke-width="1.5"/>
<circle cx="1015.5" cy="910.8" r="3.75" fill="#000" fill-opacity="0.178" stroke="#000" stroke-opacity="0.196" stroke-width="1.5"/>
<circle cx="1024.65" cy="910.8" r="3.75" fill="#000" fill-opacity="0.178" stroke="#000" stroke-opacity="0.196" stroke-width="1.5"/>
<circle cx="1032" cy="910.8" r="3.75" fill="#000" fill-opacity="0.178" stroke="#000" stroke-opacity="0.196" stroke-width="1.5"/>
<circle cx="1040.6" cy="910.8" r="3.75" fill="#000" fill-opacity="0.178" stroke="#000" stroke-opacity="0.196" stroke-width="1.5"/>
<circle cx="1048.3" cy="910.8" r="3.75" fill="#000" fill-opacity="0.178" stroke="#000" stroke-opacity="0.196" stroke-width="1.5"/>
<circle cx="1054.75" cy="910.8" r="3.75" fill="#000" fill-opacity="0.178" stroke="#000" stroke-opacity="0.196" stroke-width="1.5"/>
<circle cx="1061.75" cy="910.8" r="3.75" fill="#000" fill-opacity="0.217" stroke="#000" stroke-opacity="0.239" stroke-width="1.5"/>
<circle cx="1069.25" cy="910.8" r="3.75" fill="#000" fill-opacity="0.136" stroke="#000" stroke-opacity="0.151" stroke-width="1.5"/>
<circle cx="1077.35" cy="910.8" r="3.75" fill="#000" fill-opacity="0.136" stroke="#000" stroke-opacity="0.151" stroke-width="1.5"/>
<circle cx="1085.45" cy="910.8" r="3.75" fill="#000" fill-opacity="0.178" stroke="#000" stroke-opacity="0.196" stroke-width="1.5"/>
<circle cx="1095.65" cy="910.8" r="3.75" fill="#000" fill-opacity="0.217" stroke="#000" stroke-opacity="0.239" stroke-width="1.5"/>
<circle cx="1108" cy="910.8" r="3.75" fill="#000" fill-opacity="0.217" stroke="#000" stroke-opacity="0.239" stroke-width="1.5"/>
<circle cx="1116.9" cy="910.8" r="3.75" fill="#000" fill-opacity="0.354" stroke="#000" stroke-opacity="0.386" stroke-width="1.5"/>
<circle cx="1124.45" cy="910.8" r="3.75" fill="#000" fill-opacity="0.270" stroke="#000" stroke-opacity="0.296" stroke-width="1.5"/>
<circle cx="1132.2" cy="910.8" r="3.75" fill="#000" fill-opacity="0.178" stroke="#000" stroke-opacity="0.196" stroke-width="1.5"/>
<circle cx="1138.85" cy="910.8" r="3.75" fill="#000" fill-opacity="0.178" stroke="#000" stroke-opacity="0.196" stroke-width="1.5"/>
<circle cx="1146.4" cy="910.8" r="3.75" fill="#000" fill-opacity="0.136" stroke="#000" stroke-opacity="0.151" stroke-width="1.5"/>
<circle cx="1154.8" cy="910.8" r="3.75" fill="#000" fill-opacity="0.093" stroke="#000" stroke-opacity="0.103" stroke-width="1.5"/>
<circle cx="1164.45" cy="910.8" r="3.75" fill="#000" fill-opacity="0.093" stroke="#000" stroke-opacity="0.103" stroke-width="1.5"/>
<circle cx="1176.15" cy="910.8" r="3.75" fill="#000" fill-opacity="0.136" stroke="#000" stroke-opacity="0.151" stroke-width="1.5"/>
<circle cx="1188.3" cy="910.8" r="3.75" fill="#000" fill-opacity="0.136" stroke="#000" stroke-opacity="0.151" stroke-width="1.5"/>
<circle cx="1230.5" cy="910.8" r="3.75" fill="#000" fill-opacity="0.136" stroke="#000" stroke-opacity="0.151" stroke-width="1.5"/>
<circle cx="1237.15" cy="910.8" r="3.75" fill="#000" fill-opacity="0.178" stroke="#000" stroke-opacity="0.196" stroke-width="1.5"/>
<circle cx="1243.8" cy="910.8" r="3.75" fill="#000" fill-opacity="0.136" stroke="#000" stroke-opacity="0.151" stroke-width="1.5"/>
<circle cx="1249.5" cy="910.8" r="3.75" fill="#000" fill-opacity="0.136" stroke="#000" stroke-opacity="0.151" stroke-width="1.5"/>
<circle cx="1255.4" cy="910.8" r="3.75" fill="#000" fill-opacity="0.136" stroke="#000" stroke-opacity="0.151" stroke-width="1.5"/>
<circle cx="1262.4" cy="910.8" r="3.75" fill="#000" fill-opacity="0.136" stroke="#000" stroke-opacity="0.151" stroke-width="1.5"/>
<circle cx="1269.4" cy="910.8" r="3.75" fill="#000" fill-opacity="0.136" stroke="#000" stroke-opacity="0.151" stroke-width="1.5"/>
<circle cx="1292.8" cy="910.8" r="3.75" fill="#000" fill-opacity="0.093" stroke="#000" stroke-opacity="0.103" stroke-width="1.5"/>
<circle cx="1300.35" cy="910.8" r="3.75" fill="#000" fill-opacity="0.093" stroke="#000" stroke-opacity="0.103" stroke-width="1.5"/>
<circle cx="1308.65" cy="910.8" r="3.75" fill="#000" fill-opacity="0.093" stroke="#000" stroke-opacity="0.103" stroke-width="1.5"/>
<circle cx="1332.5" cy="910.8" r="3.75" fill="#000" fill-opacity="0.093" stroke="#000" stroke-opacity="0.103" stroke-width="1.5"/>
<circle cx="1342.2" cy="910.8" r="3.75" fill="#000" fill-opacity="0.093" stroke="#000" stroke-opacity="0.103" stroke-width="1.5"/>
<circle cx="1351.65" cy="910.8" r="3.75" fill="#000" fill-opacity="0.093" stroke="#000" stroke-opacity="0.103" stroke-width="1.5"/>
<circle cx="1375.85" cy="910.8" r="3.75" fill="#000" fill-opacity="0.093" stroke="#000" stroke-opacity="0.103" stroke-width="1.5"/>
<circle cx="1382.85" cy="910.8" r="3.75" fill="#000" fill-opacity="0.093" stroke="#000" stroke-opacity="0.103" stroke-width="1.5"/>
<circle cx="870.5" cy="1051.7" r="3.75" fill="#000" fill-opacity="0.365" stroke="#000" stroke-opacity="0.398" stroke-width="1.5"/>
<circle cx="881.2" cy="1051.7" r="3.75" fill="#000" fill-opacity="0.068" stroke="#000" stroke-opacity="0.075" stroke-width="1.5"/>
<circle cx="902.1" cy="1051.7" r="3.75" fill="#000" fill-opacity="0.068" stroke="#000" stroke-opacity="0.075" stroke-width="1.5"/>
<circle cx="941.9" cy="1051.7" r="3.75" fill="#000" fill-opacity="0.068" stroke="#000" stroke-opacity="0.075" stroke-width="1.5"/>
<circle cx="956.9" cy="1051.7" r="3.75" fill="#000" fill-opacity="0.068" stroke="#000" stroke-opacity="0.075" stroke-width="1.5"/>
<circle cx="962.3" cy="1051.7" r="3.75" fill="#000" fill-opacity="0.189" stroke="#000" stroke-opacity="0.209" stroke-width="1.5"/>
<circle cx="969.8" cy="1051.7" r="3.75" fill="#000" fill-opacity="0.130" stroke="#000" stroke-opacity="0.144" stroke-width="1.5"/>
<circle cx="977.4" cy="1051.7" r="3.75" fill="#000" fill-opacity="0.189" stroke="#000" stroke-opacity="0.209" stroke-width="1.5"/>
<circle cx="987" cy="1051.7" r="3.75" fill="#000" fill-opacity="0.189" stroke="#000" stroke-opacity="0.209" stroke-width="1.5"/>
<circle cx="995.6" cy="1051.7" r="3.75" fill="#000" fill-opacity="0.189" stroke="#000" stroke-opacity="0.209" stroke-width="1.5"/>
<circle cx="999.9" cy="1051.7" r="3.75" fill="#000" fill-opacity="0.189" stroke="#000" stroke-opacity="0.209" stroke-width="1.5"/>
<circle cx="1010.7" cy="1051.7" r="3.75" fill="#000" fill-opacity="0.068" stroke="#000" stroke-opacity="0.075" stroke-width="1.5"/>
<circle cx="1017.1" cy="1051.7" r="3.75" fill="#000" fill-opacity="0.189" stroke="#000" stroke-opacity="0.209" stroke-width="1.5"/>
<circle cx="1021.4" cy="1051.7" r="3.75" fill="#000" fill-opacity="0.068" stroke="#000" stroke-opacity="0.075" stroke-width="1.5"/>
<circle cx="1039.7" cy="1051.7" r="3.75" fill="#000" fill-opacity="0.130" stroke="#000" stroke-opacity="0.144" stroke-width="1.5"/>
<circle cx="1049.4" cy="1051.7" r="3.75" fill="#000" fill-opacity="0.068" stroke="#000" stroke-opacity="0.075" stroke-width="1.5"/>
<circle cx="1058" cy="1051.7" r="3.75" fill="#000" fill-opacity="0.365" stroke="#000" stroke-opacity="0.398" stroke-width="1.5"/>
<circle cx="1066.6" cy="1051.7" r="3.75" fill="#000" fill-opacity="0.130" stroke="#000" stroke-opacity="0.144" stroke-width="1.5"/>
<circle cx="1073" cy="1051.7" r="3.75" fill="#000" fill-opacity="0.068" stroke="#000" stroke-opacity="0.075" stroke-width="1.5"/>
<circle cx="1078.4" cy="1051.7" r="3.75" fill="#000" fill-opacity="0.068" stroke="#000" stroke-opacity="0.075" stroke-width="1.5"/>
<circle cx="1089.2" cy="1051.7" r="3.75" fill="#000" fill-opacity="0.244" stroke="#000" stroke-opacity="0.268" stroke-width="1.5"/>
<circle cx="1098.9" cy="1051.7" r="3.75" fill="#000" fill-opacity="0.068" stroke="#000" stroke-opacity="0.075" stroke-width="1.5"/>
<circle cx="1107.5" cy="1051.7" r="3.75" fill="#000" fill-opacity="0.130" stroke="#000" stroke-opacity="0.144" stroke-width="1.5"/>
<circle cx="1113.9" cy="1051.7" r="3.75" fill="#000" fill-opacity="0.189" stroke="#000" stroke-opacity="0.209" stroke-width="1.5"/>
<circle cx="1118.7" cy="1051.7" r="3.75" fill="#000" fill-opacity="0.387" stroke="#000" stroke-opacity="0.421" stroke-width="1.5"/>
<circle cx="1121.1" cy="1051.7" r="3.75" fill="#000" fill-opacity="0.387" stroke="#000" stroke-opacity="0.421" stroke-width="1.5"/>
<circle cx="1129" cy="1051.7" r="3.75" fill="#000" fill-opacity="0.244" stroke="#000" stroke-opacity="0.268" stroke-width="1.5"/>
<circle cx="1142.3" cy="1051.7" r="3.75" fill="#000" fill-opacity="0.244" stroke="#000" stroke-opacity="0.268" stroke-width="1.5"/>
<circle cx="1150.5" cy="1051.7" r="3.75" fill="#000" fill-opacity="0.068" stroke="#000" stroke-opacity="0.075" stroke-width="1.5"/>
<circle cx="1163" cy="1051.7" r="3.75" fill="#000" fill-opacity="0.130" stroke="#000" stroke-opacity="0.144" stroke-width="1.5"/>
<circle cx="1175.2" cy="1051.7" r="3.75" fill="#000" fill-opacity="0.068" stroke="#000" stroke-opacity="0.075" stroke-width="1.5"/>
<circle cx="1182.7" cy="1051.7" r="3.75" fill="#000" fill-opacity="0.130" stroke="#000" stroke-opacity="0.144" stroke-width="1.5"/>
<circle cx="1197.4" cy="1051.7" r="3.75" fill="#000" fill-opacity="0.130" stroke="#000" stroke-opacity="0.144" stroke-width="1.5"/>
<circle cx="1226.4" cy="1051.7" r="3.75" fill="#000" fill-opacity="0.068" stroke="#000" stroke-opacity="0.075" stroke-width="1.5"/>
<circle cx="1234.3" cy="1051.7" r="3.75" fill="#000" fill-opacity="0.130" stroke="#000" stroke-opacity="0.144" stroke-width="1.5"/>
<circle cx="1247.9" cy="1051.7" r="3.75" fill="#000" fill-opacity="0.189" stroke="#000" stroke-opacity="0.209" stroke-width="1.5"/>
<circle cx="1273.1" cy="1051.7" r="3.75" fill="#000" fill-opacity="0.068" stroke="#000" stroke-opacity="0.075" stroke-width="1.5"/>
<circle cx="1297.4" cy="1051.7" r="3.75" fill="#000" fill-opacity="0.130" stroke="#000" stroke-opacity="0.144" stroke-width="1.5"/>
<circle cx="1312.4" cy="1051.7" r="3.75" fill="#000" fill-opacity="0.068" stroke="#000" stroke-opacity="0.075" stroke-width="1.5"/>
<circle cx="966.05" cy="1051.7" r="3.75" fill="#000" fill-opacity="0.093" stroke="#000" stroke-opacity="0.103" stroke-width="1.5"/>
<circle cx="973.6" cy="1051.7" r="3.75" fill="#000" fill-opacity="0.093" stroke="#000" stroke-opacity="0.103" stroke-width="1.5"/>
<circle cx="982.2" cy="1051.7" r="3.75" fill="#000" fill-opacity="0.136" stroke="#000" stroke-opacity="0.151" stroke-width="1.5"/>
<circle cx="991.3" cy="1051.7" r="3.75" fill="#000" fill-opacity="0.136" stroke="#000" stroke-opacity="0.151" stroke-width="1.5"/>
<circle cx="1062.3" cy="1051.7" r="3.75" fill="#000" fill-opacity="0.093" stroke="#000" stroke-opacity="0.103" stroke-width="1.5"/>
<circle cx="1110.7" cy="1051.7" r="3.75" fill="#000" fill-opacity="0.093" stroke="#000" stroke-opacity="0.103" stroke-width="1.5"/>
<circle cx="1116.9" cy="1051.7" r="3.75" fill="#000" fill-opacity="0.136" stroke="#000" stroke-opacity="0.151" stroke-width="1.5"/>
<circle cx="1124.45" cy="1051.7" r="3.75" fill="#000" fill-opacity="0.178" stroke="#000" stroke-opacity="0.196" stroke-width="1.5"/>
<circle cx="1135.65" cy="1051.7" r="3.75" fill="#000" fill-opacity="0.178" stroke="#000" stroke-opacity="0.196" stroke-width="1.5"/>
<circle cx="1190.05" cy="1051.7" r="3.75" fill="#000" fill-opacity="0.093" stroke="#000" stroke-opacity="0.103" stroke-width="1.5"/>
<circle cx="1241.1" cy="1051.7" r="3.75" fill="#000" fill-opacity="0.093" stroke="#000" stroke-opacity="0.103" stroke-width="1.5"/>
<circle cx="870.5" cy="1192.6" r="3.75" fill="#000" fill-opacity="0.552" stroke="#000" stroke-opacity="0.592" stroke-width="1.5"/>
<circle cx="881.7" cy="1192.6" r="3.75" fill="#000" fill-opacity="0.068" stroke="#000" stroke-opacity="0.075" stroke-width="1.5"/>
<circle cx="889.2" cy="1192.6" r="3.75" fill="#000" fill-opacity="0.068" stroke="#000" stroke-opacity="0.075" stroke-width="1.5"/>
<circle cx="909.6" cy="1192.6" r="3.75" fill="#000" fill-opacity="0.068" stroke="#000" stroke-opacity="0.075" stroke-width="1.5"/>
<circle cx="919.3" cy="1192.6" r="3.75" fill="#000" fill-opacity="0.068" stroke="#000" stroke-opacity="0.075" stroke-width="1.5"/>
<circle cx="929" cy="1192.6" r="3.75" fill="#000" fill-opacity="0.130" stroke="#000" stroke-opacity="0.144" stroke-width="1.5"/>
<circle cx="934.3" cy="1192.6" r="3.75" fill="#000" fill-opacity="0.130" stroke="#000" stroke-opacity="0.144" stroke-width="1.5"/>
<circle cx="947.2" cy="1192.6" r="3.75" fill="#000" fill-opacity="0.130" stroke="#000" stroke-opacity="0.144" stroke-width="1.5"/>
<circle cx="958" cy="1192.6" r="3.75" fill="#000" fill-opacity="0.068" stroke="#000" stroke-opacity="0.075" stroke-width="1.5"/>
<circle cx="963.4" cy="1192.6" r="3.75" fill="#000" fill-opacity="0.130" stroke="#000" stroke-opacity="0.144" stroke-width="1.5"/>
<circle cx="976.3" cy="1192.6" r="3.75" fill="#000" fill-opacity="0.244" stroke="#000" stroke-opacity="0.268" stroke-width="1.5"/>
<circle cx="982.7" cy="1192.6" r="3.75" fill="#000" fill-opacity="0.467" stroke="#000" stroke-opacity="0.504" stroke-width="1.5"/>
<circle cx="989.2" cy="1192.6" r="3.75" fill="#000" fill-opacity="0.130" stroke="#000" stroke-opacity="0.144" stroke-width="1.5"/>
<circle cx="998.9" cy="1192.6" r="3.75" fill="#000" fill-opacity="0.189" stroke="#000" stroke-opacity="0.209" stroke-width="1.5"/>
<circle cx="1008.5" cy="1192.6" r="3.75" fill="#000" fill-opacity="0.130" stroke="#000" stroke-opacity="0.144" stroke-width="1.5"/>
<circle cx="1017.1" cy="1192.6" r="3.75" fill="#000" fill-opacity="0.189" stroke="#000" stroke-opacity="0.209" stroke-width="1.5"/>
<circle cx="1027.9" cy="1192.6" r="3.75" fill="#000" fill-opacity="0.189" stroke="#000" stroke-opacity="0.209" stroke-width="1.5"/>
<circle cx="1036.1" cy="1192.6" r="3.75" fill="#000" fill-opacity="0.365" stroke="#000" stroke-opacity="0.398" stroke-width="1.5"/>
<circle cx="1046.2" cy="1192.6" r="3.75" fill="#000" fill-opacity="0.068" stroke="#000" stroke-opacity="0.075" stroke-width="1.5"/>
<circle cx="1056.8" cy="1192.6" r="3.75" fill="#000" fill-opacity="0.528" stroke="#000" stroke-opacity="0.567" stroke-width="1.5"/>
<circle cx="1059.2" cy="1192.6" r="3.75" fill="#000" fill-opacity="0.528" stroke="#000" stroke-opacity="0.567" stroke-width="1.5"/>
<circle cx="1070.9" cy="1192.6" r="3.75" fill="#000" fill-opacity="0.189" stroke="#000" stroke-opacity="0.209" stroke-width="1.5"/>
<circle cx="1078.4" cy="1192.6" r="3.75" fill="#000" fill-opacity="0.189" stroke="#000" stroke-opacity="0.209" stroke-width="1.5"/>
<circle cx="1088" cy="1192.6" r="3.75" fill="#000" fill-opacity="0.528" stroke="#000" stroke-opacity="0.567" stroke-width="1.5"/>
<circle cx="1090.4" cy="1192.6" r="3.75" fill="#000" fill-opacity="0.528" stroke="#000" stroke-opacity="0.567" stroke-width="1.5"/>
<circle cx="1099.9" cy="1192.6" r="3.75" fill="#000" fill-opacity="0.244" stroke="#000" stroke-opacity="0.268" stroke-width="1.5"/>
<circle cx="1107.5" cy="1192.6" r="3.75" fill="#000" fill-opacity="0.189" stroke="#000" stroke-opacity="0.209" stroke-width="1.5"/>
<circle cx="1118.7" cy="1192.6" r="3.75" fill="#000" fill-opacity="0.667" stroke="#000" stroke-opacity="0.707" stroke-width="1.5"/>
<circle cx="1121.1" cy="1192.6" r="3.75" fill="#000" fill-opacity="0.667" stroke="#000" stroke-opacity="0.707" stroke-width="1.5"/>
<circle cx="1131.1" cy="1192.6" r="3.75" fill="#000" fill-opacity="0.365" stroke="#000" stroke-opacity="0.398" stroke-width="1.5"/>
<circle cx="1143" cy="1192.6" r="3.75" fill="#000" fill-opacity="0.189" stroke="#000" stroke-opacity="0.209" stroke-width="1.5"/>
<circle cx="1154.8" cy="1192.6" r="3.75" fill="#000" fill-opacity="0.130" stroke="#000" stroke-opacity="0.144" stroke-width="1.5"/>
<circle cx="1161.2" cy="1192.6" r="3.75" fill="#000" fill-opacity="0.068" stroke="#000" stroke-opacity="0.075" stroke-width="1.5"/>
<circle cx="1174.1" cy="1192.6" r="3.75" fill="#000" fill-opacity="0.189" stroke="#000" stroke-opacity="0.209" stroke-width="1.5"/>
<circle cx="1182.5" cy="1192.6" r="3.75" fill="#000" fill-opacity="0.467" stroke="#000" stroke-opacity="0.504" stroke-width="1.5"/>
<circle cx="1189.8" cy="1192.6" r="3.75" fill="#000" fill-opacity="0.189" stroke="#000" stroke-opacity="0.209" stroke-width="1.5"/>
<circle cx="1196.3" cy="1192.6" r="3.75" fill="#000" fill-opacity="0.189" stroke="#000" stroke-opacity="0.209" stroke-width="1.5"/>
<circle cx="1202.7" cy="1192.6" r="3.75" fill="#000" fill-opacity="0.068" stroke="#000" stroke-opacity="0.075" stroke-width="1.5"/>
<circle cx="1212.4" cy="1192.6" r="3.75" fill="#000" fill-opacity="0.130" stroke="#000" stroke-opacity="0.144" stroke-width="1.5"/>
<circle cx="1218.9" cy="1192.6" r="3.75" fill="#000" fill-opacity="0.244" stroke="#000" stroke-opacity="0.268" stroke-width="1.5"/>
<circle cx="1229.6" cy="1192.6" r="3.75" fill="#000" fill-opacity="0.189" stroke="#000" stroke-opacity="0.209" stroke-width="1.5"/>
<circle cx="1233.9" cy="1192.6" r="3.75" fill="#000" fill-opacity="0.189" stroke="#000" stroke-opacity="0.209" stroke-width="1.5"/>
<circle cx="1242.5" cy="1192.6" r="3.75" fill="#000" fill-opacity="0.189" stroke="#000" stroke-opacity="0.209" stroke-width="1.5"/>
<circle cx="1249" cy="1192.6" r="3.75" fill="#000" fill-opacity="0.244" stroke="#000" stroke-opacity="0.268" stroke-width="1.5"/>
<circle cx="1254.3" cy="1192.6" r="3.75" fill="#000" fill-opacity="0.130" stroke="#000" stroke-opacity="0.144" stroke-width="1.5"/>
<circle cx="1268.3" cy="1192.6" r="3.75" fill="#000" fill-opacity="0.189" stroke="#000" stroke-opacity="0.209" stroke-width="1.5"/>
<circle cx="1276.9" cy="1192.6" r="3.75" fill="#000" fill-opacity="0.189" stroke="#000" stroke-opacity="0.209" stroke-width="1.5"/>
<circle cx="1282.3" cy="1192.6" r="3.75" fill="#000" fill-opacity="0.068" stroke="#000" stroke-opacity="0.075" stroke-width="1.5"/>
<circle cx="1290.9" cy="1192.6" r="3.75" fill="#000" fill-opacity="0.189" stroke="#000" stroke-opacity="0.209" stroke-width="1.5"/>
<circle cx="1296.3" cy="1192.6" r="3.75" fill="#000" fill-opacity="0.130" stroke="#000" stroke-opacity="0.144" stroke-width="1.5"/>
<circle cx="1318.9" cy="1192.6" r="3.75" fill="#000" fill-opacity="0.130" stroke="#000" stroke-opacity="0.144" stroke-width="1.5"/>
<circle cx="1342.5" cy="1192.6" r="3.75" fill="#000" fill-opacity="0.068" stroke="#000" stroke-opacity="0.075" stroke-width="1.5"/>
<circle cx="1349" cy="1192.6" r="3.75" fill="#000" fill-opacity="0.068" stroke="#000" stroke-opacity="0.075" stroke-width="1.5"/>
<circle cx="1355.4" cy="1192.6" r="3.75" fill="#000" fill-opacity="0.130" stroke="#000" stroke-opacity="0.144" stroke-width="1.5"/>
<circle cx="1361.9" cy="1192.6" r="3.75" fill="#000" fill-opacity="0.068" stroke="#000" stroke-opacity="0.075" stroke-width="1.5"/>
<circle cx="1381.2" cy="1192.6" r="3.75" fill="#000" fill-opacity="0.068" stroke="#000" stroke-opacity="0.075" stroke-width="1.5"/>
<circle cx="1397.4" cy="1192.6" r="3.75" fill="#000" fill-opacity="0.189" stroke="#000" stroke-opacity="0.209" stroke-width="1.5"/>
<circle cx="1461.4" cy="1192.6" r="3.75" fill="#000" fill-opacity="0.068" stroke="#000" stroke-opacity="0.075" stroke-width="1.5"/>
<circle cx="1494.6" cy="1192.6" r="3.75" fill="#000" fill-opacity="0.244" stroke="#000" stroke-opacity="0.268" stroke-width="1.5"/>
<circle cx="931.65" cy="1192.6" r="3.75" fill="#000" fill-opacity="0.093" stroke="#000" stroke-opacity="0.103" stroke-width="1.5"/>
<circle cx="940.75" cy="1192.6" r="3.75" fill="#000" fill-opacity="0.093" stroke="#000" stroke-opacity="0.103" stroke-width="1.5"/>
<circle cx="969.85" cy="1192.6" r="3.75" fill="#000" fill-opacity="0.093" stroke="#000" stroke-opacity="0.103" stroke-width="1.5"/>
<circle cx="979.5" cy="1192.6" r="3.75" fill="#000" fill-opacity="0.178" stroke="#000" stroke-opacity="0.196" stroke-width="1.5"/>
<circle cx="985.95" cy="1192.6" r="3.75" fill="#000" fill-opacity="0.093" stroke="#000" stroke-opacity="0.103" stroke-width="1.5"/>
<circle cx="994.05" cy="1192.6" r="3.75" fill="#000" fill-opacity="0.093" stroke="#000" stroke-opacity="0.103" stroke-width="1.5"/>
<circle cx="1003.7" cy="1192.6" r="3.75" fill="#000" fill-opacity="0.093" stroke="#000" stroke-opacity="0.103" stroke-width="1.5"/>
<circle cx="1012.8" cy="1192.6" r="3.75" fill="#000" fill-opacity="0.093" stroke="#000" stroke-opacity="0.103" stroke-width="1.5"/>
<circle cx="1022.5" cy="1192.6" r="3.75" fill="#000" fill-opacity="0.136" stroke="#000" stroke-opacity="0.151" stroke-width="1.5"/>
<circle cx="1032" cy="1192.6" r="3.75" fill="#000" fill-opacity="0.136" stroke="#000" stroke-opacity="0.151" stroke-width="1.5"/>
<circle cx="1064.45" cy="1192.6" r="3.75" fill="#000" fill-opacity="0.136" stroke="#000" stroke-opacity="0.151" stroke-width="1.5"/>
<circle cx="1074.65" cy="1192.6" r="3.75" fill="#000" fill-opacity="0.136" stroke="#000" stroke-opacity="0.151" stroke-width="1.5"/>
<circle cx="1083.8" cy="1192.6" r="3.75" fill="#000" fill-opacity="0.136" stroke="#000" stroke-opacity="0.151" stroke-width="1.5"/>
<circle cx="1094.55" cy="1192.6" r="3.75" fill="#000" fill-opacity="0.178" stroke="#000" stroke-opacity="0.196" stroke-width="1.5"/>
<circle cx="1103.7" cy="1192.6" r="3.75" fill="#000" fill-opacity="0.136" stroke="#000" stroke-opacity="0.151" stroke-width="1.5"/>
<circle cx="1113.7" cy="1192.6" r="3.75" fill="#000" fill-opacity="0.136" stroke="#000" stroke-opacity="0.151" stroke-width="1.5"/>
<circle cx="1125.5" cy="1192.6" r="3.75" fill="#000" fill-opacity="0.217" stroke="#000" stroke-opacity="0.239" stroke-width="1.5"/>
<circle cx="1137.05" cy="1192.6" r="3.75" fill="#000" fill-opacity="0.136" stroke="#000" stroke-opacity="0.151" stroke-width="1.5"/>
<circle cx="1148.9" cy="1192.6" r="3.75" fill="#000" fill-opacity="0.093" stroke="#000" stroke-opacity="0.103" stroke-width="1.5"/>
<circle cx="1178.3" cy="1192.6" r="3.75" fill="#000" fill-opacity="0.136" stroke="#000" stroke-opacity="0.151" stroke-width="1.5"/>
<circle cx="1186.15" cy="1192.6" r="3.75" fill="#000" fill-opacity="0.136" stroke="#000" stroke-opacity="0.151" stroke-width="1.5"/>
<circle cx="1193.05" cy="1192.6" r="3.75" fill="#000" fill-opacity="0.136" stroke="#000" stroke-opacity="0.151" stroke-width="1.5"/>
<circle cx="1215.65" cy="1192.6" r="3.75" fill="#000" fill-opacity="0.093" stroke="#000" stroke-opacity="0.103" stroke-width="1.5"/>
<circle cx="1224.25" cy="1192.6" r="3.75" fill="#000" fill-opacity="0.136" stroke="#000" stroke-opacity="0.151" stroke-width="1.5"/>
<circle cx="1238.2" cy="1192.6" r="3.75" fill="#000" fill-opacity="0.136" stroke="#000" stroke-opacity="0.151" stroke-width="1.5"/>
<circle cx="1245.75" cy="1192.6" r="3.75" fill="#000" fill-opacity="0.136" stroke="#000" stroke-opacity="0.151" stroke-width="1.5"/>
<circle cx="1251.65" cy="1192.6" r="3.75" fill="#000" fill-opacity="0.093" stroke="#000" stroke-opacity="0.103" stroke-width="1.5"/>
<circle cx="1261.3" cy="1192.6" r="3.75" fill="#000" fill-opacity="0.093" stroke="#000" stroke-opacity="0.103" stroke-width="1.5"/>
<circle cx="1272.6" cy="1192.6" r="3.75" fill="#000" fill-opacity="0.136" stroke="#000" stroke-opacity="0.151" stroke-width="1.5"/>
<circle cx="1293.6" cy="1192.6" r="3.75" fill="#000" fill-opacity="0.093" stroke="#000" stroke-opacity="0.103" stroke-width="1.5"/>
<circle cx="870.5" cy="1333.5" r="3.75" fill="#000" fill-opacity="0.552" stroke="#000" stroke-opacity="0.592" stroke-width="1.5"/>
<circle cx="879.5" cy="1333.5" r="3.75" fill="#000" fill-opacity="0.130" stroke="#000" stroke-opacity="0.144" stroke-width="1.5"/>
<circle cx="893.5" cy="1333.5" r="3.75" fill="#000" fill-opacity="0.068" stroke="#000" stroke-opacity="0.075" stroke-width="1.5"/>
<circle cx="919.3" cy="1333.5" r="3.75" fill="#000" fill-opacity="0.068" stroke="#000" stroke-opacity="0.075" stroke-width="1.5"/>
<circle cx="939.7" cy="1333.5" r="3.75" fill="#000" fill-opacity="0.130" stroke="#000" stroke-opacity="0.144" stroke-width="1.5"/>
<circle cx="955.8" cy="1333.5" r="3.75" fill="#000" fill-opacity="0.189" stroke="#000" stroke-opacity="0.209" stroke-width="1.5"/>
<circle cx="963.4" cy="1333.5" r="3.75" fill="#000" fill-opacity="0.130" stroke="#000" stroke-opacity="0.144" stroke-width="1.5"/>
<circle cx="967.7" cy="1333.5" r="3.75" fill="#000" fill-opacity="0.130" stroke="#000" stroke-opacity="0.144" stroke-width="1.5"/>
<circle cx="974.1" cy="1333.5" r="3.75" fill="#000" fill-opacity="0.130" stroke="#000" stroke-opacity="0.144" stroke-width="1.5"/>
<circle cx="987" cy="1333.5" r="3.75" fill="#000" fill-opacity="0.130" stroke="#000" stroke-opacity="0.144" stroke-width="1.5"/>
<circle cx="992.4" cy="1333.5" r="3.75" fill="#000" fill-opacity="0.068" stroke="#000" stroke-opacity="0.075" stroke-width="1.5"/>
<circle cx="1008.5" cy="1333.5" r="3.75" fill="#000" fill-opacity="0.068" stroke="#000" stroke-opacity="0.075" stroke-width="1.5"/>
<circle cx="1024.7" cy="1333.5" r="3.75" fill="#000" fill-opacity="0.068" stroke="#000" stroke-opacity="0.075" stroke-width="1.5"/>
<circle cx="1032.2" cy="1333.5" r="3.75" fill="#000" fill-opacity="0.068" stroke="#000" stroke-opacity="0.075" stroke-width="1.5"/>
<circle cx="1038.6" cy="1333.5" r="3.75" fill="#000" fill-opacity="0.068" stroke="#000" stroke-opacity="0.075" stroke-width="1.5"/>
<circle cx="1058" cy="1333.5" r="3.75" fill="#000" fill-opacity="0.244" stroke="#000" stroke-opacity="0.268" stroke-width="1.5"/>
<circle cx="1069.8" cy="1333.5" r="3.75" fill="#000" fill-opacity="0.068" stroke="#000" stroke-opacity="0.075" stroke-width="1.5"/>
<circle cx="1074.1" cy="1333.5" r="3.75" fill="#000" fill-opacity="0.068" stroke="#000" stroke-opacity="0.075" stroke-width="1.5"/>
<circle cx="1087" cy="1333.5" r="3.75" fill="#000" fill-opacity="0.130" stroke="#000" stroke-opacity="0.144" stroke-width="1.5"/>
<circle cx="1103.2" cy="1333.5" r="3.75" fill="#000" fill-opacity="0.130" stroke="#000" stroke-opacity="0.144" stroke-width="1.5"/>
<circle cx="1119.3" cy="1333.5" r="3.75" fill="#000" fill-opacity="0.552" stroke="#000" stroke-opacity="0.592" stroke-width="1.5"/>
<circle cx="1135.4" cy="1333.5" r="3.75" fill="#000" fill-opacity="0.068" stroke="#000" stroke-opacity="0.075" stroke-width="1.5"/>
<circle cx="1146.2" cy="1333.5" r="3.75" fill="#000" fill-opacity="0.068" stroke="#000" stroke-opacity="0.075" stroke-width="1.5"/>
<circle cx="1165.5" cy="1333.5" r="3.75" fill="#000" fill-opacity="0.130" stroke="#000" stroke-opacity="0.144" stroke-width="1.5"/>
<circle cx="1184.9" cy="1333.5" r="3.75" fill="#000" fill-opacity="0.068" stroke="#000" stroke-opacity="0.075" stroke-width="1.5"/>
<circle cx="1188.8" cy="1333.5" r="3.75" fill="#000" fill-opacity="0.068" stroke="#000" stroke-opacity="0.075" stroke-width="1.5"/>
<circle cx="1197.4" cy="1333.5" r="3.75" fill="#000" fill-opacity="0.130" stroke="#000" stroke-opacity="0.144" stroke-width="1.5"/>
<circle cx="1201.7" cy="1333.5" r="3.75" fill="#000" fill-opacity="0.130" stroke="#000" stroke-opacity="0.144" stroke-width="1.5"/>
<circle cx="1221" cy="1333.5" r="3.75" fill="#000" fill-opacity="0.068" stroke="#000" stroke-opacity="0.075" stroke-width="1.5"/>
<circle cx="1227.5" cy="1333.5" r="3.75" fill="#000" fill-opacity="0.068" stroke="#000" stroke-opacity="0.075" stroke-width="1.5"/>
<circle cx="1246.8" cy="1333.5" r="3.75" fill="#000" fill-opacity="0.130" stroke="#000" stroke-opacity="0.144" stroke-width="1.5"/>
<circle cx="1253.3" cy="1333.5" r="3.75" fill="#000" fill-opacity="0.189" stroke="#000" stroke-opacity="0.209" stroke-width="1.5"/>
<circle cx="1269.4" cy="1333.5" r="3.75" fill="#000" fill-opacity="0.068" stroke="#000" stroke-opacity="0.075" stroke-width="1.5"/>
<circle cx="1286.6" cy="1333.5" r="3.75" fill="#000" fill-opacity="0.068" stroke="#000" stroke-opacity="0.075" stroke-width="1.5"/>
<circle cx="1306.6" cy="1333.5" r="3.75" fill="#000" fill-opacity="0.068" stroke="#000" stroke-opacity="0.075" stroke-width="1.5"/>
<circle cx="1324.2" cy="1333.5" r="3.75" fill="#000" fill-opacity="0.068" stroke="#000" stroke-opacity="0.075" stroke-width="1.5"/>
<circle cx="1373.3" cy="1333.5" r="3.75" fill="#000" fill-opacity="0.068" stroke="#000" stroke-opacity="0.075" stroke-width="1.5"/>
<circle cx="1394.1" cy="1333.5" r="3.75" fill="#000" fill-opacity="0.068" stroke="#000" stroke-opacity="0.075" stroke-width="1.5"/>
<circle cx="1461.9" cy="1333.5" r="3.75" fill="#000" fill-opacity="0.068" stroke="#000" stroke-opacity="0.075" stroke-width="1.5"/>
<circle cx="1478" cy="1333.5" r="3.75" fill="#000" fill-opacity="0.068" stroke="#000" stroke-opacity="0.075" stroke-width="1.5"/>
<circle cx="1488.8" cy="1333.5" r="3.75" fill="#000" fill-opacity="0.068" stroke="#000" stroke-opacity="0.075" stroke-width="1.5"/>
<circle cx="1494.6" cy="1333.5" r="3.75" fill="#000" fill-opacity="0.735" stroke="#000" stroke-opacity="0.773" stroke-width="1.5"/>
<circle cx="875" cy="1333.5" r="3.75" fill="#000" fill-opacity="0.093" stroke="#000" stroke-opacity="0.103" stroke-width="1.5"/>
<circle cx="947.75" cy="1333.5" r="3.75" fill="#000" fill-opacity="0.093" stroke="#000" stroke-opacity="0.103" stroke-width="1.5"/>
<circle cx="959.6" cy="1333.5" r="3.75" fill="#000" fill-opacity="0.093" stroke="#000" stroke-opacity="0.103" stroke-width="1.5"/>
<circle cx="970.9" cy="1333.5" r="3.75" fill="#000" fill-opacity="0.093" stroke="#000" stroke-opacity="0.103" stroke-width="1.5"/>
<circle cx="980.55" cy="1333.5" r="3.75" fill="#000" fill-opacity="0.093" stroke="#000" stroke-opacity="0.103" stroke-width="1.5"/>
<circle cx="1095.1" cy="1333.5" r="3.75" fill="#000" fill-opacity="0.093" stroke="#000" stroke-opacity="0.103" stroke-width="1.5"/>
<circle cx="1111.25" cy="1333.5" r="3.75" fill="#000" fill-opacity="0.093" stroke="#000" stroke-opacity="0.103" stroke-width="1.5"/>
<circle cx="1250.05" cy="1333.5" r="3.75" fill="#000" fill-opacity="0.093" stroke="#000" stroke-opacity="0.103" stroke-width="1.5"/>
</g>
<path d="M870.4,950.95 L880.81,952.49 L891.22,954.03 L901.63,955.55 L912.04,957.07 L922.45,958.57 L932.86,960.07 L943.27,961.54 L953.68,963.01 L964.09,964.46 L974.5,965.88 L984.91,967.29 L995.32,968.67 L1005.73,970.03 L1016.14,971.35 L1026.55,972.64 L1036.96,973.89 L1047.37,975.1 L1057.78,976.26 L1068.19,977.38 L1078.6,978.44 L1089.01,979.45 L1099.42,980.4 L1109.83,981.29 L1120.24,982.12 L1130.65,982.9 L1141.06,983.63 L1151.47,984.3 L1161.88,984.93 L1172.29,985.52 L1182.7,986.06 L1193.11,986.57 L1203.52,987.05 L1213.93,987.5 L1224.34,987.93 L1234.75,988.33 L1245.16,988.71 L1255.57,989.08 L1265.98,989.42 L1276.39,989.76 L1286.8,990.08 L1297.21,990.39 L1307.62,990.69 L1318.03,990.98 L1328.44,991.27 L1338.85,991.54 L1349.26,991.81 L1359.67,992.08 L1370.08,992.34 L1380.49,992.59 L1390.9,992.84 L1401.31,993.08 L1411.72,993.32 L1422.13,993.56 L1432.54,993.8 L1442.95,994.03 L1453.36,994.26 L1463.77,994.48 L1474.18,994.71 L1484.59,994.93 L1495,995.15 L1495,1053.45 L1484.59,1051.85 L1474.18,1050.25 L1463.77,1048.65 L1453.36,1047.05 L1442.95,1045.46 L1432.54,1043.86 L1422.13,1042.27 L1411.72,1040.69 L1401.31,1039.11 L1390.9,1037.53 L1380.49,1035.95 L1370.08,1034.38 L1359.67,1032.82 L1349.26,1031.26 L1338.85,1029.71 L1328.44,1028.16 L1318.03,1026.62 L1307.62,1025.09 L1297.21,1023.57 L1286.8,1022.05 L1276.39,1020.55 L1265.98,1019.06 L1255.57,1017.59 L1245.16,1016.13 L1234.75,1014.69 L1224.34,1013.27 L1213.93,1011.87 L1203.52,1010.5 L1193.11,1009.15 L1182.7,1007.84 L1172.29,1006.56 L1161.88,1005.32 L1151.47,1004.13 L1141.06,1002.98 L1130.65,1001.88 L1120.24,1000.84 L1109.83,999.85 L1099.42,998.92 L1089.01,998.04 L1078.6,997.23 L1068.19,996.47 L1057.78,995.76 L1047.37,995.1 L1036.96,994.48 L1026.55,993.91 L1016.14,993.38 L1005.73,992.88 L995.32,992.41 L984.91,991.97 L974.5,991.55 L964.09,991.15 L953.68,990.78 L943.27,990.42 L932.86,990.07 L922.45,989.74 L912.04,989.43 L901.63,989.12 L891.22,988.82 L880.81,988.53 L870.4,988.25Z" fill="#999999" fill-opacity="0.4"/>
<line x1="870.4" y1="969.6" x2="1495" y2="1024.3" stroke="#3366FF" stroke-width="4.1"/>
<text transform="translate(1362.5,857) scale(1,0.97)" font-size="22.4" text-anchor="middle" fill="#000" stroke="#000" stroke-width="0.25">ρ = -0.03 , p =  0.22</text>
</g>
<rect x="840.1" y="742.9" width="685.8" height="618.4" fill="none" stroke="#222222" stroke-width="1.45"/>
<line x1="834.1" x2="840.1" y1="1333.5" y2="1333.5" stroke="#1a1a1a" stroke-width="1.9"/>
<text transform="translate(829.5,1340.1)" font-size="16.8" text-anchor="end" fill="#2e2e2e">1</text>
<line x1="834.1" x2="840.1" y1="1192.6" y2="1192.6" stroke="#1a1a1a" stroke-width="1.9"/>
<text transform="translate(829.5,1199.2)" font-size="16.8" text-anchor="end" fill="#2e2e2e">2</text>
<line x1="834.1" x2="840.1" y1="1051.7" y2="1051.7" stroke="#1a1a1a" stroke-width="1.9"/>
<text transform="translate(829.5,1058.3)" font-size="16.8" text-anchor="end" fill="#2e2e2e">3</text>
<line x1="834.1" x2="840.1" y1="910.8" y2="910.8" stroke="#1a1a1a" stroke-width="1.9"/>
<text transform="translate(829.5,917.4)" font-size="16.8" text-anchor="end" fill="#2e2e2e">4</text>
<line x1="834.1" x2="840.1" y1="769.9" y2="769.9" stroke="#1a1a1a" stroke-width="1.9"/>
<text transform="translate(829.5,776.5)" font-size="16.8" text-anchor="end" fill="#2e2e2e">5</text>
<line x1="876.8" x2="876.8" y1="1361.3" y2="1367.3" stroke="#1a1a1a" stroke-width="1.9"/>
<text transform="translate(876.8,1383.9)" font-size="16.8" text-anchor="middle" fill="#2e2e2e">600</text>
<line x1="1036.12" x2="1036.12" y1="1361.3" y2="1367.3" stroke="#1a1a1a" stroke-width="1.9"/>
<text transform="translate(1036.12,1383.9)" font-size="16.8" text-anchor="middle" fill="#2e2e2e">900</text>
<line x1="1195.44" x2="1195.44" y1="1361.3" y2="1367.3" stroke="#1a1a1a" stroke-width="1.9"/>
<text transform="translate(1195.44,1383.9)" font-size="16.8" text-anchor="middle" fill="#2e2e2e">1200</text>
<line x1="1354.75" x2="1354.75" y1="1361.3" y2="1367.3" stroke="#1a1a1a" stroke-width="1.9"/>
<text transform="translate(1354.75,1383.9)" font-size="16.8" text-anchor="middle" fill="#2e2e2e">1500</text>
<line x1="1514.07" x2="1514.07" y1="1361.3" y2="1367.3" stroke="#1a1a1a" stroke-width="1.9"/>
<text transform="translate(1514.07,1383.9)" font-size="16.8" text-anchor="middle" fill="#2e2e2e">1800</text>
<text transform="translate(1183,1408.9) scale(1,1.03)" font-size="21.85" text-anchor="middle" fill="#000" stroke="#000" stroke-width="0.25">Carbon Budget Set (kg)</text>
<text transform="translate(810.3,1052.1) rotate(-90) scale(1,1.03)" font-size="21.85" text-anchor="middle" fill="#000" stroke="#000" stroke-width="0.25">Interest in Knowing Impact of Own Spending (1-5)</text>
<text transform="translate(779,739)" font-size="25.5" fill="#000" stroke="#000" stroke-width="0.25">d</text>
</g>
</svg></body></html>
